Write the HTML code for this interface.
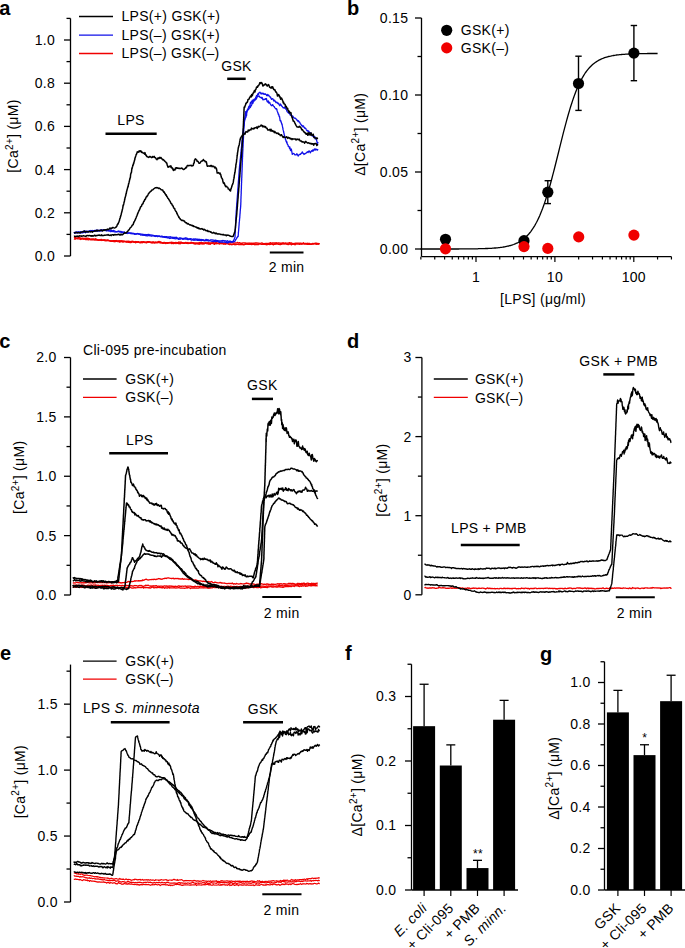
<!DOCTYPE html>
<html><head><meta charset="utf-8"><style>
html,body{margin:0;padding:0;background:#fff;}
body{width:685px;height:948px;overflow:hidden;}
svg{display:block;}
text{font-family:"Liberation Sans", sans-serif;fill:#000;letter-spacing:0.3px;}
</style></head><body>
<svg width="685" height="948" viewBox="0 0 685 948">
<text x="-0.80" y="15.00" font-size="20" text-anchor="start" font-weight="bold" font-style="normal" style="letter-spacing:0">a</text>
<line x1="70.50" y1="18.40" x2="70.50" y2="256.00" stroke="#000" stroke-width="1.3"/>
<line x1="64.00" y1="256.00" x2="70.50" y2="256.00" stroke="#000" stroke-width="1.3"/>
<line x1="64.00" y1="212.80" x2="70.50" y2="212.80" stroke="#000" stroke-width="1.3"/>
<line x1="64.00" y1="169.60" x2="70.50" y2="169.60" stroke="#000" stroke-width="1.3"/>
<line x1="64.00" y1="126.40" x2="70.50" y2="126.40" stroke="#000" stroke-width="1.3"/>
<line x1="64.00" y1="83.20" x2="70.50" y2="83.20" stroke="#000" stroke-width="1.3"/>
<line x1="64.00" y1="40.00" x2="70.50" y2="40.00" stroke="#000" stroke-width="1.3"/>
<line x1="66.50" y1="234.40" x2="70.50" y2="234.40" stroke="#000" stroke-width="1.3"/>
<line x1="66.50" y1="191.20" x2="70.50" y2="191.20" stroke="#000" stroke-width="1.3"/>
<line x1="66.50" y1="148.00" x2="70.50" y2="148.00" stroke="#000" stroke-width="1.3"/>
<line x1="66.50" y1="104.80" x2="70.50" y2="104.80" stroke="#000" stroke-width="1.3"/>
<line x1="66.50" y1="61.60" x2="70.50" y2="61.60" stroke="#000" stroke-width="1.3"/>
<line x1="66.50" y1="18.40" x2="70.50" y2="18.40" stroke="#000" stroke-width="1.3"/>
<text x="55.00" y="260.90" font-size="14" text-anchor="end" font-weight="normal" font-style="normal" >0.0</text>
<text x="55.00" y="217.70" font-size="14" text-anchor="end" font-weight="normal" font-style="normal" >0.2</text>
<text x="55.00" y="174.50" font-size="14" text-anchor="end" font-weight="normal" font-style="normal" >0.4</text>
<text x="55.00" y="131.30" font-size="14" text-anchor="end" font-weight="normal" font-style="normal" >0.6</text>
<text x="55.00" y="88.10" font-size="14" text-anchor="end" font-weight="normal" font-style="normal" >0.8</text>
<text x="55.00" y="44.90" font-size="14" text-anchor="end" font-weight="normal" font-style="normal" >1.0</text>
<text transform="translate(18.00,136.00) rotate(-90)" font-size="14" text-anchor="middle">[Ca<tspan font-size="10" dy="-5.5">2+</tspan><tspan dy="5.5">] (μM)</tspan></text>
<line x1="79.00" y1="16.50" x2="113.00" y2="16.50" stroke="#000" stroke-width="1.3"/>
<text x="121.50" y="21.20" font-size="14" text-anchor="start" font-weight="normal" font-style="normal" >LPS(+) GSK(+)</text>
<line x1="79.00" y1="35.20" x2="113.00" y2="35.20" stroke="#1010e8" stroke-width="1.3"/>
<text x="121.50" y="39.90" font-size="14" text-anchor="start" font-weight="normal" font-style="normal" >LPS(–) GSK(+)</text>
<line x1="79.00" y1="53.50" x2="113.00" y2="53.50" stroke="#f00000" stroke-width="1.3"/>
<text x="121.50" y="58.20" font-size="14" text-anchor="start" font-weight="normal" font-style="normal" >LPS(–) GSK(–)</text>
<line x1="105.50" y1="133.70" x2="156.70" y2="133.70" stroke="#000" stroke-width="2.5"/>
<text x="131.00" y="124.80" font-size="14" text-anchor="middle" font-weight="normal" font-style="normal" >LPS</text>
<line x1="227.20" y1="78.80" x2="245.70" y2="78.80" stroke="#000" stroke-width="2.5"/>
<text x="236.50" y="71.20" font-size="14" text-anchor="middle" font-weight="normal" font-style="normal" >GSK</text>
<line x1="269.80" y1="252.40" x2="303.50" y2="252.40" stroke="#000" stroke-width="2"/>
<text x="286.60" y="271.50" font-size="14" text-anchor="middle" font-weight="normal" font-style="normal" >2 min</text>
<path d="M73.9,237.7 74.5,237.6 75.1,237.5 75.7,238.0 76.3,238.2 76.9,238.2 77.5,238.0 78.1,238.1 78.7,237.4 79.3,237.7 79.9,238.0 80.5,238.1 81.1,238.4 81.7,238.5 82.3,238.7 82.9,238.2 83.5,238.4 84.1,238.6 84.7,238.4 85.3,238.7 85.9,238.5 86.5,238.4 87.1,239.0 87.7,238.4 88.3,238.5 88.9,238.9 89.5,238.8 90.1,239.1 90.7,239.4 91.3,239.1 91.9,239.3 92.5,239.1 93.1,239.0 93.7,239.1 94.3,239.2 94.9,239.7 95.5,238.8 96.1,239.3 96.7,239.5 97.3,239.7 97.9,239.8 98.5,240.2 99.1,240.2 99.7,239.9 100.3,240.1 100.9,239.5 101.5,239.6 102.1,240.1 102.7,240.1 103.3,240.0 103.9,240.3 104.5,240.5 105.1,240.1 105.7,240.5 106.3,240.4 106.9,240.6 107.5,240.3 108.1,240.4 108.7,240.6 109.3,240.8 109.9,240.8 110.5,241.1 111.1,241.0 111.7,241.1 112.3,241.0 112.9,241.1 113.5,241.3 114.1,241.6 114.7,241.2 115.3,241.4 115.9,241.2 116.5,241.1 117.1,241.3 117.7,241.4 118.3,241.4 118.9,241.3 119.5,242.0 120.1,241.7 120.7,241.6 121.3,241.0 121.9,241.3 122.5,241.8 123.1,242.1 123.7,241.4 124.3,241.6 124.9,241.4 125.5,241.8 126.1,241.8 126.7,242.2 127.3,241.9 127.9,242.1 128.5,242.2 129.1,242.1 129.7,242.4 130.3,242.4 130.9,242.4 131.5,242.3 132.1,241.5 132.7,241.8 133.3,241.5 133.9,242.2 134.5,242.2 135.1,242.0 135.7,242.6 136.3,242.3 136.9,242.2 137.5,242.0 138.1,241.8 138.7,242.1 139.3,242.2 139.9,242.8 140.5,242.6 141.1,242.5 141.7,242.3 142.3,242.5 142.9,241.9 143.5,241.8 144.1,241.9 144.7,242.2 145.3,242.4 145.9,242.4 146.5,242.8 147.1,242.4 147.7,241.7 148.3,241.9 148.9,241.7 149.5,241.9 150.1,242.0 150.7,242.5 151.3,242.7 151.9,242.2 152.5,242.5 153.1,241.9 153.7,242.5 154.3,242.6 154.9,242.3 155.5,242.1 156.1,242.4 156.7,242.2 157.3,242.1 157.9,242.1 158.5,241.8 159.1,241.6 159.7,242.3 160.3,241.9 160.9,242.2 161.6,242.7 162.2,242.8 162.8,243.1 163.4,242.6 164.0,243.2 164.6,242.7 165.2,242.9 165.8,243.5 166.4,242.9 167.0,243.1 167.6,243.3 168.2,242.8 168.8,243.0 169.4,242.8 170.0,242.6 170.6,242.9 171.2,242.6 171.8,243.5 172.4,242.8 173.0,243.3 173.6,243.5 174.2,243.3 174.8,242.9 175.4,242.8 176.0,243.5 176.6,242.7 177.2,243.0 177.8,242.7 178.4,243.5 179.0,242.8 179.6,243.5 180.2,243.7 180.8,243.3 181.4,242.6 182.0,243.0 182.6,242.8 183.2,243.1 183.8,243.2 184.4,243.3 185.0,243.0 185.6,243.0 186.2,243.1 186.8,243.2 187.4,242.9 188.0,243.5 188.6,243.3 189.2,243.2 189.8,243.0 190.4,243.1 191.0,242.4 191.6,243.1 192.2,242.7 192.8,243.1 193.4,243.3 194.0,243.7 194.6,243.6 195.2,244.0 195.8,243.7 196.4,243.8 197.0,243.7 197.6,243.8 198.2,244.0 198.8,243.7 199.4,244.1 200.0,243.7 200.6,243.7 201.2,243.5 201.8,243.7 202.4,243.7 203.0,243.9 203.6,243.8 204.2,243.8 204.8,243.3 205.4,243.2 206.0,243.1 206.6,243.5 207.2,243.6 207.8,243.3 208.4,244.0 209.0,243.9 209.6,243.5 210.2,244.1 210.8,243.5 211.4,243.4 212.0,243.1 212.7,243.1 213.3,243.6 213.9,243.9 214.5,244.2 215.1,243.6 215.7,243.3 216.3,243.6 216.9,243.5 217.5,243.5 218.1,243.5 218.7,243.5 219.3,243.9 219.9,243.7 220.5,243.3 221.1,243.6 221.7,243.5 222.3,243.4 222.9,243.6 223.5,244.0 224.1,243.7 224.7,243.8 225.3,244.1 225.9,243.6 226.5,243.7 227.1,243.6 227.7,243.7 228.3,243.8 228.9,244.3 229.5,244.5 230.1,244.1 230.7,244.2 231.3,244.6 231.9,244.4 232.5,244.4 233.1,244.3 233.7,244.1 234.3,244.3 234.9,244.7 235.5,244.2 236.1,244.4 236.7,244.2 237.3,244.3 238.0,244.3 238.6,244.4 239.2,244.3 239.8,244.4 240.4,244.4 241.0,244.4 241.6,244.5 242.2,244.4 242.8,244.3 243.4,244.7 244.0,244.7 244.6,244.4 245.2,244.1 245.8,244.1 246.4,244.1 247.0,243.7 247.6,244.2 248.2,244.2 248.8,244.1 249.4,244.0 250.0,244.3 250.6,244.3 251.2,244.2 251.8,244.4 252.4,244.3 253.0,244.1 253.6,244.0 254.2,244.3 254.8,244.7 255.4,244.2 256.0,244.4 256.6,244.5 257.2,244.5 257.8,244.3 258.4,244.4 259.0,243.7 259.6,243.8 260.2,244.0 260.8,244.0 261.4,244.2 262.0,244.3 262.6,244.0 263.2,244.1 263.8,244.3 264.4,244.1 265.0,244.3 265.6,244.3 266.2,244.6 266.8,244.5 267.4,244.4 268.0,244.2 268.6,243.9 269.2,244.3 269.8,244.4 270.4,243.9 271.0,244.2 271.6,243.8 272.2,243.9 272.8,244.4 273.4,244.7 274.0,244.0 274.6,244.3 275.2,243.8 275.8,244.1 276.4,243.8 277.0,243.9 277.6,243.9 278.2,244.1 278.8,244.2 279.4,244.2 280.0,244.4 280.6,244.4 281.2,244.3 281.8,243.9 282.4,243.9 283.0,243.4 283.6,243.9 284.2,244.0 284.8,243.8 285.4,243.7 286.0,243.9 286.6,244.1 287.2,244.0 287.8,244.4 288.4,244.4 289.0,243.9 289.6,244.1 290.2,243.4 290.8,244.1 291.4,244.6 292.0,244.1 292.6,244.3 293.2,244.2 293.8,243.6 294.4,244.2 295.0,244.7 295.6,244.1 296.2,243.8 296.8,244.0 297.4,243.9 298.0,244.0 298.6,244.0 299.2,244.1 299.8,244.1 300.4,243.8 301.0,244.2 301.6,244.0 302.2,244.0 302.8,243.9 303.4,243.8 304.0,243.7 304.6,243.9 305.2,244.0 305.8,243.6 306.4,244.0 307.0,244.1 307.6,244.3 308.2,244.0 308.8,244.2 309.4,244.2 310.0,244.2 310.6,244.3 311.2,244.3 311.8,244.2 312.4,243.9 313.0,243.9 313.6,243.7 314.2,243.8 314.8,243.7 315.4,243.9 316.0,243.7 316.6,244.2 317.2,243.9 317.8,244.1 318.4,244.2 319.0,243.8 319.6,243.8" fill="none" stroke="#f00000" stroke-width="1.6" stroke-linejoin="round"/>
<path d="M73.9,238.9 74.5,239.1 75.1,238.7 75.7,239.1 76.3,238.6 76.9,238.6 77.5,238.8 78.1,238.9 78.7,238.8 79.3,238.9 79.9,239.2 80.5,239.5 81.1,239.1 81.8,239.0 82.4,238.8 83.0,238.9 83.6,239.3 84.2,239.0 84.8,239.1 85.4,239.5 86.0,239.6 86.6,239.7 87.2,239.7 87.8,239.7 88.4,239.9 89.0,239.7 89.6,239.4 90.2,239.7 90.8,239.8 91.4,239.9 92.0,239.6 92.6,239.8 93.2,239.7 93.8,239.8 94.4,239.7 95.0,240.0 95.6,239.9 96.2,239.7 96.9,240.2 97.5,239.9 98.1,240.1 98.7,240.0 99.3,239.9 99.9,239.9 100.5,240.2 101.1,240.0 101.7,240.5 102.3,240.3 102.9,240.1 103.5,240.0 104.1,240.3 104.7,239.8 105.3,240.5 105.9,240.4 106.5,240.5 107.1,240.0 107.7,240.5 108.3,240.2 108.9,240.7 109.5,240.9 110.1,240.8 110.7,240.8 111.3,240.9 112.0,240.8 112.6,240.8 113.2,240.7 113.8,240.6 114.4,240.9 115.0,240.6 115.6,240.9 116.2,240.5 116.8,241.1 117.4,241.0 118.0,241.0 118.6,240.8 119.2,240.7 119.8,240.8 120.4,240.8 121.0,240.7 121.6,241.1 122.2,241.0 122.8,240.9 123.4,241.1 124.0,241.1 124.6,241.4 125.2,241.6 125.8,241.4 126.4,241.3 127.0,241.1 127.7,241.3 128.3,241.2 128.9,241.4 129.5,241.4 130.1,241.4 130.7,242.2 131.3,241.3 131.9,241.5 132.5,241.4 133.1,241.9 133.7,241.7 134.3,241.8 134.9,241.8 135.5,241.5 136.1,241.8 136.7,241.6 137.3,241.9 137.9,242.4 138.5,241.6 139.1,242.3 139.7,242.3 140.3,242.0 140.9,242.1 141.5,241.7 142.1,242.7 142.8,242.1 143.4,242.1 144.0,242.5 144.6,242.4 145.2,242.2 145.8,242.2 146.4,242.2 147.0,241.7 147.6,241.9 148.2,242.2 148.8,242.4 149.4,242.2 150.0,242.0 150.6,242.4 151.2,242.3 151.8,242.6 152.4,242.8 153.0,242.9 153.6,242.5 154.2,242.3 154.8,243.0 155.4,242.7 156.0,242.9 156.6,242.7 157.2,242.7 157.8,242.9 158.4,242.5 159.0,242.3 159.6,242.7 160.2,243.0 160.8,242.9 161.4,242.7 162.0,243.0 162.6,243.0 163.2,242.9 163.8,243.0 164.4,242.5 165.0,242.5 165.6,242.7 166.2,243.0 166.8,242.6 167.4,243.1 168.0,242.7 168.6,242.6 169.2,242.8 169.8,242.7 170.4,242.7 171.0,242.2 171.7,242.4 172.3,242.3 172.9,242.4 173.5,242.8 174.1,242.7 174.7,242.7 175.3,242.8 175.9,242.3 176.5,242.5 177.1,242.7 177.7,243.1 178.3,242.4 178.9,242.0 179.5,242.2 180.1,242.0 180.7,242.3 181.3,242.2 181.9,242.7 182.5,243.1 183.1,242.9 183.7,243.3 184.3,243.0 184.9,242.9 185.5,242.5 186.1,242.4 186.7,243.0 187.3,242.8 187.9,242.5 188.5,243.2 189.1,243.1 189.7,243.2 190.3,243.1 190.9,242.9 191.5,242.5 192.1,242.6 192.7,242.8 193.3,242.7 193.9,242.8 194.5,242.9 195.1,243.0 195.7,242.8 196.3,242.9 196.9,242.8 197.5,243.1 198.1,242.8 198.7,242.8 199.3,242.5 199.9,242.7 200.5,242.7 201.1,242.9 201.7,242.5 202.3,243.1 202.9,242.7 203.5,243.0 204.1,242.9 204.7,243.0 205.3,242.8 205.9,242.5 206.5,243.1 207.1,243.3 207.7,242.7 208.3,242.7 208.9,242.8 209.5,242.8 210.1,242.8 210.7,243.0 211.3,242.9 211.9,242.9 212.5,243.0 213.1,242.5 213.8,242.5 214.4,242.8 215.0,243.2 215.6,242.6 216.2,243.1 216.8,242.7 217.4,243.2 218.0,243.0 218.6,243.2 219.2,242.6 219.8,243.0 220.4,243.1 221.0,242.8 221.6,242.9 222.2,243.1 222.8,243.6 223.4,243.4 224.0,243.5 224.6,243.1 225.2,243.4 225.8,243.3 226.4,243.1 227.0,242.9 227.6,242.6 228.2,242.6 228.8,243.1 229.4,242.9 230.0,242.9 230.6,242.6 231.2,242.8 231.8,242.5 232.4,242.7 233.0,242.9 233.6,242.8 234.2,243.1 234.8,243.2 235.4,242.9 236.0,242.9 236.6,242.9 237.2,242.7 237.8,242.4 238.4,243.1 239.0,242.9 239.6,242.6 240.2,243.0 240.8,243.4 241.4,243.2 242.0,243.5 242.6,242.9 243.2,242.8 243.8,242.8 244.4,242.9 245.0,243.1 245.6,242.9 246.2,243.5 246.8,243.2 247.4,243.2 248.0,243.3 248.6,243.1 249.2,243.0 249.8,243.3 250.4,243.2 251.0,243.5 251.6,243.2 252.2,243.5 252.8,243.1 253.4,243.1 254.0,243.5 254.6,243.2 255.2,242.9 255.8,243.0 256.5,243.0 257.1,243.0 257.7,243.1 258.3,243.2 258.9,243.1 259.5,243.3 260.1,243.4 260.7,243.3 261.3,243.0 261.9,242.8 262.5,243.2 263.1,243.7 263.7,243.5 264.3,243.9 264.9,243.4 265.5,243.8 266.1,243.4 266.7,243.5 267.3,243.6 267.9,243.3 268.5,243.3 269.1,243.8 269.7,243.0 270.3,242.7 270.9,242.9 271.5,243.5 272.1,242.9 272.7,242.9 273.3,242.8 273.9,243.1 274.5,243.0 275.1,243.0 275.7,242.9 276.3,242.7 276.9,243.3 277.5,243.1 278.1,242.7 278.7,243.1 279.3,243.1 279.9,242.9 280.5,243.4 281.1,242.9 281.7,243.4 282.3,242.9 282.9,243.1 283.5,242.9 284.1,243.3 284.7,243.1 285.3,242.8 285.9,243.2 286.5,243.1 287.1,243.1 287.7,243.2 288.3,243.2 288.9,242.8 289.5,242.6 290.1,243.1 290.7,243.2 291.3,242.8 291.9,243.4 292.5,243.4 293.1,243.6 293.7,243.6 294.3,243.6 294.9,243.2 295.5,243.5 296.1,243.2 296.7,243.1 297.3,243.2 297.9,243.1 298.6,243.2 299.2,243.4 299.8,243.1 300.4,243.2 301.0,243.2 301.6,243.3 302.2,243.4 302.8,243.4 303.4,242.8 304.0,243.5 304.6,243.5 305.2,243.4 305.8,243.6 306.4,243.7 307.0,243.1 307.6,243.5 308.2,243.5 308.8,243.3 309.4,243.4 310.0,243.7 310.6,244.2 311.2,244.2 311.8,243.8 312.4,243.5 313.0,243.5 313.6,243.9 314.2,243.3 314.8,243.5 315.4,243.2 316.0,243.1 316.6,243.6 317.2,243.3 317.8,243.6 318.4,243.5 319.0,243.7 319.6,243.5" fill="none" stroke="#f00000" stroke-width="1.3" stroke-linejoin="round"/>
<path d="M73.9,233.0 74.5,232.5 75.1,232.4 75.7,232.1 76.3,232.5 76.9,232.2 77.5,231.8 78.1,231.9 78.7,232.0 79.4,231.9 80.0,232.6 80.6,231.7 81.2,232.0 81.8,232.1 82.4,231.7 83.0,231.5 83.6,231.4 84.2,230.8 84.8,231.1 85.4,231.5 86.0,231.3 86.6,231.1 87.2,231.8 87.8,231.3 88.4,231.2 89.1,231.2 89.7,230.7 90.3,231.0 90.9,230.5 91.5,231.1 92.1,230.9 92.7,230.5 93.3,230.6 93.9,230.9 94.5,230.4 95.1,231.1 95.7,230.6 96.3,230.1 96.9,230.3 97.5,230.2 98.1,230.3 98.7,230.6 99.4,230.3 100.0,230.0 100.6,230.0 101.2,230.2 101.8,230.5 102.4,230.1 103.0,229.8 103.6,229.8 104.2,230.5 104.8,230.2 105.4,230.0 106.0,230.0 106.6,230.4 107.2,230.2 107.8,230.6 108.4,230.6 109.0,230.6 109.6,230.1 110.2,230.0 110.8,230.3 111.4,230.2 112.0,231.2 112.6,231.1 113.2,230.3 113.8,230.6 114.4,230.8 115.0,231.4 115.7,231.5 116.3,231.6 116.9,231.6 117.5,231.7 118.1,231.5 118.7,231.0 119.3,231.6 119.9,231.3 120.5,231.6 121.1,231.4 121.7,232.0 122.3,232.0 122.9,231.9 123.5,232.2 124.1,232.1 124.7,232.1 125.3,232.8 125.9,233.2 126.5,232.7 127.1,233.1 127.7,233.5 128.3,233.0 128.9,232.9 129.5,232.8 130.1,232.9 130.7,233.0 131.3,232.8 131.9,233.6 132.5,233.4 133.1,233.5 133.7,233.3 134.3,233.7 134.9,233.7 135.5,234.2 136.1,234.3 136.7,233.8 137.3,233.7 137.9,233.8 138.5,233.8 139.1,234.1 139.7,234.3 140.3,234.1 140.9,234.0 141.5,234.2 142.1,234.1 142.7,234.3 143.3,234.3 143.9,234.7 144.5,234.6 145.1,234.5 145.7,235.0 146.3,234.6 146.9,234.8 147.5,234.5 148.1,234.8 148.7,234.4 149.3,234.7 149.9,235.0 150.5,234.9 151.1,235.0 151.7,235.1 152.3,235.2 152.9,235.4 153.5,235.5 154.1,235.6 154.7,236.1 155.3,235.8 155.9,235.7 156.5,235.9 157.1,235.7 157.7,236.2 158.3,235.8 158.9,236.2 159.5,236.0 160.1,236.5 160.7,236.5 161.3,236.2 161.9,236.2 162.5,236.4 163.1,236.6 163.7,236.9 164.3,236.7 164.9,236.5 165.5,237.0 166.1,236.6 166.7,236.7 167.3,236.8 167.9,237.2 168.5,236.9 169.1,237.1 169.7,237.0 170.3,236.6 170.9,237.3 171.5,237.2 172.1,237.2 172.7,237.5 173.3,237.4 173.9,237.5 174.5,237.3 175.1,237.8 175.7,237.4 176.3,237.2 176.9,237.6 177.5,238.2 178.1,238.4 178.7,238.5 179.3,238.0 179.9,238.0 180.5,238.0 181.1,238.1 181.7,238.4 182.3,238.6 182.9,238.3 183.5,238.6 184.2,238.3 184.8,238.3 185.4,237.9 186.0,238.0 186.6,238.1 187.2,238.4 187.8,238.7 188.4,238.9 189.0,238.9 189.6,239.1 190.2,238.7 190.8,239.0 191.4,239.0 192.0,239.0 192.6,239.3 193.2,239.1 193.8,238.8 194.4,239.4 195.0,239.0 195.6,238.8 196.2,239.1 196.8,239.4 197.4,239.2 198.0,239.4 198.6,239.4 199.2,239.2 199.8,239.8 200.4,239.6 201.0,239.5 201.7,239.6 202.3,240.0 202.9,239.7 203.5,239.8 204.1,240.0 204.7,240.3 205.3,240.1 205.9,239.4 206.5,239.7 207.1,239.7 207.7,239.8 208.3,239.9 208.9,240.2 209.5,240.3 210.1,240.1 210.7,239.8 211.3,239.8 211.9,239.8 212.5,240.0 213.1,240.1 213.7,240.1 214.3,240.3 214.9,240.4 215.5,240.2 216.1,240.4 216.7,240.7 217.3,241.0 217.9,240.7 218.5,240.9 219.2,240.9 219.8,241.2 220.4,240.9 221.0,241.0 221.6,240.7 222.2,241.1 222.8,240.4 223.4,240.6 224.0,240.6 224.6,241.0 225.2,241.1 225.8,240.7 226.4,241.4 227.0,241.3 227.6,240.8 228.2,241.4 228.8,241.3 229.4,241.5 230.0,241.0 230.7,241.4 231.3,241.7 231.9,241.5 232.5,241.5 233.1,241.3 233.4,241.2 233.6,240.8 233.9,239.7 234.2,239.4 234.5,238.3 234.7,238.1 235.0,237.2 235.0,236.7 235.1,236.2 235.1,235.7 235.1,235.1 235.1,234.5 235.2,233.7 235.2,233.5 235.2,231.9 235.3,231.5 235.3,231.3 235.3,230.7 235.3,230.4 235.4,229.4 235.4,228.5 235.4,228.3 235.5,227.7 235.5,227.1 235.5,226.9 235.5,226.7 235.6,225.5 235.6,224.8 235.6,224.8 235.7,223.3 235.7,222.8 235.7,222.3 235.7,222.0 235.8,221.6 235.8,220.6 235.8,219.5 235.9,218.8 235.9,218.7 235.9,217.9 235.9,217.7 236.0,216.6 236.0,216.3 236.0,215.7 236.1,215.3 236.1,214.6 236.1,213.8 236.1,213.3 236.2,213.3 236.2,212.4 236.2,211.9 236.3,211.2 236.3,210.3 236.4,210.3 236.4,209.6 236.5,208.8 236.5,208.0 236.5,207.3 236.6,206.9 236.6,206.1 236.7,206.0 236.7,204.9 236.8,204.3 236.8,203.6 236.8,203.3 236.9,202.8 236.9,201.9 237.0,201.5 237.0,200.7 237.1,200.4 237.1,199.6 237.2,198.7 237.2,198.3 237.2,198.2 237.3,197.4 237.3,197.0 237.4,196.2 237.4,195.5 237.5,195.0 237.5,194.7 237.5,194.0 237.6,193.3 237.6,192.8 237.7,192.4 237.7,191.9 237.8,190.8 237.8,190.2 237.8,189.3 237.9,188.9 237.9,188.2 238.0,188.3 238.0,187.0 238.1,186.7 238.1,186.2 238.1,185.6 238.2,185.0 238.2,184.1 238.3,183.5 238.3,182.9 238.4,182.2 238.4,181.6 238.4,181.0 238.5,180.7 238.5,180.0 238.6,179.7 238.6,179.4 238.7,178.9 238.7,177.7 238.8,176.9 238.8,176.1 238.8,175.9 238.9,175.3 238.9,174.9 239.0,173.9 239.0,173.2 239.1,173.2 239.1,172.2 239.1,171.6 239.2,171.0 239.2,170.0 239.3,170.0 239.3,169.4 239.4,168.6 239.4,168.2 239.5,167.5 239.5,166.8 239.6,165.8 239.6,165.7 239.7,164.7 239.8,164.3 239.8,164.0 239.9,163.4 239.9,162.7 240.0,161.5 240.1,161.5 240.1,160.4 240.2,159.7 240.2,159.7 240.3,159.0 240.4,158.5 240.4,158.2 240.5,157.2 240.5,156.6 240.6,155.9 240.7,155.3 240.7,155.0 240.8,154.7 240.8,154.0 240.9,153.6 240.9,152.6 241.0,151.8 241.1,151.3 241.1,150.1 241.2,149.6 241.2,149.3 241.3,149.0 241.4,148.2 241.4,148.0 241.5,147.0 241.5,147.0 241.6,145.9 241.7,145.4 241.7,144.6 241.8,144.0 241.8,143.3 241.9,142.6 242.0,141.6 242.0,141.2 242.1,141.0 242.1,140.3 242.2,139.9 242.3,139.0 242.3,138.3 242.4,137.5 242.5,137.0 242.5,136.4 242.6,135.9 242.6,135.3 242.7,134.8 242.8,134.5 242.8,133.4 242.9,133.0 243.0,131.8 243.0,131.7 243.1,131.3 243.1,130.3 243.2,130.0 243.3,129.4 243.4,129.0 243.5,128.4 243.6,128.1 243.6,127.3 243.7,126.3 243.8,126.0 243.9,125.3 244.0,124.4 244.1,124.0 244.2,123.3 244.3,122.4 244.4,122.4 244.4,121.6 244.5,120.8 244.6,119.9 244.7,119.6 244.8,119.1 244.9,119.1 245.0,118.2 245.1,117.0 245.2,116.0 245.3,116.2 245.3,116.0 245.4,114.7 245.5,114.1 245.6,113.0 245.7,111.6 246.0,111.5 246.2,112.1 246.5,112.6 246.8,111.2 247.0,110.8 247.3,109.9 247.6,109.2 247.8,109.1 248.1,108.7 248.4,108.2 248.7,106.6 248.9,106.5 249.2,106.1 249.5,106.0 249.7,106.2 250.0,104.8 250.4,102.7 250.8,103.5 251.2,101.7 251.6,102.0 251.9,101.4 252.3,100.2 252.7,101.6 253.1,100.1 253.5,100.5 253.9,99.4 254.3,99.3 254.7,99.8 255.1,99.2 255.4,98.4 255.8,97.3 256.2,96.7 256.6,95.5 257.0,95.8 257.4,95.4 257.8,93.9 258.2,93.7 258.5,94.6 258.9,92.9 259.3,92.7 259.7,92.3 260.1,92.2 260.6,93.2 261.2,94.0 261.7,93.1 262.3,93.8 262.8,93.2 263.3,93.4 263.9,94.3 264.4,94.4 265.0,93.6 265.5,94.3 266.0,94.3 266.6,95.4 267.1,95.8 267.7,94.4 268.2,95.5 268.7,95.1 269.2,96.2 269.7,96.3 270.1,97.3 270.6,97.1 271.1,98.7 271.6,99.4 272.1,98.6 272.6,98.9 273.0,99.0 273.5,100.3 274.0,101.0 274.5,100.1 275.0,101.1 275.5,101.4 276.0,102.7 276.4,102.4 276.9,102.2 277.4,103.0 277.9,103.5 278.4,103.1 278.9,104.3 279.4,105.0 279.8,105.7 280.3,103.9 280.8,105.2 281.3,105.0 281.8,106.2 282.3,106.6 282.7,107.2 283.2,107.9 283.7,107.6 284.2,108.1 284.6,107.3 285.1,108.2 285.5,107.9 285.9,109.3 286.4,109.6 286.8,110.8 287.2,111.8 287.6,111.8 288.1,112.5 288.5,113.1 288.9,112.3 289.4,112.7 289.8,114.1 290.2,115.1 290.6,115.2 291.1,114.7 291.5,115.3 291.9,116.1 292.4,116.7 292.8,116.0 293.2,117.0 293.7,117.7 294.1,117.8 294.5,118.2 295.0,118.3 295.4,118.2 295.8,118.6 296.2,119.3 296.7,119.4 297.1,120.4 297.6,120.3 298.0,121.6 298.5,120.8 298.9,121.9 299.4,122.0 299.8,122.5 300.3,123.8 300.8,124.0 301.2,124.9 301.7,125.8 302.1,125.5 302.6,126.2 303.0,126.9 303.5,125.9 304.0,127.3 304.4,127.3 304.9,128.4 305.3,128.1 305.8,128.5 306.2,129.5 306.7,130.3 307.2,130.9 307.6,130.5 308.1,131.3 308.5,131.0 309.0,131.5 309.4,132.4 309.9,132.8 310.3,133.1 310.7,132.8 311.1,134.6 311.5,134.6 311.9,135.8 312.3,135.4 312.7,135.2 313.1,136.6 313.5,135.8 313.9,137.4 314.4,136.8 314.8,136.5 315.2,138.9 315.6,138.8 316.0,139.0 316.4,139.8 316.8,141.0 317.2,142.8 317.6,143.2 318.0,141.9" fill="none" stroke="#1010e8" stroke-width="1.3" stroke-linejoin="round"/>
<path d="M73.9,233.4 74.5,233.2 75.1,232.9 75.7,233.0 76.3,232.3 76.9,232.7 77.5,233.0 78.1,232.6 78.7,232.4 79.4,232.4 80.0,233.1 80.6,232.9 81.2,232.8 81.8,232.8 82.4,232.8 83.0,232.9 83.6,232.3 84.2,232.3 84.8,232.1 85.4,232.7 86.0,232.2 86.6,232.2 87.2,232.1 87.8,232.2 88.4,231.9 89.1,231.7 89.7,231.3 90.3,231.3 90.9,230.7 91.5,231.3 92.1,231.4 92.7,231.1 93.3,231.0 93.9,231.0 94.5,231.1 95.1,230.5 95.7,231.1 96.3,231.0 96.9,231.0 97.5,230.9 98.1,231.1 98.7,230.8 99.4,230.6 100.0,231.0 100.6,230.9 101.2,230.8 101.8,230.0 102.4,230.7 103.0,230.3 103.6,230.3 104.2,230.1 104.8,230.1 105.4,230.1 106.0,230.8 106.6,231.0 107.2,230.5 107.8,230.4 108.4,230.8 109.0,231.0 109.6,230.9 110.2,231.0 110.8,231.7 111.4,231.2 112.0,231.1 112.6,231.5 113.2,231.5 113.8,231.4 114.4,231.8 115.0,232.0 115.7,231.8 116.3,231.9 116.9,231.8 117.5,231.4 118.1,231.5 118.7,231.7 119.3,231.8 119.9,231.9 120.5,232.1 121.1,232.2 121.7,232.6 122.3,232.7 122.9,232.5 123.5,232.7 124.1,232.7 124.7,232.3 125.3,233.0 125.9,232.7 126.5,233.0 127.1,232.9 127.7,232.8 128.3,233.0 128.9,233.0 129.5,233.2 130.1,233.3 130.7,233.7 131.3,233.7 131.9,233.6 132.5,233.5 133.1,233.5 133.7,233.8 134.3,234.3 134.9,234.0 135.5,234.0 136.1,233.8 136.7,233.8 137.3,233.6 137.9,233.5 138.5,234.0 139.1,233.9 139.7,234.0 140.3,234.7 140.9,235.1 141.5,235.0 142.1,234.7 142.7,235.3 143.3,234.9 143.9,235.4 144.5,235.2 145.1,235.5 145.7,235.4 146.3,235.5 146.9,235.9 147.5,235.9 148.1,235.7 148.7,235.6 149.3,235.5 149.9,235.8 150.5,235.8 151.1,236.0 151.7,236.1 152.3,235.8 152.9,235.8 153.5,235.7 154.1,235.9 154.7,236.2 155.3,236.5 155.9,236.2 156.5,236.1 157.1,236.6 157.7,236.6 158.3,236.4 158.9,236.3 159.5,236.2 160.1,236.7 160.7,236.7 161.3,236.8 161.9,236.8 162.5,237.1 163.1,237.1 163.7,236.9 164.3,237.3 164.9,237.3 165.5,237.5 166.1,237.7 166.7,237.3 167.3,237.6 167.9,238.0 168.5,237.6 169.1,238.1 169.7,238.5 170.3,238.3 170.9,238.0 171.5,238.0 172.1,238.2 172.7,238.3 173.3,238.1 173.9,238.5 174.5,238.5 175.1,238.7 175.7,238.8 176.3,238.5 176.9,238.6 177.5,238.6 178.1,239.1 178.7,239.3 179.3,239.3 179.9,238.8 180.5,239.1 181.1,238.7 181.7,238.5 182.3,239.0 182.9,239.3 183.5,239.0 184.1,239.2 184.8,238.5 185.4,239.1 186.0,238.9 186.6,239.2 187.2,239.5 187.8,239.7 188.4,239.5 189.0,239.4 189.6,239.1 190.2,239.1 190.8,239.7 191.4,240.1 192.0,240.2 192.6,240.0 193.2,239.7 193.8,240.4 194.4,240.1 195.0,239.9 195.6,240.2 196.2,240.1 196.8,239.9 197.4,240.3 198.0,240.5 198.6,240.1 199.2,240.4 199.8,240.4 200.4,240.7 201.0,240.0 201.6,240.7 202.2,240.3 202.9,240.0 203.5,240.7 204.1,240.7 204.7,240.9 205.3,240.6 205.9,240.7 206.5,240.6 207.1,240.3 207.7,240.6 208.3,241.0 208.9,240.9 209.5,240.6 210.1,240.8 210.7,241.0 211.3,241.2 211.9,241.3 212.5,241.3 213.1,241.6 213.7,241.2 214.3,241.4 214.9,241.5 215.5,241.6 216.1,241.7 216.7,241.4 217.3,241.2 217.9,241.4 218.5,242.0 219.1,241.7 219.7,242.3 220.3,242.1 221.0,242.2 221.6,242.0 222.2,241.9 222.8,242.3 223.4,242.2 224.0,242.1 224.6,242.0 225.2,242.3 225.8,242.5 226.4,242.5 227.0,242.7 227.6,243.0 228.2,242.7 228.8,242.4 229.4,242.0 230.0,241.9 230.6,242.1 231.2,241.8 231.8,242.3 232.5,242.2 233.1,241.5 233.7,241.9 234.3,241.6 234.6,241.6 235.0,241.1 235.3,240.4 235.7,239.6 236.0,239.3 236.4,238.8 236.7,237.9 237.1,237.8 237.4,237.0 237.8,236.3 238.1,236.6 238.2,236.2 238.2,235.5 238.3,234.8 238.3,234.5 238.4,232.9 238.4,232.5 238.5,232.1 238.5,231.6 238.6,230.9 238.6,230.3 238.7,230.3 238.7,228.9 238.8,228.5 238.8,228.1 238.9,227.3 238.9,226.7 239.0,226.0 239.0,225.8 239.1,224.7 239.1,224.0 239.2,223.1 239.2,222.4 239.3,222.1 239.3,221.7 239.4,221.4 239.5,220.3 239.5,219.7 239.6,219.2 239.6,218.7 239.7,218.2 239.7,217.8 239.8,217.5 239.8,216.5 239.9,215.7 239.9,214.8 240.0,214.2 240.0,213.6 240.1,213.4 240.1,212.6 240.2,212.1 240.2,211.0 240.3,210.8 240.3,209.7 240.4,209.3 240.4,209.2 240.5,208.5 240.5,207.8 240.6,207.3 240.6,206.7 240.7,206.4 240.7,205.9 240.7,205.1 240.8,204.5 240.8,203.9 240.8,203.0 240.8,202.5 240.9,202.3 240.9,201.0 240.9,200.0 240.9,199.8 240.9,199.0 241.0,198.3 241.0,197.8 241.0,197.4 241.0,196.5 241.1,195.9 241.1,195.5 241.1,194.9 241.1,194.6 241.2,193.9 241.2,193.5 241.2,192.5 241.2,192.0 241.2,191.6 241.3,190.2 241.3,189.7 241.3,189.3 241.3,189.2 241.4,188.6 241.4,187.8 241.4,187.8 241.4,186.5 241.4,185.5 241.5,185.6 241.5,185.1 241.5,184.0 241.5,183.2 241.6,182.8 241.6,182.5 241.6,181.4 241.6,181.6 241.6,180.5 241.7,180.2 241.7,179.3 241.7,178.4 241.7,178.6 241.8,177.4 241.8,177.1 241.8,175.9 241.8,175.7 241.9,175.2 241.9,173.9 241.9,173.7 241.9,173.2 241.9,172.7 242.0,172.5 242.0,172.0 242.0,171.4 242.0,170.2 242.1,170.2 242.1,169.5 242.1,168.5 242.1,168.1 242.1,167.7 242.2,167.2 242.2,166.1 242.2,166.0 242.2,165.5 242.3,164.6 242.3,163.5 242.3,162.8 242.3,162.1 242.4,162.1 242.4,161.6 242.4,161.0 242.4,160.4 242.4,159.6 242.5,158.7 242.5,157.9 242.5,157.6 242.5,156.9 242.6,156.7 242.6,155.7 242.6,155.5 242.6,154.9 242.7,153.7 242.7,153.6 242.7,153.3 242.7,152.3 242.8,152.0 242.8,151.7 242.8,150.5 242.9,150.2 242.9,149.7 242.9,149.0 242.9,148.4 243.0,147.7 243.0,146.7 243.0,146.4 243.1,146.2 243.1,144.7 243.1,144.3 243.1,143.6 243.2,143.2 243.2,142.3 243.2,142.0 243.3,141.8 243.3,140.5 243.3,140.5 243.3,139.6 243.4,138.9 243.4,138.6 243.4,138.2 243.5,137.3 243.5,136.6 243.5,136.1 243.5,135.5 243.6,135.2 243.6,133.8 243.6,133.3 243.7,133.0 243.7,132.4 243.7,132.2 243.7,131.5 243.8,130.6 243.8,129.5 243.8,129.2 243.9,128.5 243.9,127.9 244.0,126.9 244.0,127.0 244.1,125.9 244.1,126.1 244.2,125.0 244.2,125.0 244.2,124.0 244.3,122.9 244.3,122.1 244.4,121.9 244.4,121.6 244.5,120.9 244.5,120.6 244.7,119.9 244.9,119.1 245.1,118.6 245.2,118.1 245.4,117.2 245.6,117.3 245.8,117.5 246.0,116.6 246.2,116.4 246.4,115.1 246.6,115.4 246.7,113.1 246.9,112.1 247.1,110.6 247.3,111.0 247.7,110.2 248.0,110.0 248.4,109.6 248.7,109.0 249.1,108.9 249.4,107.9 249.8,107.6 250.1,107.7 250.5,107.1 250.8,105.5 251.2,105.8 251.5,105.4 251.8,104.5 252.2,102.6 252.6,103.2 252.9,103.3 253.2,102.0 253.6,101.6 254.0,101.2 254.3,99.5 254.7,99.3 255.0,100.2 255.3,99.9 255.7,98.3 256.1,98.2 256.4,99.0 256.8,97.3 257.1,97.2 257.4,96.6 257.8,96.6 258.1,96.4 258.5,96.1 259.0,96.0 259.5,96.5 260.0,97.3 260.5,97.4 261.0,97.6 261.4,98.3 261.9,97.3 262.4,98.0 262.9,99.8 263.4,99.6 263.9,99.3 264.4,99.6 264.9,99.2 265.4,98.6 265.9,99.4 266.4,98.5 266.9,100.8 267.3,101.9 267.8,102.0 268.3,100.9 268.8,103.1 269.3,102.2 269.8,102.6 270.3,104.0 270.8,104.9 271.3,105.3 271.8,105.7 272.3,104.9 272.8,104.7 273.2,105.7 273.7,106.2 274.2,106.6 274.7,107.6 275.2,108.2 275.7,108.9 276.2,108.7 276.4,109.2 276.6,108.8 276.9,109.6 277.1,110.7 277.3,111.3 277.5,111.7 277.7,112.4 277.9,112.8 278.2,113.9 278.4,114.4 278.6,114.1 278.8,114.8 279.0,115.9 279.3,116.8 279.5,116.4 279.7,117.6 279.9,119.0 280.1,120.7 280.3,120.1 280.6,121.1 280.8,121.2 281.0,121.0 281.1,122.3 281.3,122.5 281.4,122.5 281.6,123.7 281.7,123.9 281.9,123.7 282.0,124.8 282.2,124.5 282.3,126.0 282.5,126.5 282.6,126.7 282.7,127.8 282.9,128.1 283.0,129.4 283.2,129.9 283.3,130.4 283.5,131.1 283.6,132.1 283.8,131.9 283.9,132.9 284.1,133.8 284.2,134.6 284.3,135.3 284.5,135.4 284.6,136.4 284.8,136.8 284.9,137.1 285.1,137.4 285.2,138.7 285.4,138.6 285.5,139.6 285.7,140.1 285.8,139.8 286.1,141.4 286.4,141.1 286.6,142.6 286.9,141.8 287.2,143.9 287.5,144.3 287.8,144.7 288.1,145.3 288.3,146.3 288.6,146.2 288.9,146.8 289.2,147.0 289.5,148.4 289.8,146.8 290.0,148.0 290.3,149.8 290.6,150.6 290.9,149.4 291.2,149.0 291.5,149.9 291.7,151.1 292.0,152.6 292.3,154.3 292.9,153.6 293.6,153.5 294.2,153.8 294.9,154.9 295.5,154.8 296.1,155.0 296.8,153.7 297.4,154.6 298.1,156.1 298.7,155.5 299.3,154.3 299.9,154.3 300.5,154.5 301.0,153.4 301.6,153.3 302.2,151.9 302.8,153.1 303.4,153.4 304.0,154.5 304.5,153.8 305.1,153.5 305.7,153.6 306.3,152.9 306.9,152.3 307.5,151.8 308.1,152.5 308.6,151.2 309.2,151.0 309.8,151.8 310.4,152.8 311.0,151.4 311.6,150.8 312.2,151.3 312.7,149.9 313.3,151.0 313.9,149.8 314.5,149.0 315.1,150.2 315.7,149.0 316.2,149.1 316.8,149.9 317.4,150.1 318.0,149.1" fill="none" stroke="#1010e8" stroke-width="1.3" stroke-linejoin="round"/>
<path d="M73.9,233.1 74.5,232.8 75.1,232.7 75.7,232.5 76.3,232.2 76.9,232.8 77.5,232.8 78.1,232.8 78.7,232.5 79.3,232.8 79.9,232.8 80.5,232.7 81.1,232.2 81.7,232.1 82.3,231.9 82.9,232.0 83.5,231.4 84.1,231.4 84.7,231.0 85.3,232.2 85.9,231.9 86.5,231.6 87.1,231.7 87.7,231.6 88.3,232.0 88.9,231.5 89.5,231.6 90.1,232.0 90.6,231.7 91.2,231.8 91.8,231.4 92.4,232.1 93.0,231.6 93.6,231.4 94.2,231.2 94.8,230.8 95.4,230.9 96.0,231.0 96.6,230.3 97.2,230.9 97.8,230.3 98.4,230.4 99.0,230.6 99.6,230.8 100.2,230.3 100.8,230.2 101.4,230.1 102.0,230.8 102.6,230.9 103.2,230.1 103.8,230.4 104.4,229.8 105.0,230.2 105.6,229.8 106.2,229.6 106.8,229.9 107.4,229.1 108.0,229.6 108.6,229.6 109.3,228.7 109.9,228.1 110.5,228.7 111.1,228.2 111.7,228.5 112.3,227.9 112.9,227.4 113.5,227.7 114.2,227.9 114.8,227.9 115.4,227.6 116.0,227.2 116.3,226.9 116.6,226.3 116.9,226.1 117.2,225.0 117.5,224.2 117.8,223.9 118.1,223.9 118.4,223.0 118.7,222.3 119.0,222.0 119.2,220.8 119.3,220.7 119.5,220.3 119.6,219.6 119.8,218.8 120.0,218.3 120.1,218.2 120.3,217.8 120.4,216.6 120.6,216.6 120.8,215.5 120.9,215.3 121.1,215.3 121.2,214.3 121.4,213.3 121.5,212.8 121.7,212.4 121.9,211.4 122.0,211.3 122.2,210.1 122.3,209.7 122.5,209.0 122.6,208.7 122.8,207.8 122.9,206.8 123.1,206.0 123.2,205.3 123.3,204.8 123.5,205.2 123.6,204.7 123.8,203.7 123.9,203.2 124.0,202.5 124.2,201.8 124.3,201.8 124.5,200.7 124.6,199.8 124.7,199.1 124.9,199.2 125.0,197.7 125.2,197.6 125.3,197.0 125.4,196.8 125.6,195.9 125.7,195.1 125.9,195.1 126.0,193.9 126.2,193.3 126.3,193.4 126.5,191.9 126.6,191.4 126.8,191.0 126.9,190.2 127.1,189.8 127.2,189.0 127.4,188.5 127.5,188.0 127.7,187.7 127.8,187.3 128.0,186.2 128.2,186.4 128.3,185.1 128.5,184.7 128.6,183.5 128.8,183.6 128.9,182.9 129.1,182.2 129.2,181.5 129.4,181.1 129.5,180.3 129.7,179.6 129.8,178.7 130.0,178.9 130.1,178.0 130.2,177.7 130.4,177.4 130.5,176.0 130.6,174.7 130.7,174.2 130.9,173.6 131.0,172.8 131.1,172.7 131.2,172.5 131.3,172.9 131.5,172.1 131.6,170.8 131.7,170.0 131.8,168.7 132.0,168.2 132.1,168.6 132.2,167.4 132.4,167.2 132.6,166.7 132.8,165.0 133.0,165.4 133.2,164.8 133.4,164.3 133.6,162.9 133.7,163.6 133.9,162.7 134.1,161.8 134.3,161.3 134.5,160.1 134.7,160.0 134.9,159.0 135.1,157.7 135.3,157.6 135.5,156.6 135.8,156.0 136.0,154.9 136.2,154.7 136.4,154.5 136.6,153.7 136.9,153.0 137.1,152.9 137.3,151.7 138.0,152.3 138.6,151.8 139.3,150.8 139.9,151.8 140.6,150.8 141.2,151.1 141.7,152.4 142.3,152.3 142.9,152.8 143.5,153.2 144.0,153.0 144.6,154.1 145.0,152.6 145.3,154.2 145.7,154.7 146.1,155.6 146.4,155.4 146.8,156.5 147.4,156.8 148.1,157.1 148.7,157.5 149.3,156.9 149.9,156.4 150.6,156.9 151.2,157.3 151.8,157.6 152.4,156.5 153.0,157.2 153.6,156.9 154.2,156.4 154.8,157.6 155.2,157.5 155.7,158.0 156.1,158.8 156.6,159.2 157.0,159.6 157.6,158.6 158.2,157.8 158.7,158.7 159.3,158.1 159.9,157.3 160.4,158.1 161.0,157.6 161.6,158.5 162.1,159.0 162.6,159.8 163.2,159.5 163.6,160.0 164.0,160.2 164.4,160.9 164.8,161.2 165.3,161.6 165.7,161.8 166.1,162.6 166.5,163.0 166.8,163.0 167.0,164.1 167.2,165.1 167.5,165.6 167.8,166.8 168.0,167.2 168.7,167.1 169.4,166.2 170.2,166.7 170.9,165.8 171.2,167.6 171.5,167.5 171.8,167.3 172.2,168.4 172.5,168.9 172.8,168.4 173.1,169.8 173.4,170.5 173.9,169.6 174.4,169.9 174.9,170.0 175.4,168.1 175.9,168.6 176.4,167.7 176.9,167.7 177.4,168.2 178.1,168.0 178.7,168.4 179.3,168.3 180.0,168.6 180.6,168.5 181.2,168.3 181.8,168.0 182.4,168.6 183.0,169.2 183.6,169.6 184.1,169.4 184.5,169.2 185.0,168.3 185.4,168.3 185.9,167.4 186.4,167.8 186.8,166.8 187.3,165.5 187.9,165.4 188.6,165.8 189.2,165.4 189.9,165.5 190.5,165.5 191.2,165.2 191.8,165.9 192.5,165.8 193.1,165.5 193.3,165.3 193.5,163.8 193.8,163.2 194.0,162.9 194.2,163.0 194.4,160.7 194.6,160.0 194.9,159.8 195.1,159.2 195.3,158.9 195.7,159.2 196.2,159.6 196.6,159.8 197.1,161.2 197.5,161.1 197.9,161.4 198.4,162.0 198.8,163.0 199.3,163.3 199.7,163.3 200.2,162.7 200.6,162.1 201.1,161.4 201.6,161.1 202.0,160.8 202.5,161.0 202.9,160.3 203.4,159.5 204.0,160.6 204.7,160.8 205.3,161.8 205.9,161.5 206.1,161.7 206.3,161.7 206.5,163.0 206.7,163.5 206.8,164.0 207.0,165.3 207.2,165.6 207.4,166.3 208.1,166.0 208.7,166.1 209.4,166.1 210.1,166.4 210.7,165.4 211.4,165.4 212.0,166.8 212.5,166.1 213.1,166.3 213.6,166.2 214.2,167.0 214.7,167.9 215.2,167.1 215.8,167.7 216.0,167.9 216.2,168.8 216.4,168.5 216.6,169.3 216.8,170.4 217.0,171.9 217.2,173.0 217.8,172.9 218.4,172.6 218.9,173.2 219.5,173.7 220.1,173.1 220.3,174.3 220.5,174.8 220.7,174.4 220.9,175.4 221.1,176.3 221.3,177.1 221.5,177.9 221.7,177.9 221.9,178.2 222.2,178.7 222.4,179.3 222.6,179.3 222.8,181.1 223.0,181.5 223.2,182.5 223.4,183.0 223.6,183.3 223.8,183.5 224.2,182.9 224.7,184.3 225.1,185.6 225.6,186.5 226.0,186.8 226.5,186.2 226.9,186.9 227.4,187.2 227.8,187.4 228.3,189.1 228.7,189.1 229.2,189.2 229.6,190.1 230.5,191.0 230.7,189.9 230.9,188.9 231.2,188.6 231.4,187.8 231.6,187.3 231.8,186.1 232.0,186.2 232.2,185.0 232.4,184.6 232.7,184.2 232.9,183.6 233.1,182.9 233.2,182.4 233.3,182.4 233.4,181.5 233.5,180.6 233.6,179.6 233.7,179.2 233.8,178.9 233.9,178.5 234.0,178.1 234.1,177.7 234.2,176.7 234.3,175.3 234.4,175.1 234.5,174.6 234.6,174.1 234.7,173.5 234.8,173.0 234.9,172.3 235.0,172.3 235.1,171.6 235.2,170.8 235.3,169.6 235.4,169.1 235.5,168.2 235.6,167.8 235.7,167.3 235.8,167.0 235.8,166.3 235.9,164.6 236.0,164.8 236.1,163.9 236.2,163.4 236.2,162.7 236.3,162.6 236.4,162.4 236.5,162.0 236.6,160.8 236.6,159.8 236.7,159.3 236.8,159.1 236.9,158.4 237.0,157.5 237.1,156.5 237.1,155.3 237.2,155.8 237.3,155.0 237.4,154.6 237.5,153.4 237.5,153.1 237.6,152.4 237.7,152.2 237.8,151.2 237.9,151.2 237.9,150.3 238.0,150.5 238.1,149.2 238.2,148.5 238.4,147.8 238.5,147.3 238.6,146.6 238.8,146.2 238.9,145.6 239.1,145.4 239.2,144.8 239.3,144.4 239.5,143.1 239.6,142.4 239.7,141.5 239.9,141.3 240.0,140.2 240.2,139.6 240.3,139.0 240.4,138.3 240.6,137.9 240.7,138.1 241.2,136.9 241.6,136.7 242.1,135.5 242.6,135.2 243.1,135.2 243.6,134.6 244.0,134.1 244.5,133.4 245.0,134.1 245.6,132.2 246.1,131.6 246.6,132.1 247.2,131.8 247.7,132.0 248.2,130.1 248.8,130.7 249.3,130.7 249.9,129.8 250.4,129.7 250.9,129.9 251.5,128.1 252.0,128.6 252.6,128.7 253.2,129.0 253.7,128.3 254.3,128.7 254.9,127.7 255.5,127.7 256.0,127.8 256.6,127.1 257.2,128.5 257.8,127.1 258.3,126.3 258.9,126.9 259.5,126.5 260.1,126.2 260.6,125.8 261.2,125.0 261.8,125.9 262.3,125.5 262.9,127.0 263.4,126.6 263.9,126.1 264.5,126.8 265.0,127.3 265.5,126.6 266.1,127.8 266.6,128.2 267.1,128.3 267.7,130.0 268.2,130.1 268.8,130.0 269.3,129.7 269.9,129.4 270.4,130.9 271.0,129.3 271.5,130.5 272.1,131.4 272.6,130.6 273.2,131.0 273.7,131.5 274.3,132.6 274.8,131.4 275.4,132.5 275.9,132.7 276.5,133.3 277.0,133.5 277.6,133.2 278.1,133.1 278.7,134.3 279.2,134.0 279.8,134.5 280.3,135.6 280.9,135.3 281.4,134.7 282.0,135.7 282.5,136.3 283.1,137.5 283.6,136.7 284.2,137.3 284.8,137.1 285.4,137.4 286.0,137.5 286.6,136.7 287.2,137.3 287.8,138.4 288.4,137.3 289.0,137.6 289.6,138.1 290.2,138.9 290.8,138.3 291.4,138.6 292.0,139.7 292.5,138.8 293.1,139.0 293.7,139.0 294.3,139.0 294.9,139.1 295.5,139.0 296.1,140.0 296.7,139.3 297.3,139.1 297.9,139.6 298.5,139.7 299.1,139.1 299.7,140.1 300.3,141.1 300.9,141.0 301.5,141.1 302.1,142.0 302.7,141.8 303.4,141.9 304.0,141.9 304.6,143.2 305.2,142.2 305.8,141.4 306.4,142.1 307.0,142.5 307.6,143.1 308.2,143.1 308.8,142.7 309.5,143.3 310.1,143.7 310.7,143.3 311.3,144.0 311.9,143.5 312.5,144.1 313.1,143.8 313.7,145.3 314.3,143.6 314.9,143.8 315.6,143.4 316.2,143.6 316.8,145.5 317.4,145.0 318.0,144.3" fill="none" stroke="#000" stroke-width="1.5" stroke-linejoin="round"/>
<path d="M73.9,236.4 74.5,236.2 75.1,236.5 75.7,236.5 76.3,236.2 76.9,236.6 77.5,236.0 78.1,236.4 78.7,236.3 79.3,235.8 79.9,235.9 80.5,236.1 81.1,235.8 81.7,236.3 82.3,236.1 82.9,236.1 83.5,235.7 84.1,235.9 84.7,236.1 85.3,236.3 85.9,236.5 86.5,235.7 87.1,235.6 87.7,235.6 88.3,235.8 88.9,235.5 89.5,235.6 90.1,235.7 90.7,236.0 91.3,235.7 91.9,236.2 92.5,235.7 93.1,236.0 93.7,236.0 94.3,235.4 94.9,235.1 95.5,235.9 96.1,235.8 96.7,235.4 97.3,235.4 97.9,235.3 98.5,235.3 99.1,235.0 99.7,235.2 100.3,235.6 100.9,235.3 101.5,234.9 102.1,235.7 102.7,235.4 103.3,235.5 103.9,235.4 104.5,235.1 105.1,235.3 105.7,235.1 106.3,234.9 106.9,235.1 107.5,235.1 108.1,234.6 108.7,235.1 109.3,235.5 109.9,235.1 110.5,234.9 111.1,235.6 111.7,234.9 112.3,234.7 112.9,234.7 113.5,235.2 114.1,235.0 114.7,234.6 115.3,234.6 115.9,234.9 116.5,234.7 117.1,234.8 117.7,234.6 118.3,234.2 118.9,234.5 119.5,234.9 120.1,234.3 120.7,235.0 121.3,234.3 121.9,234.8 122.5,234.8 123.0,234.2 123.6,233.6 124.2,233.3 124.7,232.6 125.2,233.0 125.8,233.1 126.3,232.8 126.9,232.1 127.5,231.5 128.0,230.9 128.4,230.2 128.8,230.0 129.2,229.5 129.5,229.1 129.9,228.1 130.3,227.9 130.7,227.4 131.1,227.2 131.5,226.6 131.8,225.9 132.2,225.5 132.6,224.7 133.0,224.7 133.2,224.5 133.5,223.6 133.7,222.6 134.0,222.3 134.2,221.5 134.5,221.2 134.7,220.9 134.9,220.3 135.2,220.0 135.4,219.3 135.7,218.7 135.9,218.2 136.2,217.4 136.4,216.7 136.6,216.5 136.9,215.7 137.1,215.1 137.4,214.7 137.6,213.6 137.8,213.4 138.1,212.5 138.3,212.1 138.6,211.6 138.8,211.0 139.1,210.2 139.3,210.1 139.5,209.9 139.8,208.9 140.0,208.8 140.3,207.6 140.5,207.1 140.8,206.6 141.0,206.6 141.3,206.4 141.6,206.0 141.9,204.7 142.2,204.5 142.6,203.7 142.9,203.9 143.2,203.1 143.5,202.1 143.8,201.3 144.1,201.2 144.4,200.8 144.7,199.6 145.1,199.5 145.4,199.1 145.7,198.4 146.0,197.4 146.3,196.9 146.6,196.3 146.9,196.7 147.2,196.0 147.6,195.7 147.9,194.9 148.2,194.0 148.5,194.0 148.8,193.4 149.3,192.7 149.7,192.5 150.2,191.6 150.7,191.3 151.1,191.2 151.6,190.3 152.1,189.9 152.5,189.9 153.0,189.6 153.6,189.0 154.2,188.5 154.8,188.1 155.5,187.7 156.1,187.9 156.7,187.5 157.3,187.7 157.9,187.9 158.5,188.5 159.1,188.0 159.6,188.5 160.2,188.7 160.8,189.3 161.4,189.8 162.0,189.9 162.3,189.9 162.7,190.0 163.0,191.0 163.4,191.4 163.7,192.1 164.0,191.8 164.4,192.1 164.7,193.2 165.1,193.6 165.4,194.3 165.7,195.1 166.1,194.8 166.4,195.3 166.7,196.4 167.1,196.8 167.4,197.1 167.8,198.2 168.1,198.4 168.4,198.4 168.8,199.5 169.1,199.7 169.5,200.8 169.8,201.0 170.1,201.2 170.4,202.0 170.7,202.9 171.0,203.5 171.3,203.6 171.6,203.8 171.9,204.1 172.2,205.2 172.6,205.4 172.9,205.7 173.2,206.7 173.5,207.3 173.8,207.8 174.1,208.5 174.4,208.7 174.7,208.6 175.0,209.7 175.3,210.4 175.6,211.0 176.0,211.4 176.3,211.8 176.6,212.3 176.9,213.5 177.2,213.7 177.5,214.9 177.9,215.1 178.2,215.8 178.5,216.3 178.8,217.2 179.1,217.1 179.4,218.1 179.8,218.3 180.1,218.5 180.4,219.4 180.9,219.7 181.4,220.2 181.9,220.5 182.4,220.5 182.9,220.2 183.4,220.8 184.0,221.0 184.5,221.1 185.0,222.2 185.5,222.5 186.0,222.8 186.5,222.7 187.0,223.6 187.6,224.0 188.1,223.6 188.7,224.1 189.3,224.5 189.8,224.9 190.4,224.8 191.0,225.2 191.6,225.5 192.1,225.2 192.7,226.0 193.3,225.7 193.8,226.6 194.4,226.4 195.0,226.6 195.5,227.0 196.1,227.4 196.7,227.1 197.3,228.1 197.8,227.8 198.4,227.8 199.0,228.8 199.6,228.4 200.2,229.1 200.8,229.0 201.3,228.8 201.9,228.6 202.5,229.3 203.1,229.3 203.7,229.9 204.3,229.3 204.8,229.6 205.4,230.2 206.0,230.8 206.6,230.7 207.2,230.4 207.8,231.4 208.3,231.1 208.9,231.6 209.5,231.4 210.1,231.7 210.7,232.2 211.3,232.1 211.8,232.8 212.4,233.1 213.0,233.1 213.6,232.4 214.2,232.8 214.8,233.2 215.3,233.7 215.9,233.1 216.5,233.2 217.1,233.9 217.7,234.0 218.3,233.8 218.9,234.1 219.6,234.1 220.2,234.2 220.8,234.5 221.4,234.5 222.0,234.5 222.6,234.8 223.3,234.4 223.9,235.0 224.5,235.1 225.1,235.1 225.7,235.1 226.3,235.7 226.9,235.0 227.6,235.3 228.2,235.3 228.8,235.3 229.4,235.7 230.0,236.1 230.6,236.2 231.3,236.4 231.9,236.4 232.5,236.5 233.1,236.4 233.3,235.9 233.6,235.4 233.8,234.3 234.1,234.2 234.3,233.1 234.5,232.7 234.8,232.0 235.0,230.6 235.1,230.6 235.1,230.1 235.2,229.8 235.2,228.7 235.3,228.4 235.4,227.8 235.4,227.7 235.5,226.2 235.6,225.6 235.6,225.2 235.7,224.0 235.7,223.3 235.8,223.1 235.9,222.7 235.9,221.9 236.0,221.3 236.0,220.6 236.1,220.2 236.2,219.2 236.2,218.8 236.3,218.1 236.3,218.0 236.4,217.1 236.5,216.9 236.5,216.5 236.6,215.4 236.7,214.8 236.7,214.3 236.8,213.4 236.8,212.8 236.9,212.2 236.9,211.5 237.0,210.9 237.0,210.7 237.1,209.6 237.1,209.4 237.2,209.1 237.2,208.3 237.3,207.6 237.3,206.9 237.4,206.7 237.4,205.9 237.5,205.0 237.5,203.7 237.6,203.7 237.6,203.1 237.7,202.5 237.7,201.7 237.8,201.1 237.8,201.1 237.9,199.7 237.9,199.2 238.0,198.6 238.0,198.2 238.1,197.9 238.1,196.8 238.2,196.2 238.2,195.4 238.2,194.7 238.3,194.2 238.3,193.9 238.4,193.5 238.4,192.5 238.5,192.6 238.5,192.2 238.6,191.3 238.6,190.8 238.7,190.2 238.7,189.3 238.8,188.3 238.8,187.8 238.9,187.6 238.9,187.2 239.0,186.4 239.0,185.4 239.1,185.2 239.1,184.4 239.2,183.8 239.2,183.3 239.3,182.5 239.3,182.0 239.4,180.9 239.4,180.6 239.4,179.6 239.5,179.4 239.5,178.4 239.6,177.9 239.6,178.0 239.7,176.9 239.7,176.6 239.8,176.4 239.8,175.8 239.9,174.7 239.9,173.8 240.0,173.6 240.0,172.4 240.1,172.2 240.1,171.6 240.2,171.1 240.2,170.2 240.3,169.6 240.3,168.5 240.4,168.5 240.4,167.6 240.5,167.3 240.5,166.6 240.6,165.9 240.6,165.1 240.7,164.0 240.7,164.4 240.7,163.3 240.8,162.9 240.8,162.4 240.9,161.6 240.9,161.4 241.0,160.4 241.0,160.3 241.1,159.4 241.1,158.3 241.2,158.0 241.2,157.6 241.3,157.5 241.3,156.2 241.4,156.2 241.4,155.5 241.5,154.3 241.5,153.9 241.6,153.4 241.6,152.3 241.7,152.0 241.7,151.4 241.8,151.0 241.8,150.7 241.9,150.0 241.9,149.3 241.9,148.5 242.0,147.7 242.0,147.2 242.1,147.5 242.1,147.1 242.2,145.8 242.2,145.6 242.2,144.3 242.3,144.0 242.3,143.0 242.4,142.4 242.4,142.0 242.4,140.9 242.5,139.7 242.5,139.2 242.6,139.0 242.6,138.7 242.7,138.1 242.7,137.3 242.7,136.8 242.8,136.3 242.8,135.4 242.9,135.2 242.9,134.6 242.9,133.2 243.0,133.2 243.0,132.3 243.1,132.0 243.1,131.5 243.2,130.3 243.2,129.5 243.2,129.0 243.2,128.7 243.3,127.8 243.3,127.1 243.3,126.5 243.3,126.0 243.4,125.3 243.4,124.8 243.4,124.2 243.4,123.7 243.5,123.6 243.5,122.8 243.5,121.8 243.5,121.4 243.6,120.9 243.6,120.7 243.6,119.8 243.6,119.2 243.7,118.9 243.7,117.6 243.7,117.1 243.8,116.9 243.8,116.0 243.8,116.0 243.8,115.4 243.8,114.5 243.9,114.2 243.9,113.8 243.9,112.5 243.9,112.1 244.0,111.4 244.0,110.0 244.0,111.0 244.0,109.0 244.1,109.2 244.1,107.5 244.4,106.8 244.6,107.5 244.9,106.7 245.1,105.8 245.4,105.1 245.7,104.5 245.9,103.2 246.2,103.7 246.4,102.7 246.7,102.9 247.0,102.1 247.2,102.4 247.5,101.9 247.7,101.1 248.0,99.4 248.4,99.4 248.8,99.3 249.2,98.8 249.6,97.5 250.1,97.1 250.5,95.9 250.9,96.0 251.3,96.9 251.7,94.4 252.1,94.5 252.4,95.7 252.7,94.4 253.1,93.0 253.4,93.1 253.7,92.7 254.0,91.7 254.3,90.8 254.7,91.5 255.0,91.9 255.3,89.8 255.6,89.9 255.9,89.4 256.3,87.9 256.6,86.9 256.9,87.1 257.2,87.3 257.5,87.2 257.9,85.8 258.2,85.6 258.5,85.8 258.8,85.1 259.1,84.7 259.5,83.9 259.8,82.7 260.1,82.6 260.6,83.5 261.2,82.6 261.7,82.7 262.3,83.9 262.8,85.9 263.4,85.8 263.9,85.3 264.4,84.3 265.0,84.7 265.5,83.8 266.1,84.6 266.6,85.2 267.2,86.1 267.8,85.2 268.4,84.5 269.0,85.5 269.6,87.3 270.2,87.4 270.8,88.0 271.4,86.9 271.8,88.0 272.2,87.2 272.6,86.7 272.9,88.1 273.3,88.0 273.7,89.5 274.1,89.7 274.5,90.0 274.9,89.7 275.2,90.6 275.6,91.9 276.0,91.7 276.4,92.4 276.8,92.9 277.2,94.5 277.5,96.0 277.9,95.6 278.3,95.1 278.7,94.5 279.1,95.3 279.5,96.8 279.8,96.3 280.2,97.5 280.6,99.2 281.0,98.0 281.3,98.7 281.6,98.1 282.0,99.3 282.3,99.6 282.6,100.8 282.9,101.1 283.2,102.8 283.6,102.2 283.9,103.6 284.2,104.0 284.5,104.1 284.8,104.1 285.2,104.7 285.5,106.9 285.8,107.0 286.1,106.1 286.4,106.8 286.8,108.1 287.1,108.9 287.4,109.0 287.7,108.5 288.0,110.3 288.4,110.6 288.7,111.2 289.0,112.4 289.3,111.2 289.6,113.0 289.8,112.0 290.1,112.9 290.4,112.6 290.7,112.8 291.0,112.7 291.3,115.7 291.5,115.6 291.8,116.8 292.1,117.7 292.4,117.6 292.7,119.4 293.0,120.0 293.2,121.1 293.5,121.1 293.8,121.0 294.1,121.8 294.4,121.8 294.7,122.9 294.9,123.2 295.2,123.7 295.5,124.3 296.0,125.4 296.5,126.1 296.9,126.8 297.4,127.0 297.9,127.1 298.4,127.2 298.9,126.8 299.3,126.4 299.8,126.9 300.3,127.0 300.8,127.7 301.3,128.4 301.7,129.8 302.2,129.5 302.7,130.1 303.2,131.0 303.7,131.4 304.1,132.3 304.6,132.2 305.1,133.0 305.6,133.1 306.2,134.3 306.7,133.9 307.2,133.4 307.8,135.3 308.3,132.8 308.9,134.7 309.4,133.0 309.9,134.8 310.5,135.0 311.0,132.8 311.6,134.3 312.1,135.3 312.6,135.1 313.2,134.2 313.7,136.4 314.2,137.8 314.8,137.8 315.3,138.0 315.9,138.1 316.4,138.7 316.9,137.9 317.5,138.5 318.0,138.7" fill="none" stroke="#000" stroke-width="1.5" stroke-linejoin="round"/>
<text x="347.00" y="15.30" font-size="20" text-anchor="start" font-weight="bold" font-style="normal" style="letter-spacing:0">b</text>
<line x1="421.50" y1="18.00" x2="421.50" y2="256.70" stroke="#000" stroke-width="1.3"/>
<line x1="415.00" y1="249.00" x2="421.50" y2="249.00" stroke="#000" stroke-width="1.3"/>
<line x1="415.00" y1="172.00" x2="421.50" y2="172.00" stroke="#000" stroke-width="1.3"/>
<line x1="415.00" y1="95.00" x2="421.50" y2="95.00" stroke="#000" stroke-width="1.3"/>
<line x1="415.00" y1="18.00" x2="421.50" y2="18.00" stroke="#000" stroke-width="1.3"/>
<line x1="417.50" y1="210.50" x2="421.50" y2="210.50" stroke="#000" stroke-width="1.3"/>
<line x1="417.50" y1="133.50" x2="421.50" y2="133.50" stroke="#000" stroke-width="1.3"/>
<line x1="417.50" y1="56.50" x2="421.50" y2="56.50" stroke="#000" stroke-width="1.3"/>
<text x="408.30" y="253.90" font-size="14" text-anchor="end" font-weight="normal" font-style="normal" >0.00</text>
<text x="408.30" y="176.90" font-size="14" text-anchor="end" font-weight="normal" font-style="normal" >0.05</text>
<text x="408.30" y="99.90" font-size="14" text-anchor="end" font-weight="normal" font-style="normal" >0.10</text>
<text x="408.30" y="22.90" font-size="14" text-anchor="end" font-weight="normal" font-style="normal" >0.15</text>
<text transform="translate(364.50,134.30) rotate(-90)" font-size="14" text-anchor="middle">Δ[Ca<tspan font-size="10" dy="-5.5">2+</tspan><tspan dy="5.5">] (μM)</tspan></text>
<line x1="421.50" y1="256.70" x2="671.50" y2="256.70" stroke="#000" stroke-width="1.3"/>
<line x1="420.85" y1="256.70" x2="420.85" y2="259.50" stroke="#000" stroke-width="1.2"/>
<line x1="434.74" y1="256.70" x2="434.74" y2="259.50" stroke="#000" stroke-width="1.2"/>
<line x1="444.60" y1="256.70" x2="444.60" y2="259.50" stroke="#000" stroke-width="1.2"/>
<line x1="452.25" y1="256.70" x2="452.25" y2="259.50" stroke="#000" stroke-width="1.2"/>
<line x1="458.50" y1="256.70" x2="458.50" y2="259.50" stroke="#000" stroke-width="1.2"/>
<line x1="463.78" y1="256.70" x2="463.78" y2="259.50" stroke="#000" stroke-width="1.2"/>
<line x1="468.35" y1="256.70" x2="468.35" y2="259.50" stroke="#000" stroke-width="1.2"/>
<line x1="472.39" y1="256.70" x2="472.39" y2="259.50" stroke="#000" stroke-width="1.2"/>
<line x1="476.00" y1="256.70" x2="476.00" y2="262.00" stroke="#000" stroke-width="1.2"/>
<line x1="499.75" y1="256.70" x2="499.75" y2="259.50" stroke="#000" stroke-width="1.2"/>
<line x1="513.64" y1="256.70" x2="513.64" y2="259.50" stroke="#000" stroke-width="1.2"/>
<line x1="523.50" y1="256.70" x2="523.50" y2="259.50" stroke="#000" stroke-width="1.2"/>
<line x1="531.15" y1="256.70" x2="531.15" y2="259.50" stroke="#000" stroke-width="1.2"/>
<line x1="537.40" y1="256.70" x2="537.40" y2="259.50" stroke="#000" stroke-width="1.2"/>
<line x1="542.68" y1="256.70" x2="542.68" y2="259.50" stroke="#000" stroke-width="1.2"/>
<line x1="547.25" y1="256.70" x2="547.25" y2="259.50" stroke="#000" stroke-width="1.2"/>
<line x1="551.29" y1="256.70" x2="551.29" y2="259.50" stroke="#000" stroke-width="1.2"/>
<line x1="554.90" y1="256.70" x2="554.90" y2="262.00" stroke="#000" stroke-width="1.2"/>
<line x1="578.65" y1="256.70" x2="578.65" y2="259.50" stroke="#000" stroke-width="1.2"/>
<line x1="592.54" y1="256.70" x2="592.54" y2="259.50" stroke="#000" stroke-width="1.2"/>
<line x1="602.40" y1="256.70" x2="602.40" y2="259.50" stroke="#000" stroke-width="1.2"/>
<line x1="610.05" y1="256.70" x2="610.05" y2="259.50" stroke="#000" stroke-width="1.2"/>
<line x1="616.30" y1="256.70" x2="616.30" y2="259.50" stroke="#000" stroke-width="1.2"/>
<line x1="621.58" y1="256.70" x2="621.58" y2="259.50" stroke="#000" stroke-width="1.2"/>
<line x1="626.15" y1="256.70" x2="626.15" y2="259.50" stroke="#000" stroke-width="1.2"/>
<line x1="630.19" y1="256.70" x2="630.19" y2="259.50" stroke="#000" stroke-width="1.2"/>
<line x1="633.80" y1="256.70" x2="633.80" y2="262.00" stroke="#000" stroke-width="1.2"/>
<line x1="657.55" y1="256.70" x2="657.55" y2="259.50" stroke="#000" stroke-width="1.2"/>
<line x1="671.44" y1="256.70" x2="671.44" y2="259.50" stroke="#000" stroke-width="1.2"/>
<text x="476.00" y="281.60" font-size="14" text-anchor="middle" font-weight="normal" font-style="normal" >1</text>
<text x="554.90" y="281.60" font-size="14" text-anchor="middle" font-weight="normal" font-style="normal" >10</text>
<text x="633.80" y="281.60" font-size="14" text-anchor="middle" font-weight="normal" font-style="normal" >100</text>
<text x="543.00" y="304.00" font-size="14" text-anchor="middle" font-weight="normal" font-style="normal" >[LPS] (μg/ml)</text>
<path d="M420.6,249.0 421.6,249.0 422.6,249.0 423.6,249.0 424.6,249.0 425.6,249.0 426.6,249.0 427.6,249.0 428.6,249.0 429.6,249.0 430.6,249.0 431.6,249.0 432.6,249.0 433.6,249.0 434.6,249.0 435.6,249.0 436.6,249.0 437.6,249.0 438.6,249.0 439.6,249.0 440.6,249.0 441.6,249.0 442.6,249.0 443.6,249.0 444.6,249.0 445.6,249.0 446.6,249.0 447.6,249.0 448.6,249.0 449.6,249.0 450.6,249.0 451.6,249.0 452.6,249.0 453.6,249.0 454.6,249.0 455.6,249.0 456.6,249.0 457.6,249.0 458.6,249.0 459.6,248.9 460.6,248.9 461.6,248.9 462.6,248.9 463.6,248.9 464.6,248.9 465.6,248.9 466.6,248.9 467.6,248.9 468.6,248.9 469.6,248.9 470.6,248.9 471.6,248.9 472.6,248.8 473.6,248.8 474.6,248.8 475.6,248.8 476.6,248.8 477.6,248.8 478.6,248.7 479.6,248.7 480.6,248.7 481.6,248.7 482.6,248.6 483.6,248.6 484.6,248.6 485.6,248.5 486.6,248.5 487.6,248.5 488.6,248.4 489.6,248.4 490.6,248.3 491.6,248.3 492.6,248.2 493.6,248.1 494.6,248.0 495.6,248.0 496.6,247.9 497.6,247.8 498.6,247.7 499.6,247.6 500.6,247.4 501.6,247.3 502.6,247.2 503.6,247.0 504.6,246.8 505.6,246.6 506.6,246.4 507.6,246.2 508.6,246.0 509.6,245.7 510.6,245.5 511.6,245.2 512.6,244.8 513.6,244.5 514.6,244.1 515.6,243.7 516.6,243.2 517.6,242.8 518.6,242.2 519.6,241.7 520.6,241.1 521.6,240.4 522.6,239.7 523.6,239.0 524.6,238.1 525.6,237.3 526.6,236.3 527.6,235.3 528.6,234.2 529.6,233.0 530.6,231.8 531.6,230.4 532.6,229.0 533.6,227.4 534.6,225.8 535.6,224.0 536.6,222.2 537.6,220.2 538.6,218.1 539.6,215.9 540.6,213.5 541.6,211.1 542.6,208.5 543.6,205.7 544.6,202.9 545.6,199.9 546.6,196.8 547.6,193.5 548.6,190.2 549.6,186.7 550.6,183.2 551.6,179.5 552.6,175.7 553.6,171.9 554.6,168.0 555.6,164.0 556.6,160.0 557.6,156.0 558.6,152.0 559.6,147.9 560.6,143.9 561.6,139.8 562.6,135.9 563.6,131.9 564.6,128.1 565.6,124.3 566.6,120.6 567.6,117.0 568.6,113.5 569.6,110.1 570.6,106.8 571.6,103.7 572.6,100.6 573.6,97.7 574.6,94.9 575.6,92.3 576.6,89.8 577.6,87.4 578.6,85.1 579.6,83.0 580.6,81.0 581.6,79.1 582.6,77.3 583.6,75.6 584.6,74.0 585.6,72.5 586.6,71.2 587.6,69.9 588.6,68.7 589.6,67.5 590.6,66.5 591.6,65.5 592.6,64.6 593.6,63.8 594.6,63.0 595.6,62.3 596.6,61.6 597.6,61.0 598.6,60.4 599.6,59.8 600.6,59.3 601.6,58.9 602.6,58.5 603.6,58.1 604.6,57.7 605.6,57.4 606.6,57.1 607.6,56.8 608.6,56.5 609.6,56.3 610.6,56.1 611.6,55.8 612.6,55.7 613.6,55.5 614.6,55.3 615.6,55.2 616.6,55.0 617.6,54.9 618.6,54.8 619.6,54.7 620.6,54.6 621.6,54.5 622.6,54.4 623.6,54.3 624.6,54.3 625.6,54.2 626.6,54.1 627.6,54.1 628.6,54.0 629.6,54.0 630.6,53.9 631.6,53.9 632.6,53.8 633.6,53.8 634.6,53.8 635.6,53.8 636.6,53.7 637.6,53.7 638.6,53.7 639.6,53.7 640.6,53.6 641.6,53.6 642.6,53.6 643.6,53.6 644.6,53.6 645.6,53.6 646.6,53.6 647.6,53.5 648.6,53.5 649.6,53.5 650.6,53.5 651.6,53.5 652.6,53.5 653.6,53.5 654.6,53.5 655.6,53.5 656.6,53.5 657.6,53.5" fill="none" stroke="#000" stroke-width="1.3"/>
<line x1="633.90" y1="25.50" x2="633.90" y2="80.70" stroke="#000" stroke-width="1.4"/>
<line x1="630.70" y1="25.50" x2="637.10" y2="25.50" stroke="#000" stroke-width="1.4"/>
<line x1="630.70" y1="80.70" x2="637.10" y2="80.70" stroke="#000" stroke-width="1.4"/>
<line x1="578.50" y1="56.20" x2="578.50" y2="110.40" stroke="#000" stroke-width="1.4"/>
<line x1="575.30" y1="56.20" x2="581.70" y2="56.20" stroke="#000" stroke-width="1.4"/>
<line x1="575.30" y1="110.40" x2="581.70" y2="110.40" stroke="#000" stroke-width="1.4"/>
<line x1="547.80" y1="180.70" x2="547.80" y2="203.60" stroke="#000" stroke-width="1.4"/>
<line x1="544.60" y1="180.70" x2="551.00" y2="180.70" stroke="#000" stroke-width="1.4"/>
<line x1="544.60" y1="203.60" x2="551.00" y2="203.60" stroke="#000" stroke-width="1.4"/>
<circle cx="445.5" cy="239.3" r="5.6" fill="#000"/>
<circle cx="524" cy="240.7" r="5.6" fill="#000"/>
<circle cx="547.8" cy="192.2" r="5.6" fill="#000"/>
<circle cx="578.5" cy="83.5" r="5.6" fill="#000"/>
<circle cx="633.9" cy="53.1" r="5.6" fill="#000"/>
<circle cx="445.5" cy="248.8" r="5.6" fill="#f00000"/>
<circle cx="524" cy="246.6" r="5.6" fill="#f00000"/>
<circle cx="547.8" cy="248.4" r="5.6" fill="#f00000"/>
<circle cx="578.7" cy="236.9" r="5.6" fill="#f00000"/>
<circle cx="633.9" cy="235.1" r="5.6" fill="#f00000"/>
<circle cx="446.7" cy="30.3" r="5.6" fill="#000"/>
<circle cx="446.7" cy="47.9" r="5.6" fill="#f00000"/>
<text x="460.80" y="34.90" font-size="14" text-anchor="start" font-weight="normal" font-style="normal" >GSK(+)</text>
<text x="460.80" y="52.50" font-size="14" text-anchor="start" font-weight="normal" font-style="normal" >GSK(–)</text>
<text x="-0.70" y="348.30" font-size="20" text-anchor="start" font-weight="bold" font-style="normal" style="letter-spacing:0">c</text>
<line x1="70.50" y1="357.50" x2="70.50" y2="595.00" stroke="#000" stroke-width="1.3"/>
<line x1="64.00" y1="595.00" x2="70.50" y2="595.00" stroke="#000" stroke-width="1.3"/>
<line x1="64.00" y1="535.62" x2="70.50" y2="535.62" stroke="#000" stroke-width="1.3"/>
<line x1="64.00" y1="476.25" x2="70.50" y2="476.25" stroke="#000" stroke-width="1.3"/>
<line x1="64.00" y1="416.88" x2="70.50" y2="416.88" stroke="#000" stroke-width="1.3"/>
<line x1="64.00" y1="357.50" x2="70.50" y2="357.50" stroke="#000" stroke-width="1.3"/>
<line x1="66.50" y1="565.31" x2="70.50" y2="565.31" stroke="#000" stroke-width="1.3"/>
<line x1="66.50" y1="505.94" x2="70.50" y2="505.94" stroke="#000" stroke-width="1.3"/>
<line x1="66.50" y1="446.56" x2="70.50" y2="446.56" stroke="#000" stroke-width="1.3"/>
<line x1="66.50" y1="387.19" x2="70.50" y2="387.19" stroke="#000" stroke-width="1.3"/>
<text x="56.60" y="599.90" font-size="14" text-anchor="end" font-weight="normal" font-style="normal" >0.0</text>
<text x="56.60" y="540.52" font-size="14" text-anchor="end" font-weight="normal" font-style="normal" >0.5</text>
<text x="56.60" y="481.15" font-size="14" text-anchor="end" font-weight="normal" font-style="normal" >1.0</text>
<text x="56.60" y="421.77" font-size="14" text-anchor="end" font-weight="normal" font-style="normal" >1.5</text>
<text x="56.60" y="362.40" font-size="14" text-anchor="end" font-weight="normal" font-style="normal" >2.0</text>
<text transform="translate(24.00,477.30) rotate(-90)" font-size="14" text-anchor="middle">[Ca<tspan font-size="10" dy="-5.5">2+</tspan><tspan dy="5.5">] (μM)</tspan></text>
<text x="83.00" y="354.70" font-size="14" text-anchor="start" font-weight="normal" font-style="normal" >Cli-095 pre-incubation</text>
<line x1="83.00" y1="379.00" x2="116.60" y2="379.00" stroke="#000" stroke-width="1.3"/>
<text x="125.30" y="383.70" font-size="14" text-anchor="start" font-weight="normal" font-style="normal" >GSK(+)</text>
<line x1="83.00" y1="397.40" x2="116.60" y2="397.40" stroke="#f00000" stroke-width="1.3"/>
<text x="125.30" y="402.10" font-size="14" text-anchor="start" font-weight="normal" font-style="normal" >GSK(–)</text>
<line x1="109.20" y1="453.20" x2="168.00" y2="453.20" stroke="#000" stroke-width="2.5"/>
<text x="139.80" y="444.70" font-size="14" text-anchor="middle" font-weight="normal" font-style="normal" >LPS</text>
<line x1="251.90" y1="398.90" x2="273.00" y2="398.90" stroke="#000" stroke-width="2.5"/>
<text x="262.30" y="390.00" font-size="14" text-anchor="middle" font-weight="normal" font-style="normal" >GSK</text>
<line x1="262.30" y1="597.00" x2="301.50" y2="597.00" stroke="#000" stroke-width="2"/>
<text x="281.70" y="617.60" font-size="14" text-anchor="middle" font-weight="normal" font-style="normal" >2 min</text>
<path d="M72.8,582.6 73.4,582.9 74.0,583.1 74.6,582.8 75.2,583.0 75.8,582.8 76.4,582.3 77.0,582.3 77.6,582.6 78.2,582.3 78.8,582.9 79.4,582.9 80.0,582.7 80.6,582.8 81.2,583.0 81.8,582.6 82.4,582.8 83.0,582.6 83.6,583.0 84.2,582.7 84.8,582.9 85.4,582.6 86.0,582.8 86.6,582.6 87.2,582.0 87.8,582.5 88.4,582.4 89.0,582.8 89.6,582.8 90.2,582.8 90.8,582.9 91.4,582.5 92.0,582.6 92.6,583.0 93.2,582.5 93.8,582.9 94.4,582.5 95.0,582.9 95.6,582.6 96.2,582.5 96.8,582.3 97.4,582.7 98.0,582.1 98.6,582.6 99.2,582.6 99.8,582.2 100.4,582.7 101.0,582.7 101.6,582.7 102.2,582.3 102.8,582.7 103.4,582.6 104.0,582.7 104.6,582.3 105.2,582.7 105.8,582.7 106.4,582.9 107.0,582.9 107.6,582.6 108.2,582.6 108.8,582.8 109.4,582.4 110.0,582.8 110.6,582.6 111.2,582.7 111.8,582.4 112.4,582.6 113.0,582.4 113.6,582.3 114.2,582.3 114.8,582.1 115.4,582.3 116.0,582.2 116.6,582.5 117.2,582.4 117.8,582.3 118.4,582.7 119.0,582.4 119.6,582.4 120.2,583.0 120.8,582.7 121.4,582.9 122.0,583.1 122.6,582.6 123.2,582.6 123.8,582.6 124.4,582.5 125.0,582.5 125.6,582.4 126.2,582.3 126.8,582.4 127.4,582.0 128.0,581.5 128.6,581.5 129.2,581.9 129.8,581.7 130.5,581.8 131.1,581.7 131.7,581.6 132.3,581.7 132.9,581.3 133.5,581.3 134.1,581.2 134.7,580.7 135.3,581.2 135.9,580.7 136.5,580.8 137.1,580.9 137.7,580.8 138.3,581.1 138.9,580.6 139.5,581.0 140.2,580.6 140.8,580.8 141.4,580.5 142.0,580.8 142.6,579.9 143.2,580.3 143.8,580.1 144.4,580.1 145.0,579.6 145.6,579.4 146.2,579.2 146.8,579.5 147.4,579.9 148.0,579.9 148.6,580.0 149.2,579.8 149.8,579.7 150.4,579.7 151.0,579.5 151.6,579.6 152.2,579.5 152.8,579.3 153.4,579.6 154.0,579.2 154.6,579.4 155.2,579.4 155.8,579.7 156.4,579.3 157.0,579.0 157.6,579.2 158.2,578.7 158.8,578.5 159.4,578.7 160.0,579.0 160.6,578.9 161.2,579.3 161.8,579.2 162.4,579.2 163.0,578.6 163.6,578.7 164.2,578.6 164.8,578.2 165.4,578.3 166.0,578.2 166.6,578.5 167.2,578.0 167.8,577.8 168.4,577.9 169.0,578.0 169.6,578.2 170.3,578.4 170.9,578.4 171.5,578.7 172.1,578.3 172.7,578.5 173.3,578.2 173.9,578.8 174.6,578.8 175.2,578.4 175.8,578.6 176.4,578.6 177.0,578.4 177.6,578.6 178.2,578.5 178.9,579.1 179.5,578.9 180.1,578.7 180.7,579.1 181.3,579.1 181.9,578.7 182.5,578.5 183.2,579.4 183.8,579.2 184.4,578.9 185.0,579.2 185.6,579.2 186.2,579.1 186.8,579.2 187.4,579.2 188.0,579.5 188.6,579.5 189.2,579.3 189.8,579.5 190.4,579.0 191.0,579.6 191.6,579.7 192.2,579.4 192.8,579.8 193.4,580.1 194.0,580.0 194.6,580.2 195.2,579.8 195.8,579.8 196.4,580.2 197.0,580.9 197.6,580.5 198.2,581.0 198.8,580.9 199.4,581.0 200.0,580.8 200.6,580.9 201.2,581.2 201.8,581.2 202.4,581.5 203.0,581.5 203.6,581.2 204.2,581.4 204.9,581.5 205.5,581.5 206.1,581.7 206.7,581.8 207.3,581.7 207.9,582.1 208.5,581.4 209.1,581.9 209.7,581.8 210.3,582.2 211.0,581.7 211.6,581.5 212.2,582.1 212.8,582.6 213.4,582.6 214.0,582.7 214.6,582.2 215.2,582.3 215.8,582.2 216.5,582.6 217.1,582.7 217.7,582.8 218.3,582.8 218.9,582.9 219.5,582.8 220.1,582.4 220.7,582.7 221.3,583.1 221.9,582.7 222.6,583.1 223.2,583.1 223.8,583.1 224.4,583.0 225.0,583.3 225.6,583.4 226.2,583.5 226.8,583.7 227.4,583.6 228.0,583.5 228.6,583.3 229.2,583.7 229.8,583.4 230.4,583.3 231.0,583.6 231.6,583.7 232.2,583.0 232.8,583.7 233.4,584.1 234.1,583.6 234.7,583.9 235.3,584.0 235.9,584.1 236.5,583.4 237.1,583.7 237.7,583.8 238.3,584.0 238.9,584.1 239.5,583.9 240.1,583.9 240.7,583.5 241.3,583.6 241.9,583.9 242.5,583.8 243.1,584.0 243.7,583.8 244.3,584.0 244.9,583.6 245.5,583.3 246.1,583.6 246.7,583.0 247.3,583.4 247.9,583.5 248.5,583.5 249.1,583.9 249.7,584.0 250.3,583.9 250.9,583.8 251.6,584.2 252.2,583.9 252.8,583.8 253.4,584.1 254.0,584.0 254.6,584.3 255.2,584.6 255.8,584.7 256.4,584.3 257.0,584.2 257.6,584.4 258.2,584.1 258.8,584.2 259.4,584.4 260.0,584.6 260.6,583.9 261.2,583.7 261.8,583.8 262.4,584.1 263.0,584.2 263.6,584.4 264.2,584.6 264.8,584.1 265.4,584.3 266.0,584.4 266.6,584.0 267.2,583.9 267.8,584.3 268.4,584.2 269.0,584.4 269.6,584.3 270.2,584.6 270.8,584.5 271.4,584.0 272.0,584.4 272.6,584.1 273.2,584.6 273.8,584.2 274.4,584.4 275.0,584.4 275.6,584.3 276.2,584.1 276.8,584.1 277.4,584.0 278.0,583.6 278.6,584.0 279.2,584.5 279.8,583.7 280.4,583.8 281.0,583.7 281.6,584.0 282.2,584.1 282.8,584.1 283.4,583.7 284.0,584.0 284.6,583.7 285.2,584.1 285.8,583.8 286.4,584.2 287.0,584.0 287.6,583.8 288.2,583.5 288.8,583.5 289.4,583.4 290.0,583.4 290.6,583.4 291.2,583.5 291.8,583.8 292.4,583.3 293.0,583.3 293.6,583.5 294.2,583.7 294.8,584.3 295.4,584.1 296.0,584.4 296.6,584.2 297.2,583.5 297.8,583.5 298.4,583.6 299.0,583.4 299.6,583.8 300.2,583.6 300.8,583.6 301.4,583.5 302.0,583.5 302.6,583.6 303.2,583.2 303.8,583.5 304.4,583.2 305.0,583.6 305.6,583.8 306.2,583.6 306.8,583.5 307.4,583.1 308.0,583.1 308.6,583.6 309.2,583.7 309.8,583.5 310.4,583.7 311.0,583.6 311.6,583.2 312.2,583.3 312.8,583.5 313.4,583.3 314.0,583.3 314.6,583.8 315.2,583.5 315.8,583.5 316.4,583.3 317.0,583.0 317.6,583.3" fill="none" stroke="#f00000" stroke-width="1.3" stroke-linejoin="round"/>
<path d="M72.8,585.6 73.4,585.6 74.0,585.2 74.6,585.2 75.2,585.2 75.8,585.0 76.4,585.4 77.0,585.4 77.6,585.1 78.2,585.3 78.8,585.4 79.4,585.9 80.0,585.5 80.6,585.3 81.2,585.2 81.8,585.0 82.4,585.2 83.0,585.0 83.6,585.4 84.2,585.2 84.8,585.8 85.4,586.0 86.0,585.9 86.6,585.8 87.3,585.4 87.9,585.2 88.5,585.1 89.1,585.4 89.7,585.3 90.3,585.1 90.9,585.1 91.5,585.0 92.1,585.3 92.7,585.3 93.3,585.1 93.9,585.0 94.5,585.1 95.1,585.1 95.7,584.9 96.3,585.2 96.9,585.4 97.5,585.5 98.1,585.2 98.7,585.4 99.3,585.5 99.9,585.7 100.5,585.3 101.1,585.3 101.7,585.3 102.3,585.1 102.9,585.5 103.5,585.5 104.1,585.4 104.7,585.2 105.3,585.5 105.9,585.3 106.5,585.4 107.1,585.2 107.7,585.7 108.3,585.7 108.9,585.7 109.5,586.3 110.1,585.8 110.7,585.5 111.3,585.5 111.9,585.3 112.5,585.9 113.1,585.1 113.7,585.5 114.3,585.6 114.9,585.7 115.5,585.3 116.2,585.7 116.8,585.2 117.4,585.5 118.0,585.6 118.6,585.7 119.2,585.6 119.8,585.3 120.4,585.8 121.0,585.7 121.6,585.5 122.2,585.5 122.8,585.5 123.4,585.7 124.0,586.0 124.6,585.6 125.2,585.4 125.8,585.6 126.4,585.5 127.0,585.5 127.6,585.7 128.2,585.3 128.8,585.8 129.4,585.7 130.0,585.8 130.6,585.7 131.2,585.7 131.8,585.9 132.4,586.0 133.0,586.1 133.6,586.1 134.2,585.5 134.8,585.7 135.4,585.5 136.0,585.7 136.6,585.6 137.2,586.1 137.8,586.1 138.4,586.0 139.1,585.4 139.7,585.6 140.3,585.7 140.9,585.3 141.5,585.6 142.1,585.9 142.7,586.3 143.3,586.4 143.9,586.2 144.5,585.8 145.1,585.8 145.7,585.2 146.3,585.3 146.9,585.4 147.5,585.5 148.1,585.2 148.7,585.5 149.3,585.8 149.9,586.0 150.5,586.0 151.1,586.4 151.7,586.0 152.3,586.0 152.9,586.1 153.5,585.7 154.1,586.1 154.7,585.8 155.3,586.0 155.9,585.7 156.6,585.6 157.2,586.3 157.8,586.3 158.4,586.1 159.0,586.2 159.6,586.5 160.2,586.1 160.8,586.2 161.4,586.2 162.0,586.1 162.6,586.4 163.2,586.4 163.8,586.1 164.4,585.9 165.0,585.8 165.6,586.1 166.2,586.3 166.8,585.8 167.4,586.3 168.0,586.3 168.6,586.1 169.2,585.9 169.8,586.3 170.4,586.1 171.0,585.8 171.6,586.4 172.2,586.3 172.8,586.1 173.4,586.3 174.1,586.6 174.7,586.4 175.3,586.2 175.9,586.3 176.5,586.5 177.1,586.6 177.7,586.4 178.3,585.8 178.9,585.9 179.5,586.3 180.1,586.1 180.7,586.4 181.3,586.4 181.9,586.1 182.5,586.1 183.1,586.2 183.7,586.3 184.3,586.2 184.9,586.1 185.5,586.0 186.1,586.5 186.7,586.3 187.3,586.1 187.9,586.1 188.5,586.1 189.1,586.1 189.7,586.1 190.3,586.1 190.9,586.4 191.6,586.4 192.2,586.5 192.8,586.7 193.4,586.9 194.0,586.6 194.6,586.3 195.2,586.2 195.8,586.5 196.4,586.9 197.0,586.7 197.6,586.3 198.2,586.6 198.8,586.5 199.4,586.4 200.0,586.3 200.6,586.1 201.2,586.7 201.8,586.4 202.4,586.5 203.0,586.3 203.6,586.7 204.2,586.4 204.8,586.3 205.4,586.1 206.0,586.5 206.6,586.6 207.2,586.5 207.8,586.8 208.4,586.8 209.0,586.5 209.6,587.0 210.2,586.5 210.8,586.6 211.4,586.5 212.0,586.6 212.6,587.0 213.2,587.0 213.8,586.4 214.4,586.3 215.0,586.4 215.6,586.3 216.2,586.2 216.8,586.4 217.4,586.5 218.0,586.2 218.6,586.5 219.2,586.4 219.8,586.4 220.4,586.4 221.0,586.2 221.6,586.5 222.2,586.6 222.8,586.5 223.4,586.6 224.0,586.4 224.6,586.4 225.2,586.3 225.8,587.1 226.4,586.4 227.0,586.5 227.6,586.1 228.2,586.1 228.8,586.6 229.4,586.7 230.0,586.4 230.6,586.1 231.2,586.3 231.8,586.4 232.4,586.8 233.0,586.6 233.6,586.5 234.2,586.3 234.8,586.7 235.4,586.7 236.0,586.5 236.6,586.6 237.2,586.3 237.8,586.6 238.4,586.6 239.0,586.9 239.6,586.6 240.2,586.3 240.8,586.3 241.4,586.4 242.0,586.9 242.6,587.0 243.2,586.5 243.8,586.8 244.4,586.9 245.0,586.4 245.6,586.3 246.2,586.3 246.8,586.2 247.4,586.8 248.0,586.4 248.6,586.2 249.2,586.1 249.8,586.5 250.4,586.3 251.0,585.9 251.6,586.0 252.2,586.0 252.8,585.9 253.4,585.8 254.0,586.1 254.6,586.1 255.2,586.5 255.8,586.4 256.4,586.2 257.0,586.5 257.6,586.4 258.2,586.3 258.8,585.8 259.4,586.1 260.0,586.0 260.6,586.6 261.2,586.2 261.8,586.0 262.4,586.1 263.0,586.2 263.6,586.2 264.2,586.3 264.8,586.4 265.4,586.5 266.0,586.2 266.6,585.9 267.2,586.4 267.8,585.9 268.4,586.2 269.0,585.9 269.6,586.2 270.2,586.0 270.8,586.1 271.4,586.0 272.0,585.9 272.6,586.1 273.2,585.9 273.8,586.1 274.4,586.2 275.0,586.1 275.6,586.4 276.2,585.9 276.8,585.9 277.4,586.1 278.0,585.8 278.6,585.6 279.2,585.6 279.8,585.8 280.4,585.5 281.0,585.5 281.6,585.7 282.2,585.5 282.8,586.0 283.4,585.9 284.0,585.9 284.6,585.3 285.2,585.5 285.8,585.1 286.4,585.6 287.0,585.5 287.6,585.2 288.2,585.4 288.8,585.1 289.4,585.1 290.0,585.0 290.6,585.1 291.2,585.2 291.8,584.8 292.4,584.9 293.0,585.2 293.6,584.8 294.2,585.1 294.8,585.2 295.4,585.0 296.0,585.3 296.6,585.0 297.2,584.5 297.8,584.5 298.4,585.5 299.0,584.7 299.6,584.9 300.2,584.6 300.8,584.7 301.4,584.5 302.0,584.1 302.6,584.9 303.2,585.0 303.8,584.8 304.4,584.7 305.0,584.6 305.6,584.4 306.2,585.0 306.8,584.8 307.4,584.9 308.0,584.9 308.6,584.2 309.2,584.0 309.8,584.2 310.4,584.4 311.0,584.6 311.6,584.5 312.2,584.6 312.8,584.4 313.4,584.7 314.0,584.5 314.6,584.3 315.2,584.4 315.8,584.4 316.4,583.8 317.0,584.0 317.6,584.3" fill="none" stroke="#f00000" stroke-width="1.3" stroke-linejoin="round"/>
<path d="M72.8,586.9 73.4,587.2 74.0,587.0 74.6,587.0 75.2,587.0 75.8,587.2 76.4,587.3 77.0,586.9 77.6,586.9 78.2,587.1 78.9,587.3 79.5,587.2 80.1,587.4 80.7,587.2 81.3,587.2 81.9,587.5 82.5,587.0 83.1,587.3 83.7,587.3 84.3,587.1 84.9,587.2 85.5,587.5 86.1,587.0 86.7,587.5 87.3,587.4 87.9,587.2 88.5,587.2 89.1,587.2 89.7,587.3 90.3,587.3 91.0,587.3 91.6,587.3 92.2,587.5 92.8,587.3 93.4,587.6 94.0,587.5 94.6,587.5 95.2,587.5 95.8,586.7 96.4,587.2 97.0,587.5 97.6,587.3 98.2,587.7 98.8,587.1 99.4,587.3 100.0,587.1 100.6,587.6 101.2,587.5 101.8,587.6 102.5,587.7 103.1,587.8 103.7,587.7 104.3,587.0 104.9,587.6 105.5,587.2 106.1,587.3 106.7,587.4 107.3,587.4 107.9,587.2 108.5,587.0 109.1,587.1 109.7,587.2 110.3,587.4 110.9,587.2 111.5,587.6 112.1,587.5 112.7,587.8 113.3,587.5 113.9,587.5 114.6,587.7 115.2,587.6 115.8,587.8 116.4,587.6 117.0,587.5 117.6,587.6 118.2,587.8 118.8,587.7 119.4,587.7 120.0,587.6 120.6,587.7 121.2,587.4 121.8,587.7 122.4,588.1 123.0,587.6 123.6,588.0 124.2,588.0 124.8,588.1 125.4,587.5 126.0,587.4 126.6,587.7 127.2,587.5 127.8,587.5 128.4,587.3 129.0,587.5 129.6,587.8 130.2,587.1 130.8,587.4 131.4,588.0 132.0,588.2 132.6,588.0 133.2,588.1 133.8,587.7 134.4,587.9 135.0,587.5 135.6,588.0 136.2,587.8 136.8,587.7 137.4,587.5 138.0,587.6 138.6,587.5 139.2,587.3 139.8,587.7 140.5,587.6 141.1,587.2 141.7,587.7 142.3,587.3 142.9,587.2 143.5,588.1 144.1,587.7 144.7,587.6 145.3,587.4 145.9,587.8 146.5,587.4 147.1,587.6 147.7,587.6 148.3,587.9 148.9,587.6 149.5,587.7 150.1,588.2 150.7,587.9 151.3,587.6 151.9,587.4 152.5,587.0 153.1,587.0 153.7,587.9 154.3,587.9 154.9,587.4 155.5,587.6 156.1,587.4 156.7,587.8 157.3,587.4 157.9,587.6 158.5,587.4 159.1,587.2 159.7,587.6 160.3,587.3 160.9,587.6 161.5,587.5 162.1,588.1 162.7,587.5 163.3,587.6 163.9,587.6 164.5,588.2 165.1,587.7 165.7,587.9 166.3,587.9 166.9,588.0 167.5,588.0 168.1,587.6 168.7,587.6 169.3,588.1 169.9,587.7 170.5,587.8 171.1,587.8 171.7,587.9 172.3,587.8 172.9,587.8 173.5,587.8 174.1,587.5 174.7,587.9 175.3,587.9 175.9,588.1 176.5,587.8 177.1,587.8 177.7,587.9 178.3,587.8 178.9,587.3 179.5,587.8 180.2,588.0 180.8,588.1 181.4,588.0 182.0,588.2 182.6,588.0 183.2,588.2 183.8,588.1 184.4,588.3 185.0,588.2 185.6,588.1 186.2,588.0 186.8,587.7 187.4,588.0 188.0,587.3 188.6,587.7 189.2,587.9 189.8,587.9 190.4,588.5 191.0,587.9 191.6,588.0 192.2,588.0 192.8,588.0 193.4,587.9 194.0,588.1 194.6,587.7 195.2,588.2 195.8,588.0 196.4,588.2 197.0,588.1 197.6,588.2 198.2,588.1 198.8,588.1 199.4,587.6 200.0,587.8 200.6,587.8 201.2,587.8 201.8,587.8 202.4,587.8 203.0,587.6 203.6,588.0 204.2,587.8 204.8,587.7 205.4,587.9 206.0,587.9 206.6,587.7 207.2,588.0 207.8,588.0 208.4,588.0 209.0,588.3 209.6,587.9 210.2,588.0 210.8,587.9 211.4,587.9 212.0,587.8 212.6,587.8 213.2,587.4 213.8,586.9 214.4,587.5 215.0,587.6 215.6,587.5 216.2,587.6 216.8,587.6 217.4,587.6 218.0,587.1 218.6,587.6 219.2,587.7 219.8,587.4 220.4,587.8 221.0,588.0 221.6,587.6 222.2,587.9 222.8,587.8 223.4,587.6 224.0,588.2 224.6,587.8 225.2,587.7 225.8,587.5 226.4,587.8 227.0,587.8 227.6,587.7 228.2,587.7 228.8,587.7 229.4,587.7 230.0,587.9 230.6,587.8 231.2,587.5 231.8,587.4 232.4,587.7 233.0,587.6 233.6,587.4 234.2,587.2 234.8,587.9 235.4,587.6 236.0,587.8 236.6,587.8 237.2,587.5 237.8,587.3 238.4,587.9 239.0,587.8 239.6,587.7 240.2,587.9 240.8,587.7 241.4,587.8 242.0,587.5 242.6,587.5 243.2,587.8 243.8,587.6 244.4,588.0 245.0,588.3 245.6,587.8 246.2,587.8 246.8,587.9 247.4,587.8 248.0,587.6 248.6,587.5 249.2,587.3 249.8,587.4 250.4,587.5 251.0,586.9 251.6,587.4 252.2,587.3 252.8,587.4 253.4,587.6 254.0,587.6 254.6,587.4 255.2,587.4 255.8,587.1 256.4,587.5 257.0,587.5 257.6,587.5 258.2,587.5 258.8,587.5 259.4,587.2 260.0,587.5 260.6,587.8 261.2,587.6 261.8,587.7 262.4,587.2 263.0,587.0 263.6,587.4 264.2,587.2 264.8,587.4 265.4,587.3 266.0,587.5 266.6,587.3 267.2,587.7 267.8,587.2 268.4,587.0 269.0,586.9 269.6,586.8 270.2,586.7 270.8,586.5 271.4,587.0 272.0,586.7 272.6,587.2 273.2,587.0 273.8,587.0 274.4,586.8 275.0,586.5 275.6,587.0 276.2,587.2 276.8,587.0 277.4,587.1 278.0,586.7 278.6,586.8 279.2,586.6 279.8,586.8 280.4,587.0 281.0,587.0 281.6,587.2 282.2,586.9 282.8,587.4 283.4,587.3 284.0,586.8 284.6,586.9 285.2,586.4 285.8,586.7 286.4,586.7 287.0,586.5 287.6,586.6 288.2,586.7 288.8,586.6 289.4,586.6 290.0,586.1 290.6,586.6 291.2,586.7 291.8,586.1 292.4,586.1 293.0,586.2 293.6,586.1 294.2,586.5 294.8,586.0 295.4,585.5 296.0,585.9 296.6,585.8 297.2,586.0 297.8,585.7 298.4,586.1 299.0,586.4 299.6,586.6 300.2,586.1 300.8,585.7 301.4,586.2 302.0,585.6 302.6,585.9 303.2,586.2 303.8,585.8 304.4,585.8 305.0,585.6 305.6,586.4 306.2,585.9 306.8,586.2 307.4,586.1 308.0,585.9 308.6,585.4 309.2,585.7 309.8,585.3 310.4,585.8 311.0,585.6 311.6,585.9 312.2,585.7 312.8,585.5 313.4,585.6 314.0,585.4 314.6,585.5 315.2,585.8 315.8,585.6 316.4,585.6 317.0,585.9 317.6,585.5" fill="none" stroke="#f00000" stroke-width="1.3" stroke-linejoin="round"/>
<path d="M72.8,578.4 73.4,577.9 74.0,578.4 74.6,577.6 75.2,578.1 75.8,578.2 76.4,578.5 77.1,578.6 77.7,578.5 78.3,578.4 78.9,578.5 79.5,578.5 80.1,578.9 80.7,578.5 81.3,579.4 81.9,578.7 82.5,579.5 83.1,579.2 83.7,579.8 84.3,579.6 84.9,579.4 85.6,579.6 86.2,580.4 86.8,579.9 87.4,579.9 88.0,580.7 88.6,580.3 89.2,580.5 89.8,580.6 90.4,580.1 91.0,580.4 91.6,580.8 92.2,581.4 92.8,581.9 93.4,581.4 94.1,581.5 94.7,580.9 95.3,581.5 95.9,581.3 96.5,580.9 97.1,581.8 97.7,581.6 98.3,581.7 98.9,581.5 99.5,581.2 100.1,580.9 100.7,581.7 101.4,581.8 102.0,581.2 102.6,582.1 103.2,581.3 103.8,581.0 104.4,582.1 105.0,581.6 105.6,581.8 106.2,582.1 106.8,582.5 107.5,582.1 108.1,581.8 108.7,581.6 109.3,581.9 109.9,581.8 110.5,582.1 111.1,582.3 111.7,581.7 112.3,581.7 112.9,581.8 113.5,581.9 114.2,582.6 114.8,582.6 115.4,582.2 116.0,582.0 116.6,582.8 117.2,582.3 117.3,581.2 117.4,580.9 117.5,580.1 117.6,579.7 117.7,578.8 117.8,578.4 117.9,577.4 118.0,576.5 118.1,576.6 118.2,576.1 118.3,575.4 118.4,575.0 118.5,574.2 118.6,573.6 118.7,573.4 118.8,572.2 118.9,571.8 119.0,570.9 119.1,570.6 119.2,570.2 119.2,569.1 119.3,569.2 119.4,568.2 119.5,567.7 119.6,567.0 119.7,566.4 119.8,566.0 119.9,565.0 120.0,564.5 120.1,563.9 120.2,563.8 120.3,563.1 120.4,562.4 120.5,562.1 120.6,560.4 120.7,560.6 120.8,559.2 120.9,558.9 121.0,559.0 121.1,558.4 121.2,557.6 121.3,557.3 121.3,555.7 121.4,555.7 121.4,555.1 121.4,554.3 121.5,554.0 121.5,553.9 121.5,552.5 121.6,551.8 121.6,551.6 121.6,550.9 121.6,551.0 121.7,550.6 121.7,549.7 121.7,548.6 121.8,548.6 121.8,547.4 121.8,547.0 121.9,546.6 121.9,545.8 121.9,545.0 122.0,544.0 122.0,543.9 122.0,542.8 122.1,542.0 122.1,542.2 122.1,541.4 122.1,540.9 122.2,540.6 122.2,539.7 122.2,538.9 122.3,538.5 122.3,537.8 122.3,537.0 122.4,536.6 122.4,536.4 122.4,535.5 122.5,534.8 122.5,534.1 122.5,533.4 122.6,533.1 122.6,532.8 122.6,532.2 122.6,531.5 122.7,530.8 122.7,530.1 122.7,529.4 122.8,528.7 122.8,528.0 122.8,528.0 122.9,526.5 122.9,526.3 122.9,525.8 123.0,525.1 123.0,524.5 123.0,524.6 123.1,523.6 123.1,522.7 123.1,522.4 123.1,522.1 123.2,521.1 123.2,520.4 123.2,520.0 123.3,519.2 123.3,518.7 123.3,518.1 123.4,517.5 123.4,517.0 123.4,515.9 123.5,515.0 123.5,514.9 123.5,514.5 123.6,513.9 123.6,513.8 123.6,513.2 123.7,511.9 123.7,512.0 123.7,511.1 123.7,510.2 123.8,509.6 123.8,509.2 123.8,508.3 123.9,507.0 123.9,507.0 123.9,506.3 124.0,506.2 124.0,505.0 124.0,504.7 124.1,504.0 124.1,503.1 124.1,502.7 124.2,502.7 124.2,502.0 124.2,501.1 124.2,500.2 124.3,499.8 124.3,498.9 124.3,498.3 124.4,498.0 124.4,497.6 124.4,497.6 124.5,496.9 124.5,496.5 124.5,495.0 124.6,494.8 124.6,493.9 124.6,493.0 124.7,493.0 124.7,491.8 124.7,491.4 124.7,491.4 124.8,490.1 124.8,489.5 124.8,489.1 124.9,489.5 124.9,487.8 124.9,487.9 125.0,487.5 125.0,486.2 125.0,485.5 125.1,485.2 125.1,484.9 125.1,484.3 125.2,483.5 125.2,482.4 125.2,481.6 125.2,481.6 125.3,481.3 125.3,480.1 125.3,480.4 125.4,479.3 125.4,478.7 125.4,477.8 125.5,477.1 125.5,475.8 125.6,475.4 125.8,475.0 125.9,474.4 126.1,473.8 126.2,473.4 126.4,473.0 126.5,472.0 126.7,471.7 126.8,470.8 127.0,469.7 127.1,469.1 127.3,469.0 127.4,468.6 127.6,468.5 127.7,467.5 127.9,466.9 128.0,467.1 128.1,468.0 128.2,467.4 128.3,468.2 128.4,469.0 128.6,469.3 128.7,469.2 128.8,470.4 128.9,471.0 129.0,471.6 129.1,472.9 129.2,473.1 129.3,474.3 129.4,474.7 129.6,475.1 129.7,475.5 129.8,475.6 129.9,477.2 130.0,477.2 130.1,478.2 130.2,478.1 130.3,479.5 130.5,479.2 130.6,479.6 130.7,481.0 130.8,482.2 130.9,481.8 131.3,482.2 131.7,483.5 132.1,484.2 132.5,485.5 132.9,484.3 133.3,484.0 133.7,484.9 134.1,486.6 134.5,486.3 134.9,487.0 135.3,487.8 135.6,487.7 135.9,489.1 136.2,489.7 136.5,489.6 136.8,490.4 137.1,490.6 137.4,491.1 137.7,492.5 138.0,492.1 138.3,493.1 138.6,493.4 138.9,493.8 139.2,495.1 139.5,496.3 139.8,495.4 140.4,495.1 141.0,494.8 141.7,496.4 142.3,496.8 142.9,495.4 143.5,495.5 143.9,496.9 144.3,496.6 144.7,496.7 145.2,498.2 145.6,497.8 146.0,498.2 146.4,499.1 146.8,498.1 147.2,500.5 147.6,499.4 148.0,500.3 148.4,501.3 148.9,501.5 149.3,502.4 149.7,503.1 150.1,502.9 150.7,502.9 151.3,503.6 151.9,503.1 152.5,503.9 153.1,504.6 153.6,503.9 154.2,505.1 154.8,504.6 155.4,503.7 156.0,504.6 156.5,503.4 157.1,504.9 157.6,505.5 158.1,504.9 158.6,504.7 159.2,506.0 159.7,506.2 160.2,505.8 160.8,505.2 161.3,505.5 161.8,508.3 162.3,508.4 162.9,508.5 163.4,508.9 164.0,508.4 164.5,508.4 165.1,508.4 165.6,509.4 166.2,509.8 166.7,510.0 167.2,511.9 167.8,513.1 168.1,512.3 168.3,511.9 168.6,514.2 168.9,514.0 169.2,513.4 169.4,513.1 169.7,514.9 170.0,515.0 170.3,515.9 170.5,516.6 170.8,516.7 171.1,518.6 171.5,518.7 171.8,519.8 172.2,519.1 172.5,520.9 172.9,521.0 173.2,521.0 173.6,522.6 173.9,522.6 174.3,523.5 174.6,523.2 175.0,524.0 175.3,524.4 175.7,523.0 176.0,523.3 176.3,525.3 176.6,525.5 176.9,525.5 177.2,527.6 177.5,527.2 177.8,528.4 178.1,528.8 178.4,530.0 178.7,530.5 179.0,529.8 179.3,530.8 179.6,532.6 179.9,533.2 180.2,533.8 180.5,533.2 180.8,533.7 181.1,534.0 181.3,534.8 181.6,535.3 181.8,535.3 182.1,536.7 182.3,536.7 182.6,537.6 182.8,538.4 183.1,539.0 183.3,538.8 183.6,540.1 183.8,540.5 184.1,541.3 184.3,541.7 184.5,541.6 184.8,542.3 185.0,542.5 185.3,543.3 185.5,544.1 185.8,544.5 186.0,544.6 186.3,545.3 186.5,545.1 186.8,546.5 187.0,547.2 187.2,547.1 187.4,547.8 187.6,548.4 187.8,549.4 188.0,549.7 188.2,550.6 188.4,551.0 188.6,551.8 188.8,552.0 189.0,552.1 189.2,552.7 189.3,553.6 189.5,554.4 189.7,555.1 189.9,555.5 190.1,556.7 190.3,556.7 190.5,557.1 190.7,557.5 190.9,558.1 191.1,558.7 191.3,559.7 191.5,560.4 191.8,561.5 192.1,561.8 192.4,561.9 192.7,561.9 193.0,563.1 193.3,563.6 193.6,564.4 193.9,564.7 194.2,565.7 194.5,565.3 194.8,566.2 195.1,567.2 195.3,567.8 195.6,568.0 195.9,568.7 196.2,568.3 196.5,568.9 196.8,569.9 197.1,569.8 197.4,570.1 197.7,570.6 198.0,571.3 198.3,570.8 198.6,572.5 198.9,573.6 199.3,573.8 199.8,574.8 200.2,574.9 200.7,575.6 201.1,575.6 201.5,575.7 202.0,576.8 202.4,577.5 202.9,577.5 203.3,577.6 203.7,578.5 204.2,578.3 204.6,578.7 205.1,579.8 205.5,579.6 205.9,580.5 206.4,581.4 206.8,581.3 207.3,582.1 207.7,582.9 208.3,583.0 208.9,583.6 209.5,583.3 210.1,584.0 210.7,583.6 211.3,584.2 211.8,584.4 212.4,584.4 213.0,584.5 213.6,584.8 214.2,584.5 214.8,585.4 215.4,584.9 216.0,584.7 216.6,585.5 217.2,586.0 217.8,585.3 218.4,585.9 218.9,586.0 219.5,586.5 220.1,587.2 220.7,586.7 221.3,586.9 221.9,587.3 222.5,587.6 223.1,587.0 223.7,587.3 224.3,587.9 224.9,587.9 225.5,587.2 226.1,586.8 226.7,587.0 227.3,587.3 227.9,587.2 228.5,587.3 229.1,587.2 229.8,587.7 230.4,588.1 231.0,587.5 231.6,588.0 232.2,587.6 232.8,588.0 233.4,587.2 234.0,587.0 234.6,587.3 235.2,586.9 235.8,587.2 236.4,587.1 237.0,587.1 237.6,588.4 238.2,587.5 238.8,587.2 239.4,587.1 240.0,586.9 240.6,587.1 241.2,586.8 241.8,587.3 242.4,587.5 243.0,586.4 243.7,585.6 244.3,586.0 244.9,585.9 245.5,586.5 246.1,586.1 246.7,586.8 247.3,586.4 247.9,585.9 248.5,586.6 249.1,586.5 249.7,586.9 250.3,586.4 250.6,586.1 250.9,585.4 251.2,584.4 251.5,583.7 251.9,583.8 252.2,582.0 252.5,581.8 252.8,581.6 253.1,581.4 253.4,580.9 253.7,580.3 254.0,579.8 254.3,579.1 254.7,578.4 255.0,578.1 255.3,577.7 255.6,576.7 255.9,576.8 256.0,575.4 256.1,574.8 256.2,574.7 256.3,573.9 256.4,573.5 256.5,572.5 256.6,572.5 256.6,572.2 256.7,571.3 256.8,570.2 256.9,569.9 257.0,569.7 257.1,568.7 257.2,568.7 257.3,567.9 257.4,566.7 257.5,566.3 257.6,565.3 257.7,564.7 257.8,564.1 257.9,564.1 258.0,562.9 258.0,562.2 258.1,561.5 258.2,561.0 258.3,560.0 258.4,559.9 258.5,559.4 258.6,558.5 258.7,558.7 258.8,557.7 258.9,556.9 259.0,557.2 259.1,556.5 259.2,556.5 259.3,555.9 259.4,555.4 259.5,554.3 259.5,553.5 259.6,552.4 259.7,551.6 259.8,550.9 259.9,550.5 260.0,550.2 260.1,549.6 260.2,548.9 260.3,547.8 260.4,547.3 260.5,547.4 260.6,546.8 260.7,546.1 260.8,546.0 260.9,544.7 260.9,544.6 261.0,543.7 261.1,543.6 261.2,543.0 261.3,542.6 261.4,541.5 261.5,540.1 261.6,540.1 261.6,539.1 261.7,539.1 261.7,538.5 261.7,538.0 261.8,537.1 261.8,536.6 261.8,535.9 261.9,535.2 261.9,534.5 261.9,533.9 262.0,533.5 262.0,533.1 262.1,531.8 262.1,531.6 262.1,530.9 262.2,530.7 262.2,530.4 262.2,529.9 262.3,529.2 262.3,528.5 262.3,527.1 262.4,527.1 262.4,526.0 262.4,525.7 262.5,524.9 262.5,524.1 262.5,523.4 262.6,522.6 262.6,522.5 262.6,521.9 262.7,521.3 262.7,520.6 262.7,520.7 262.8,520.5 262.8,518.9 262.9,518.0 262.9,517.1 262.9,516.4 263.0,516.1 263.0,515.6 263.0,515.6 263.1,515.2 263.1,514.4 263.1,513.8 263.2,512.7 263.2,511.6 263.2,511.7 263.3,511.4 263.3,510.3 263.3,509.7 263.4,509.2 263.4,508.6 263.4,507.8 263.5,507.1 263.5,506.7 263.5,506.4 263.6,506.0 263.6,505.4 263.7,505.1 263.7,503.6 263.7,502.8 263.8,503.2 263.8,501.9 263.8,501.2 263.9,500.5 263.9,499.1 263.9,499.3 264.0,498.0 264.0,497.7 264.0,497.1 264.1,497.0 264.1,495.5 264.1,495.5 264.2,495.2 264.2,495.5 264.2,495.0 264.3,494.4 264.3,492.8 264.3,492.7 264.4,491.4 264.4,491.4 264.5,490.7 264.5,489.7 264.5,489.4 264.6,488.4 264.6,488.1 264.6,487.2 264.7,486.8 264.7,486.0 264.7,485.9 264.8,485.7 264.8,484.2 264.8,483.9 264.8,482.9 264.9,482.4 264.9,482.1 264.9,481.7 264.9,481.5 264.9,480.4 264.9,480.1 265.0,479.2 265.0,478.7 265.0,477.8 265.0,476.6 265.0,476.1 265.1,475.5 265.1,475.2 265.1,474.5 265.1,474.1 265.1,473.5 265.1,472.3 265.2,472.0 265.2,471.6 265.2,470.7 265.2,470.1 265.2,469.6 265.2,468.8 265.3,468.1 265.3,468.3 265.3,467.7 265.3,466.5 265.3,465.3 265.4,465.7 265.4,465.1 265.4,464.9 265.4,463.2 265.4,462.9 265.4,463.1 265.5,462.6 265.5,461.9 265.5,460.5 265.5,460.1 265.5,459.7 265.6,459.4 265.6,458.0 265.6,457.5 265.6,457.3 265.6,456.1 265.6,456.0 265.7,455.0 265.7,454.4 265.7,454.3 265.7,453.4 265.7,453.1 265.7,452.9 265.8,452.8 265.8,451.9 265.8,451.0 265.8,451.1 265.8,449.6 265.9,449.1 265.9,448.6 265.9,447.6 265.9,446.7 265.9,446.6 265.9,446.1 266.0,445.2 266.0,444.7 266.0,443.0 266.0,445.4 266.0,438.7 266.1,442.2 266.1,441.1 266.1,438.7 266.1,438.1 266.1,441.0 266.1,441.9 266.2,441.9 266.2,442.3 266.2,441.4 266.2,439.5 266.2,437.8 266.2,435.2 266.3,434.6 266.3,433.2 266.3,434.4 266.4,433.3 266.6,434.0 266.7,434.1 266.8,436.0 266.9,433.0 267.1,431.6 267.2,431.2 267.3,429.1 267.5,429.0 267.6,430.7 267.7,430.9 267.8,428.4 268.0,423.9 268.1,424.2 268.2,423.3 268.4,423.7 268.5,424.7 268.6,424.3 268.7,424.4 268.9,424.9 269.0,421.9 269.4,425.0 269.8,421.4 270.2,425.3 270.6,420.3 271.0,421.4 271.4,423.4 271.9,416.9 272.3,418.4 272.7,417.2 273.1,417.3 273.5,415.2 273.9,414.1 274.3,412.9 274.8,415.5 275.3,414.8 275.7,414.0 276.2,412.5 276.7,413.4 277.2,412.5 277.7,408.7 278.2,412.1 278.6,413.7 279.1,408.5 279.6,409.6 279.7,410.9 279.8,411.8 280.0,413.5 280.1,413.9 280.2,412.2 280.3,412.0 280.5,414.8 280.6,412.0 280.7,411.7 280.8,412.2 281.0,415.2 281.1,416.4 281.2,418.1 281.3,420.2 281.5,420.8 281.6,419.6 281.7,421.5 281.8,424.7 282.0,423.5 282.1,424.1 282.2,423.8 282.3,422.8 282.5,425.0 282.6,428.4 282.7,427.2 283.0,424.6 283.4,426.7 283.7,429.5 284.1,428.3 284.4,430.3 284.7,430.2 285.1,428.0 285.4,430.8 285.8,429.9 286.1,427.8 286.4,428.1 286.8,431.2 287.1,433.4 287.5,432.0 287.8,432.2 288.1,431.9 288.5,433.5 288.8,435.7 289.2,436.0 289.5,437.2 289.8,436.3 290.2,436.4 290.5,437.3 290.9,437.4 291.2,437.4 291.6,438.7 292.1,438.5 292.5,441.5 293.0,440.8 293.4,439.4 293.9,439.3 294.3,443.8 294.7,440.8 295.2,441.6 295.6,439.9 296.1,440.2 296.5,441.5 296.9,446.2 297.4,446.3 297.8,445.3 298.3,441.6 298.7,445.4 299.2,446.7 299.6,446.7 300.0,448.0 300.5,447.8 300.9,448.4 301.3,448.1 301.7,449.6 302.2,447.9 302.6,446.1 303.0,449.1 303.4,447.9 303.9,448.5 304.3,450.4 304.7,448.8 305.1,449.0 305.6,450.6 306.0,452.4 306.4,452.7 306.8,452.8 307.2,451.3 307.7,454.6 308.1,455.0 308.6,455.5 309.2,453.2 309.7,455.1 310.2,456.0 310.7,456.3 311.3,459.9 311.8,454.7 312.3,454.6 312.9,458.0 313.4,459.7 313.9,461.2 314.4,458.4 315.0,459.5 315.5,460.2 316.0,461.6 316.5,461.7 317.1,460.6 317.6,461.2" fill="none" stroke="#000" stroke-width="1.5" stroke-linejoin="round"/>
<path d="M72.8,581.0 73.4,580.8 74.0,580.2 74.6,579.5 75.2,580.3 75.8,580.8 76.4,580.1 77.0,580.6 77.6,580.3 78.2,580.6 78.8,580.3 79.4,579.9 80.0,581.3 80.6,581.1 81.2,581.0 81.8,580.7 82.4,580.7 83.0,580.9 83.6,580.9 84.2,581.0 84.8,581.1 85.4,581.5 86.0,581.7 86.6,581.5 87.2,582.0 87.8,581.1 88.4,581.8 89.0,581.5 89.6,581.7 90.2,581.7 90.8,580.7 91.4,581.5 92.0,581.6 92.6,581.7 93.2,581.8 93.8,581.6 94.4,581.3 95.0,581.4 95.7,581.8 96.3,582.0 96.9,581.8 97.5,581.9 98.1,581.5 98.7,581.6 99.3,581.8 99.9,581.6 100.5,581.3 101.1,581.0 101.7,580.8 102.3,580.9 102.9,581.4 103.5,581.1 104.1,581.5 104.7,582.2 105.3,581.3 105.9,581.3 106.5,582.2 107.1,582.0 107.7,581.9 108.3,581.6 108.9,581.4 109.5,581.6 110.1,581.9 110.7,582.0 111.3,582.1 111.9,583.0 112.5,582.3 113.1,582.7 113.7,582.0 114.3,581.6 114.9,581.4 115.5,581.9 116.1,581.1 116.7,580.7 117.3,581.8 117.9,581.9 118.5,581.7 118.6,581.2 118.6,580.3 118.7,579.5 118.8,579.3 118.8,579.1 118.9,577.6 119.0,577.7 119.0,577.4 119.1,576.5 119.1,576.2 119.2,574.8 119.3,574.6 119.3,573.6 119.4,573.2 119.5,572.8 119.5,572.1 119.6,571.4 119.7,571.4 119.7,569.9 119.8,569.9 119.9,569.5 119.9,569.2 120.0,567.7 120.1,567.4 120.1,567.0 120.2,566.6 120.2,565.6 120.3,565.5 120.4,564.0 120.4,563.9 120.5,563.2 120.6,561.9 120.6,561.9 120.7,562.1 120.8,561.6 120.8,560.1 120.9,560.1 121.0,559.4 121.0,558.7 121.1,558.0 121.1,557.9 121.2,557.4 121.3,556.4 121.3,556.2 121.4,555.5 121.5,555.1 121.5,554.4 121.6,553.7 121.7,552.8 121.7,552.5 121.8,552.2 121.9,550.7 121.9,549.9 122.0,549.5 122.1,548.5 122.1,548.6 122.2,548.4 122.2,547.5 122.3,547.2 122.4,547.0 122.4,545.0 122.5,545.6 122.6,544.6 122.6,545.0 122.7,543.7 122.8,543.4 122.8,542.7 122.9,541.8 122.9,540.7 123.0,540.1 123.0,539.5 123.1,538.7 123.2,538.5 123.2,536.9 123.3,536.6 123.3,535.4 123.4,536.3 123.4,535.5 123.5,534.0 123.6,534.2 123.6,533.3 123.7,531.9 123.7,532.1 123.8,531.8 123.8,530.2 123.9,529.9 123.9,528.8 124.0,529.2 124.1,529.4 124.1,527.5 124.2,528.0 124.2,527.2 124.3,526.8 124.3,525.7 124.4,525.2 124.5,524.2 124.5,523.8 124.6,523.4 124.6,522.2 124.7,521.7 124.7,521.3 124.8,521.7 124.9,519.9 124.9,519.1 125.0,519.0 125.0,517.9 125.1,517.5 125.1,517.0 125.2,516.6 125.3,516.0 125.3,515.2 125.4,514.8 125.4,513.9 125.5,513.5 125.5,513.0 125.6,512.8 125.6,512.3 125.7,511.3 125.8,510.3 125.8,509.9 125.9,509.4 125.9,509.5 126.0,508.1 126.0,507.8 126.1,507.2 126.2,506.0 126.2,506.1 126.3,505.3 126.3,504.8 126.4,504.1 126.4,503.6 126.5,503.0 126.8,503.4 127.2,503.3 127.5,503.7 127.9,504.9 128.2,505.2 128.6,504.9 128.9,506.1 129.3,507.1 129.6,507.1 130.0,507.1 130.3,508.3 130.7,509.1 131.0,509.5 131.4,509.7 131.7,511.2 132.1,511.3 132.4,512.4 132.9,512.1 133.4,512.4 133.9,513.0 134.4,512.6 134.9,514.9 135.4,513.6 135.9,514.5 136.3,514.8 136.8,515.8 137.3,515.5 137.8,516.1 138.3,515.6 138.8,516.5 139.3,517.4 139.8,517.5 140.4,517.9 140.9,517.6 141.5,519.6 142.1,519.4 142.7,519.7 143.2,520.2 143.8,519.7 144.4,519.8 144.9,519.8 145.5,519.8 146.1,521.0 146.7,520.7 147.2,520.8 147.8,520.7 148.4,520.5 149.0,520.5 149.5,521.8 150.1,520.7 150.7,522.2 151.3,521.9 151.8,522.9 152.4,522.5 153.0,523.2 153.6,523.5 154.1,523.9 154.7,523.6 155.3,524.7 155.9,524.0 156.5,524.0 157.0,525.1 157.6,524.6 158.2,524.7 158.8,525.5 159.3,525.4 159.9,526.3 160.5,526.2 161.0,525.9 161.5,528.0 162.1,527.4 162.6,528.6 163.1,528.0 163.6,529.1 164.2,528.0 164.7,529.4 165.2,529.1 165.7,529.8 166.2,529.9 166.8,529.4 167.3,530.4 167.8,529.2 168.3,530.1 168.8,530.2 169.3,530.4 169.8,531.8 170.3,531.9 170.8,533.0 171.3,533.6 171.7,534.9 172.2,535.2 172.7,534.3 173.2,535.1 173.7,534.9 174.2,535.8 174.7,535.4 175.2,535.6 175.6,536.7 176.1,537.5 176.5,538.4 177.0,538.5 177.4,540.9 177.9,541.1 178.3,540.6 178.8,541.1 179.2,541.2 179.6,541.7 180.1,541.2 180.5,542.6 181.0,543.1 181.4,542.9 181.9,543.3 182.3,543.8 182.8,545.0 183.2,545.7 183.7,545.6 184.1,546.6 184.6,547.0 185.1,547.5 185.6,547.8 186.1,548.3 186.6,548.5 187.1,548.5 187.6,548.9 188.0,549.9 188.5,549.6 189.0,549.1 189.5,548.8 190.0,549.5 190.5,550.5 191.0,551.3 191.5,552.5 192.0,553.1 192.5,552.9 193.0,553.2 193.5,553.6 194.0,554.3 194.5,554.5 195.0,553.7 195.4,555.3 195.9,555.6 196.4,554.8 196.9,555.9 197.4,556.8 197.9,557.0 198.4,557.5 198.9,558.0 199.5,558.5 200.1,558.4 200.7,559.6 201.3,558.9 201.8,559.2 202.4,558.6 203.0,559.6 203.6,559.1 204.2,558.1 204.8,559.2 205.4,559.0 206.0,559.2 206.6,559.6 207.2,559.3 207.8,559.8 208.3,560.6 208.9,560.4 209.5,560.8 210.1,559.9 210.7,562.0 211.3,561.2 211.8,561.3 212.4,562.7 212.9,562.3 213.5,563.2 214.1,563.2 214.6,563.7 215.2,564.2 215.8,564.2 216.3,562.7 216.9,564.2 217.4,564.3 218.0,566.7 218.6,565.3 219.1,565.8 219.7,566.3 220.3,567.1 220.8,567.3 221.4,568.1 221.9,569.3 222.5,567.0 223.1,567.3 223.8,568.2 224.4,569.0 225.0,569.2 225.6,568.6 226.2,567.0 226.9,567.6 227.5,568.4 228.1,568.8 228.8,569.0 229.4,569.1 230.0,568.7 230.6,568.7 231.1,569.0 231.7,569.5 232.3,570.3 232.8,570.5 233.4,571.0 233.9,570.3 234.5,570.3 235.1,572.0 235.6,571.7 236.2,572.6 236.8,572.4 237.3,571.9 237.9,572.9 238.4,572.8 239.0,572.6 239.6,572.9 240.1,574.3 240.7,573.1 241.3,574.1 241.8,573.8 242.4,575.6 243.0,575.4 243.5,574.9 244.1,575.0 244.6,575.8 245.2,574.9 245.8,576.2 246.3,576.8 246.9,576.8 247.5,576.1 248.2,576.7 248.8,576.4 249.4,576.3 250.1,576.2 250.7,576.2 251.3,576.3 251.9,576.3 252.6,577.3 253.2,577.8 253.4,576.1 253.6,576.4 253.7,576.0 253.9,574.8 254.1,574.3 254.3,573.2 254.5,572.4 254.7,571.7 254.8,571.0 255.0,571.4 255.2,570.4 255.4,570.4 255.6,568.5 255.7,569.9 255.9,568.8 256.1,567.5 256.3,567.3 256.5,567.5 256.7,565.9 256.8,565.5 257.0,565.6 257.2,562.9 257.2,564.2 257.3,564.8 257.3,564.3 257.4,562.3 257.4,561.4 257.5,561.4 257.5,561.3 257.6,560.6 257.6,559.6 257.6,559.6 257.7,558.0 257.7,557.5 257.8,556.7 257.8,556.1 257.9,555.5 257.9,554.3 258.0,554.5 258.0,555.0 258.1,553.4 258.1,551.8 258.1,552.1 258.2,550.3 258.2,550.0 258.3,549.6 258.3,548.9 258.4,549.0 258.4,548.3 258.5,547.9 258.5,547.4 258.5,546.0 258.6,544.5 258.6,546.2 258.7,543.5 258.7,544.9 258.8,542.6 258.8,543.6 258.9,540.5 258.9,541.0 259.0,540.7 259.0,540.2 259.0,540.2 259.1,539.9 259.1,538.3 259.2,537.8 259.2,537.6 259.3,537.5 259.3,537.0 259.4,535.5 259.4,535.5 259.4,534.7 259.5,533.4 259.5,532.9 259.6,532.6 259.6,532.9 259.7,531.2 259.7,531.3 259.8,531.1 259.8,530.1 259.8,528.8 259.9,527.9 259.9,528.4 260.0,527.5 260.0,527.0 260.1,526.5 260.1,525.6 260.2,524.7 260.2,523.7 260.3,523.9 260.3,523.2 260.3,521.9 260.4,522.1 260.4,521.3 260.5,520.7 260.5,520.9 260.6,519.7 260.6,518.8 260.7,518.7 260.7,517.9 260.7,516.8 260.8,516.0 260.8,515.7 260.9,515.0 260.9,513.9 261.0,513.2 261.0,513.9 261.1,512.8 261.1,512.8 261.2,511.8 261.2,511.0 261.2,510.8 261.3,509.5 261.3,508.7 261.4,508.7 261.4,507.4 261.5,506.5 261.5,506.4 261.6,505.5 261.6,505.7 261.8,504.8 261.9,504.3 262.1,503.7 262.2,503.4 262.4,502.6 262.5,501.7 262.7,501.4 262.9,500.4 263.0,500.4 263.2,499.7 263.3,498.8 263.5,498.4 263.6,498.5 263.8,497.3 264.4,497.3 265.0,496.5 265.6,495.4 266.2,497.7 266.8,496.6 267.4,496.1 268.0,495.7 268.6,495.3 269.2,497.0 269.8,495.2 270.4,495.0 271.0,496.9 271.6,496.8 272.2,494.1 272.7,496.8 273.2,496.0 273.7,495.4 274.2,493.4 274.7,494.7 275.2,495.0 275.7,494.3 276.2,493.3 276.7,492.5 277.2,492.0 277.7,494.4 278.2,492.7 278.7,488.3 279.2,489.9 279.7,488.8 280.2,488.8 280.7,489.2 281.2,488.2 281.7,489.1 282.2,489.8 282.7,487.9 283.3,491.2 283.9,489.7 284.5,489.7 285.1,489.7 285.6,487.8 286.2,488.3 286.8,490.2 287.4,489.5 288.0,490.8 288.6,488.5 289.2,489.2 289.8,489.7 290.4,490.6 290.9,489.7 291.5,490.0 292.1,491.1 292.7,490.3 293.3,489.7 293.9,489.6 294.5,491.3 295.2,491.8 295.8,492.3 296.4,493.7 297.0,492.3 297.6,492.4 298.2,491.2 298.9,491.8 299.5,490.9 300.1,491.0 300.7,492.0 301.3,491.2 301.9,492.3 302.6,490.3 303.2,489.9 303.8,490.2 304.4,489.8 305.0,488.8 305.6,487.3 306.2,488.8 306.8,489.0 307.4,491.3 308.0,490.9 308.6,490.2 309.2,491.0 309.8,491.1 310.4,491.0 311.0,490.7 311.6,490.6 312.2,491.2 312.8,491.2 313.4,491.4 314.0,490.2 314.6,490.2 315.2,492.2 315.8,491.3 316.4,490.9 317.0,491.1 317.6,490.7" fill="none" stroke="#000" stroke-width="1.5" stroke-linejoin="round"/>
<path d="M72.8,584.9 73.4,586.1 74.0,585.8 74.6,586.1 75.2,585.8 75.8,585.9 76.4,585.2 77.0,585.8 77.6,585.6 78.2,585.4 78.8,585.7 79.4,585.2 80.0,585.4 80.6,585.9 81.2,585.5 81.9,585.8 82.5,585.5 83.1,586.1 83.7,586.2 84.3,585.9 84.9,586.0 85.5,586.3 86.1,586.3 86.7,586.2 87.3,586.2 87.9,586.5 88.5,586.3 89.1,586.6 89.7,586.3 90.3,586.3 90.9,586.2 91.5,586.2 92.1,585.9 92.7,586.3 93.3,586.9 93.9,586.5 94.5,586.6 95.1,586.3 95.7,586.3 96.3,586.6 96.9,586.9 97.5,586.9 98.1,586.6 98.8,586.8 99.4,586.7 100.0,586.6 100.6,586.8 101.2,587.1 101.8,586.5 102.4,586.4 103.0,586.3 103.6,586.7 104.2,586.9 104.8,586.3 105.4,586.3 106.0,586.5 106.6,587.0 107.2,586.6 107.8,586.7 108.4,587.0 109.0,586.8 109.6,587.5 110.2,587.5 110.8,587.4 111.4,587.1 112.0,586.8 112.6,586.9 113.2,587.0 113.8,586.8 114.4,587.4 115.0,587.1 115.7,587.5 116.3,587.6 116.9,587.4 117.5,587.0 118.1,587.7 118.7,587.8 119.3,587.8 119.9,587.8 120.5,587.7 121.1,587.7 121.7,587.3 122.3,588.0 122.9,587.5 123.5,588.1 124.1,588.1 124.4,587.3 124.7,586.6 125.0,585.9 125.1,585.3 125.2,584.7 125.2,584.0 125.3,583.3 125.4,582.8 125.5,582.1 125.5,581.3 125.6,580.4 125.7,580.6 125.8,579.7 125.8,579.2 125.9,578.3 126.0,578.1 126.1,577.1 126.1,576.9 126.2,576.1 126.3,575.3 126.4,575.2 126.4,573.9 126.5,573.6 126.6,572.8 126.7,572.3 126.7,571.4 126.8,571.2 126.9,570.5 127.0,569.7 127.0,569.2 127.1,568.1 127.2,568.2 127.5,567.3 127.9,566.7 128.2,565.9 128.5,565.5 128.9,564.8 129.2,564.3 129.6,564.1 129.9,563.4 130.2,562.5 130.6,562.3 130.9,562.2 131.1,561.3 131.3,561.0 131.5,559.9 131.8,559.3 132.0,558.7 132.2,557.9 132.4,557.8 132.7,557.7 132.9,558.6 133.2,559.0 133.5,559.8 133.8,560.2 134.1,561.0 134.3,561.4 134.6,562.2 135.0,561.1 135.4,561.0 135.8,560.9 136.2,560.3 136.6,560.0 137.0,559.5 137.4,559.0 137.8,558.2 138.2,558.4 138.6,557.8 139.0,557.2 139.4,556.7 139.8,555.8 139.9,555.3 140.1,554.3 140.2,554.4 140.4,553.6 140.5,553.1 140.7,552.5 140.8,552.1 141.0,551.8 141.1,550.9 141.2,550.2 141.4,549.5 141.5,549.0 141.7,547.9 141.8,547.3 142.0,546.6 142.1,546.1 142.3,546.0 142.4,545.6 142.6,545.1 142.7,544.0 143.0,545.2 143.2,546.1 143.5,546.5 143.8,546.9 144.1,546.8 144.3,547.3 144.6,548.0 144.9,548.4 145.2,549.3 145.4,549.2 145.7,549.7 146.3,550.4 146.9,550.5 147.5,550.9 148.0,551.0 148.6,551.2 149.2,550.5 149.8,551.2 150.4,551.2 151.0,551.7 151.6,552.1 152.2,552.2 152.7,552.3 153.3,552.1 153.9,552.8 154.5,552.6 155.1,552.7 155.7,552.8 156.3,552.6 156.9,552.8 157.5,553.5 158.1,553.5 158.7,553.1 159.2,553.3 159.8,553.3 160.4,553.9 161.0,553.4 161.6,553.5 162.2,553.8 162.8,554.3 163.4,553.7 164.0,554.3 164.5,555.1 165.1,555.6 165.6,556.1 166.2,556.6 166.7,556.0 167.3,556.3 167.9,557.1 168.4,557.5 169.0,557.5 169.5,557.6 170.1,558.0 170.6,558.0 171.2,558.6 171.7,559.0 172.3,559.7 172.7,559.8 173.1,560.4 173.5,561.2 173.9,561.5 174.3,561.8 174.7,562.5 175.1,562.8 175.4,562.3 175.8,563.2 176.2,563.7 176.6,564.1 177.0,564.8 177.4,565.3 177.8,565.3 178.2,566.4 178.6,566.7 179.0,567.4 179.4,567.8 179.8,568.2 180.2,568.7 180.6,569.2 181.0,570.0 181.3,570.1 181.7,570.8 182.1,571.5 182.5,571.9 182.9,572.0 183.3,573.3 183.7,573.5 184.1,573.6 184.6,574.4 185.1,574.7 185.6,575.3 186.1,575.7 186.6,576.1 187.1,576.7 187.6,577.1 188.0,577.2 188.5,577.7 189.0,578.0 189.5,578.2 190.0,578.6 190.5,578.9 191.0,579.1 191.5,579.3 192.1,580.0 192.6,580.6 193.2,580.6 193.8,580.7 194.4,581.0 194.9,581.1 195.5,581.1 196.1,581.1 196.7,582.0 197.2,581.7 197.8,581.4 198.4,582.0 198.9,582.4 199.5,583.4 200.1,583.0 200.7,583.5 201.2,583.9 201.8,584.4 202.4,584.5 203.0,584.9 203.6,584.3 204.2,585.2 204.8,585.5 205.3,585.5 205.9,584.9 206.5,585.1 207.1,584.9 207.7,584.9 208.3,585.6 208.9,585.9 209.5,585.5 210.1,585.0 210.7,585.6 211.2,585.9 211.8,585.7 212.4,586.2 213.0,586.0 213.6,586.2 214.2,586.3 214.8,586.0 215.4,586.9 216.1,587.1 216.7,587.3 217.3,587.0 217.9,586.9 218.5,587.9 219.1,587.5 219.8,587.4 220.4,587.5 221.0,588.2 221.6,588.1 222.2,588.5 222.8,588.1 223.5,587.9 224.1,588.6 224.7,588.9 225.3,588.4 225.9,588.1 226.5,588.0 227.1,588.1 227.7,588.0 228.3,588.3 228.9,588.5 229.6,588.4 230.2,588.8 230.8,588.7 231.4,588.2 232.0,588.2 232.6,587.8 233.2,588.8 233.8,588.3 234.4,588.4 235.0,588.3 235.6,588.0 236.2,588.2 236.9,588.6 237.5,588.3 238.1,588.1 238.7,587.9 239.3,588.1 239.9,587.9 240.5,588.0 241.1,588.0 241.7,587.6 242.3,587.7 242.9,588.0 243.5,587.8 244.1,587.3 244.7,587.4 245.2,586.9 245.8,586.7 246.4,586.8 247.0,587.3 247.6,586.8 248.2,586.9 248.8,586.8 249.4,586.6 250.0,586.7 250.6,586.2 251.2,586.3 251.8,585.4 252.4,586.3 253.0,586.5 253.6,586.6 254.2,586.0 254.8,586.2 255.3,585.5 255.9,585.3 256.5,584.9 257.1,585.1 257.7,585.1 258.3,585.3 258.9,584.7 259.5,585.2 259.6,584.0 259.6,584.1 259.7,583.4 259.7,583.2 259.8,581.6 259.8,581.2 259.9,580.6 259.9,580.6 260.0,579.9 260.0,579.6 260.1,578.7 260.1,577.9 260.2,577.2 260.2,576.9 260.3,576.1 260.3,575.1 260.4,574.9 260.4,573.5 260.5,573.2 260.5,572.6 260.6,572.5 260.6,571.8 260.7,571.3 260.7,571.1 260.8,570.0 260.8,569.5 260.9,569.0 260.9,568.0 261.0,567.5 261.0,567.0 261.1,566.4 261.1,565.0 261.2,564.8 261.2,564.5 261.3,563.9 261.3,562.8 261.4,562.3 261.4,561.5 261.5,561.4 261.5,560.9 261.6,560.2 261.6,559.1 261.6,558.9 261.7,557.8 261.7,557.8 261.7,557.2 261.7,556.2 261.8,555.1 261.8,554.5 261.8,554.0 261.8,553.7 261.8,553.5 261.9,553.1 261.9,551.9 261.9,551.3 261.9,550.8 262.0,550.3 262.0,549.9 262.0,549.3 262.0,548.0 262.1,547.7 262.1,547.5 262.1,547.0 262.1,546.6 262.1,545.4 262.2,545.4 262.2,544.8 262.2,543.8 262.2,543.1 262.3,542.6 262.3,541.8 262.3,541.5 262.3,540.4 262.3,539.5 262.4,539.4 262.4,538.6 262.4,538.6 262.4,537.5 262.5,536.8 262.5,535.9 262.5,535.7 262.5,535.2 262.6,534.7 262.6,533.9 262.6,533.4 262.6,532.8 262.6,532.2 262.7,531.8 262.7,531.6 262.7,530.3 262.7,530.0 262.8,529.5 262.8,528.6 262.8,528.2 262.8,527.6 262.8,526.4 262.9,526.1 262.9,525.6 262.9,525.0 262.9,524.4 263.0,523.5 263.0,523.1 263.0,522.7 263.0,521.3 263.1,521.1 263.1,520.7 263.1,519.9 263.1,519.4 263.1,518.8 263.2,518.7 263.2,517.7 263.2,517.2 263.2,516.6 263.3,515.6 263.3,514.8 263.3,514.7 263.3,514.0 263.3,513.8 263.4,513.7 263.4,512.3 263.4,512.1 263.4,511.5 263.5,510.8 263.5,510.2 263.5,509.1 263.5,508.1 263.6,507.9 263.6,506.6 263.6,506.5 263.6,506.2 263.6,505.8 263.7,504.6 263.7,504.7 263.7,503.6 263.7,503.1 263.8,502.9 263.8,502.0 263.8,501.3 264.0,500.5 264.2,500.5 264.3,499.4 264.5,498.4 264.7,498.2 264.9,497.6 265.0,496.9 265.2,496.4 265.4,496.0 265.6,495.5 265.7,494.9 265.9,494.6 266.1,493.9 266.2,492.8 266.4,492.0 266.6,491.9 266.8,491.4 267.0,490.4 267.1,490.4 267.3,490.0 267.5,488.7 267.7,488.1 267.8,487.5 268.0,486.8 268.2,486.6 268.4,486.3 268.5,485.8 268.7,485.3 268.9,485.1 269.1,484.5 269.2,483.9 269.4,482.7 269.6,481.8 269.8,481.2 269.9,481.1 270.1,480.4 270.5,480.0 271.0,479.5 271.4,478.8 271.9,478.0 272.3,477.4 272.8,477.0 273.2,476.9 273.6,477.0 274.1,476.4 274.5,475.9 275.0,475.8 275.4,475.3 275.8,474.3 276.3,473.6 276.7,473.5 277.2,473.1 277.6,472.4 278.1,472.5 278.5,471.8 279.1,471.9 279.7,471.6 280.3,471.0 280.9,471.3 281.5,470.9 282.1,470.9 282.7,470.7 283.3,470.4 283.9,470.5 284.5,470.4 285.2,469.7 285.8,469.5 286.4,469.5 287.0,469.6 287.6,469.5 288.2,469.3 288.8,469.3 289.4,469.6 290.0,469.3 290.6,468.7 291.2,468.2 291.8,468.2 292.4,468.6 292.9,468.8 293.5,469.0 294.1,468.9 294.7,469.0 295.3,469.4 295.9,469.7 296.4,470.0 297.0,470.9 297.6,469.9 298.2,470.2 298.8,471.3 299.4,471.2 299.9,470.8 300.5,471.1 301.1,471.2 301.7,471.8 302.1,471.6 302.5,472.6 302.9,472.8 303.2,473.2 303.6,474.5 304.0,475.0 304.4,475.4 304.8,475.9 305.2,476.5 305.6,476.7 305.9,477.0 306.3,478.1 306.7,477.9 307.1,478.4 307.5,478.5 307.9,479.4 308.3,479.7 308.7,480.5 309.0,480.7 309.4,480.8 309.8,481.4 310.2,481.9 310.4,482.6 310.7,483.2 310.9,483.9 311.2,484.0 311.4,485.2 311.7,484.5 311.9,486.1 312.2,486.5 312.4,486.9 312.7,488.3 312.9,488.7 313.2,489.1 313.4,489.2 313.7,489.5 313.9,491.1 314.1,490.9 314.4,491.7 314.6,492.1 314.9,493.0 315.1,493.3 315.4,493.5 315.6,494.8 315.9,495.3 316.1,495.7 316.4,496.2 316.6,496.7 316.9,497.5 317.1,497.9 317.4,498.3 317.6,499.2" fill="none" stroke="#000" stroke-width="1.5" stroke-linejoin="round"/>
<path d="M72.8,586.8 73.4,587.2 74.0,586.7 74.6,586.7 75.2,586.7 75.8,587.0 76.4,586.9 77.0,586.8 77.6,586.7 78.2,587.2 78.8,587.2 79.4,587.4 80.0,586.7 80.6,586.6 81.2,586.6 81.8,586.8 82.5,587.0 83.1,587.0 83.7,586.9 84.3,587.7 84.9,587.8 85.5,587.3 86.1,587.0 86.7,587.1 87.3,587.3 87.9,587.4 88.5,587.6 89.1,587.5 89.7,587.7 90.3,588.2 90.9,587.5 91.5,587.9 92.1,587.8 92.7,588.0 93.3,587.3 93.9,587.6 94.5,587.9 95.1,587.9 95.7,588.3 96.3,588.2 96.9,588.0 97.5,587.9 98.1,587.8 98.7,587.2 99.3,587.5 99.9,587.4 100.6,587.9 101.2,587.9 101.8,587.9 102.4,587.5 103.0,587.7 103.6,588.8 104.2,588.8 104.8,588.0 105.4,588.2 106.0,588.6 106.6,588.6 107.2,588.6 107.8,588.6 108.4,588.6 109.0,588.2 109.6,587.7 110.2,587.5 110.8,588.0 111.4,589.0 112.0,588.4 112.6,588.5 113.2,588.9 113.8,589.0 114.4,589.0 115.0,588.9 115.6,588.2 116.2,588.4 116.8,587.9 117.4,588.2 118.0,588.2 118.6,588.7 119.3,588.1 119.9,588.5 120.5,588.8 121.1,589.1 121.7,589.4 122.3,589.3 122.9,589.9 123.5,588.7 124.1,588.7 124.7,588.9 125.3,589.1 125.9,588.9 126.5,589.4 127.1,588.8 127.7,589.0 128.3,588.4 128.5,588.4 128.7,588.2 129.0,586.7 129.2,586.3 129.4,585.3 129.5,585.0 129.7,584.0 129.8,583.9 129.9,583.2 130.1,582.4 130.2,582.1 130.4,581.7 130.5,581.4 130.6,580.5 130.8,579.6 130.9,578.5 131.0,577.8 131.2,577.7 131.3,577.2 131.4,576.3 131.6,576.0 131.7,575.7 131.9,574.8 132.0,574.3 132.1,573.7 132.3,573.3 132.4,572.0 132.6,571.3 132.9,570.8 133.1,570.6 133.4,569.8 133.6,569.4 133.9,568.7 134.1,568.1 134.4,568.2 134.6,567.4 134.8,566.2 135.1,565.6 135.3,565.1 135.6,564.5 135.8,564.2 136.1,563.2 136.3,563.0 136.6,562.7 136.8,561.9 137.2,561.0 137.6,560.5 138.0,560.3 138.4,560.1 138.9,559.2 139.3,559.1 139.7,558.5 140.1,558.7 140.5,557.6 140.9,557.7 141.3,556.9 141.7,556.8 142.1,556.2 142.6,555.4 143.0,555.1 143.4,554.6 143.8,554.2 144.2,553.7 144.8,553.6 145.4,554.2 146.0,554.2 146.6,553.9 147.2,554.1 147.8,554.0 148.4,554.2 149.0,554.1 149.7,554.7 150.3,555.1 150.9,555.1 151.5,555.3 152.1,555.2 152.7,555.4 153.3,555.7 153.9,555.6 154.5,556.2 155.1,556.0 155.8,556.4 156.4,556.5 157.0,556.4 157.6,555.9 158.3,556.1 158.9,555.9 159.5,555.9 160.1,556.3 160.8,555.9 161.4,557.2 162.0,556.5 162.6,555.7 163.3,555.8 163.9,555.4 164.5,555.7 165.1,556.2 165.8,556.1 166.4,556.1 166.9,556.4 167.4,556.8 167.9,556.8 168.3,557.6 168.8,558.1 169.3,558.4 169.8,559.2 170.3,559.3 170.8,559.5 171.3,559.8 171.8,560.0 172.2,560.3 172.7,560.8 173.2,561.7 173.7,561.7 174.1,562.4 174.6,562.5 175.0,563.2 175.4,563.6 175.9,563.9 176.3,564.8 176.7,565.2 177.2,565.7 177.6,566.0 178.1,565.9 178.5,566.2 178.9,567.2 179.4,567.1 179.8,568.0 180.2,568.2 180.7,568.5 181.1,568.8 181.6,569.0 182.0,569.7 182.5,570.7 182.9,571.5 183.4,571.5 183.8,571.4 184.3,572.2 184.7,572.9 185.2,573.0 185.6,573.4 186.1,574.3 186.5,574.9 187.0,575.6 187.5,575.6 187.9,576.1 188.4,576.7 188.9,576.8 189.3,577.2 189.8,578.1 190.3,577.9 190.7,577.8 191.2,578.6 191.7,578.7 192.2,579.4 192.6,579.9 193.1,580.4 193.6,580.5 194.0,581.5 194.5,581.2 195.0,581.9 195.4,582.1 195.9,582.5 196.5,583.0 197.1,582.9 197.7,583.8 198.3,583.7 198.8,583.5 199.4,583.7 200.0,584.4 200.6,584.5 201.2,584.3 201.8,584.3 202.4,584.5 203.0,585.2 203.6,585.5 204.2,585.5 204.8,585.5 205.3,585.9 205.9,586.1 206.5,586.2 207.1,586.3 207.7,586.9 208.3,586.8 208.9,586.3 209.5,586.0 210.1,586.7 210.7,586.5 211.3,586.5 212.0,586.3 212.6,586.6 213.2,586.1 213.8,586.8 214.4,586.2 215.0,585.9 215.6,586.4 216.2,586.7 216.8,586.8 217.4,586.4 218.0,586.4 218.6,587.1 219.2,586.8 219.8,586.9 220.5,587.1 221.1,586.8 221.7,586.6 222.3,587.2 222.9,587.5 223.5,587.1 224.1,587.2 224.7,587.9 225.3,587.9 225.9,587.5 226.5,587.8 227.1,587.6 227.7,587.3 228.4,587.1 229.0,587.5 229.6,587.6 230.2,587.5 230.8,587.5 231.4,587.9 232.0,588.0 232.6,587.4 233.2,588.1 233.8,588.5 234.4,588.4 235.0,588.5 235.6,588.6 236.2,588.4 236.9,588.1 237.5,588.0 238.1,588.5 238.7,588.4 239.3,587.9 239.9,588.5 240.5,588.8 241.1,588.6 241.7,588.7 242.3,588.9 243.0,588.2 243.6,587.9 244.2,588.0 244.8,588.0 245.4,588.0 246.0,587.9 246.6,587.5 247.2,587.4 247.9,587.6 248.5,587.8 249.1,587.7 249.7,587.3 250.3,587.1 250.9,587.2 251.5,586.5 252.1,586.9 252.8,586.6 253.4,586.7 254.0,586.7 254.6,586.3 255.2,586.1 255.8,586.5 256.4,586.5 257.0,585.9 257.7,586.3 258.3,586.2 258.9,585.6 259.5,586.6 259.6,585.6 259.7,585.1 259.8,583.9 259.9,583.5 260.0,583.0 260.1,582.3 260.2,581.7 260.3,580.9 260.4,581.1 260.5,579.8 260.6,579.4 260.7,578.7 260.8,578.3 260.9,577.3 261.0,577.5 261.1,576.1 261.2,575.9 261.3,575.2 261.4,574.1 261.5,573.5 261.6,573.4 261.7,572.9 261.8,572.8 261.9,571.9 262.0,571.1 262.1,569.9 262.2,569.5 262.3,569.5 262.4,568.7 262.5,567.6 262.6,567.5 262.7,566.9 262.8,565.7 262.9,565.5 263.0,564.9 263.1,564.0 263.2,563.5 263.3,563.3 263.4,562.3 263.5,561.7 263.6,561.0 263.7,560.1 263.8,559.8 263.8,559.1 263.8,559.1 263.9,558.8 263.9,557.8 263.9,557.5 263.9,556.7 263.9,556.1 263.9,555.0 264.0,554.3 264.0,553.8 264.0,552.8 264.0,552.8 264.0,552.1 264.1,550.9 264.1,551.1 264.1,550.9 264.1,549.2 264.1,548.7 264.1,548.1 264.2,547.4 264.2,546.9 264.2,546.3 264.2,545.8 264.2,545.2 264.3,544.2 264.3,543.9 264.3,543.0 264.3,543.1 264.3,542.2 264.3,542.2 264.4,541.7 264.4,540.1 264.4,540.2 264.4,539.5 264.4,539.1 264.5,537.9 264.5,537.7 264.5,536.8 264.5,536.3 264.5,535.5 264.5,535.2 264.6,534.6 264.6,533.5 264.6,533.2 264.6,532.3 264.6,532.4 264.7,531.0 264.7,530.4 264.7,529.8 264.7,529.5 264.7,529.1 264.7,528.9 264.8,528.0 264.8,527.4 264.8,527.1 265.0,525.9 265.2,525.6 265.4,524.5 265.6,524.1 265.8,524.0 266.0,523.6 266.2,522.9 266.4,522.1 266.6,522.0 266.8,520.9 267.0,520.7 267.2,520.0 267.4,519.3 267.6,518.8 267.8,518.5 268.0,517.3 268.2,517.0 268.4,516.5 268.6,515.7 268.8,515.6 269.0,514.4 269.2,513.8 269.4,513.0 269.6,512.7 269.8,511.6 270.0,511.8 270.2,511.0 270.4,510.6 270.6,509.9 270.8,509.6 271.0,509.2 271.2,508.2 271.4,507.3 271.6,507.2 271.8,506.5 272.0,506.0 272.2,505.6 272.6,505.1 273.0,504.6 273.4,504.0 273.8,503.3 274.2,503.2 274.6,503.0 275.0,502.0 275.4,501.5 275.7,500.9 276.1,500.9 276.5,500.2 276.9,499.9 277.3,499.7 277.7,499.2 278.1,498.5 278.5,498.2 279.0,498.1 279.6,498.7 280.1,499.1 280.7,499.0 281.2,499.9 281.8,500.0 282.3,500.0 282.9,500.2 283.4,500.5 284.0,500.7 284.5,501.5 285.1,501.6 285.6,501.3 286.2,501.7 286.7,502.5 287.3,503.7 287.8,503.5 288.4,503.5 288.9,503.6 289.5,503.2 290.0,503.3 290.6,504.0 291.1,504.1 291.7,504.2 292.2,504.6 292.8,504.8 293.3,504.8 293.8,505.4 294.4,505.8 294.9,506.6 295.4,507.3 295.9,507.4 296.4,507.8 297.0,507.7 297.5,509.1 298.0,508.2 298.6,509.2 299.1,509.6 299.6,510.1 300.1,509.6 300.7,510.2 301.2,509.9 301.7,510.2 302.2,510.6 302.8,511.5 303.3,511.0 303.8,511.7 304.2,512.2 304.6,512.7 305.1,513.0 305.5,513.2 305.9,513.8 306.3,514.6 306.7,515.3 307.1,515.1 307.6,515.8 308.0,516.5 308.4,516.6 308.8,517.5 309.2,517.5 309.7,518.4 310.1,518.9 310.5,519.4 310.9,519.7 311.3,519.9 311.7,520.7 312.2,520.6 312.6,520.8 313.0,521.9 313.4,522.1 313.8,522.5 314.3,523.5 314.7,524.3 315.1,523.9 315.5,523.9 315.9,524.3 316.3,524.9 316.8,525.4 317.2,526.0 317.6,526.6" fill="none" stroke="#000" stroke-width="1.5" stroke-linejoin="round"/>
<text x="347.00" y="348.00" font-size="20" text-anchor="start" font-weight="bold" font-style="normal" style="letter-spacing:0">d</text>
<line x1="421.90" y1="357.50" x2="421.90" y2="594.80" stroke="#000" stroke-width="1.3"/>
<line x1="415.40" y1="594.80" x2="421.90" y2="594.80" stroke="#000" stroke-width="1.3"/>
<line x1="415.40" y1="515.70" x2="421.90" y2="515.70" stroke="#000" stroke-width="1.3"/>
<line x1="415.40" y1="436.60" x2="421.90" y2="436.60" stroke="#000" stroke-width="1.3"/>
<line x1="415.40" y1="357.50" x2="421.90" y2="357.50" stroke="#000" stroke-width="1.3"/>
<line x1="417.90" y1="555.25" x2="421.90" y2="555.25" stroke="#000" stroke-width="1.3"/>
<line x1="417.90" y1="476.15" x2="421.90" y2="476.15" stroke="#000" stroke-width="1.3"/>
<line x1="417.90" y1="397.05" x2="421.90" y2="397.05" stroke="#000" stroke-width="1.3"/>
<text x="411.60" y="599.70" font-size="14" text-anchor="end" font-weight="normal" font-style="normal" >0</text>
<text x="411.60" y="520.60" font-size="14" text-anchor="end" font-weight="normal" font-style="normal" >1</text>
<text x="411.60" y="441.50" font-size="14" text-anchor="end" font-weight="normal" font-style="normal" >2</text>
<text x="411.60" y="362.40" font-size="14" text-anchor="end" font-weight="normal" font-style="normal" >3</text>
<text transform="translate(387.00,480.20) rotate(-90)" font-size="14" text-anchor="middle">[Ca<tspan font-size="10" dy="-5.5">2+</tspan><tspan dy="5.5">] (μM)</tspan></text>
<line x1="433.80" y1="379.00" x2="467.80" y2="379.00" stroke="#000" stroke-width="1.3"/>
<text x="474.90" y="384.20" font-size="14" text-anchor="start" font-weight="normal" font-style="normal" >GSK(+)</text>
<line x1="433.80" y1="397.40" x2="467.80" y2="397.40" stroke="#f00000" stroke-width="1.3"/>
<text x="474.90" y="402.60" font-size="14" text-anchor="start" font-weight="normal" font-style="normal" >GSK(–)</text>
<line x1="460.80" y1="545.00" x2="519.70" y2="545.00" stroke="#000" stroke-width="2.5"/>
<text x="488.80" y="532.50" font-size="14" text-anchor="middle" font-weight="normal" font-style="normal" >LPS + PMB</text>
<line x1="603.30" y1="374.40" x2="634.40" y2="374.40" stroke="#000" stroke-width="2.5"/>
<text x="618.60" y="366.00" font-size="14" text-anchor="middle" font-weight="normal" font-style="normal" >GSK + PMB</text>
<line x1="615.80" y1="597.20" x2="654.80" y2="597.20" stroke="#000" stroke-width="2"/>
<text x="634.60" y="617.70" font-size="14" text-anchor="middle" font-weight="normal" font-style="normal" >2 min</text>
<path d="M424.4,587.7 425.0,587.5 425.6,587.5 426.2,587.9 426.8,588.1 427.4,588.0 428.0,588.3 428.6,588.1 429.2,587.9 429.8,588.0 430.4,588.0 431.0,587.9 431.6,588.0 432.2,587.9 432.8,587.7 433.4,588.0 434.0,587.8 434.6,587.9 435.2,588.4 435.8,588.4 436.4,588.4 437.0,588.2 437.6,588.1 438.2,588.1 438.8,587.1 439.4,587.6 440.0,587.5 440.6,587.8 441.2,588.0 441.8,587.8 442.4,587.7 443.0,587.8 443.6,587.7 444.2,587.8 444.8,587.8 445.4,588.2 446.0,588.4 446.6,588.4 447.2,588.1 447.8,588.3 448.4,588.2 449.0,588.3 449.6,588.1 450.2,587.8 450.8,588.0 451.4,588.0 452.0,588.4 452.6,588.0 453.2,587.9 453.8,588.1 454.4,588.2 455.0,588.3 455.6,588.1 456.2,588.2 456.8,588.3 457.4,588.2 458.0,588.2 458.6,588.1 459.2,588.0 459.8,587.6 460.4,588.1 461.0,588.2 461.6,588.4 462.2,588.0 462.8,588.0 463.4,588.4 464.0,588.8 464.6,588.6 465.2,588.1 465.8,588.9 466.4,588.3 467.0,588.2 467.6,587.9 468.2,588.0 468.8,588.3 469.4,588.0 470.0,588.3 470.6,588.6 471.2,588.7 471.8,588.2 472.4,588.2 473.0,588.4 473.6,587.9 474.2,588.1 474.8,588.4 475.4,588.2 476.0,588.2 476.6,588.5 477.2,588.6 477.8,588.3 478.4,588.1 479.0,588.4 479.6,588.2 480.2,588.3 480.8,588.4 481.4,588.3 482.0,588.0 482.6,588.2 483.2,588.2 483.8,588.4 484.4,588.4 485.0,588.6 485.6,589.0 486.2,588.4 486.8,588.5 487.4,588.0 488.0,588.0 488.6,588.6 489.2,588.6 489.8,588.1 490.4,588.5 491.0,588.6 491.6,588.5 492.2,588.6 492.8,588.5 493.4,588.7 494.0,588.7 494.6,588.4 495.2,588.9 495.8,588.6 496.4,588.7 497.0,588.6 497.6,588.5 498.2,588.7 498.8,588.8 499.4,588.8 500.0,588.4 500.6,588.3 501.2,588.4 501.8,588.7 502.4,588.7 503.0,588.5 503.6,588.6 504.2,588.1 504.8,588.6 505.4,588.5 506.0,588.5 506.6,588.3 507.2,588.6 507.8,588.2 508.4,588.4 509.0,588.6 509.6,588.5 510.2,588.5 510.8,588.7 511.4,588.4 512.0,588.9 512.7,588.4 513.3,588.3 513.9,588.3 514.5,588.3 515.1,588.2 515.7,588.5 516.3,588.8 516.9,588.6 517.5,588.7 518.1,588.9 518.7,588.5 519.3,588.6 519.9,588.6 520.5,588.8 521.1,588.4 521.7,588.0 522.3,588.3 522.9,588.4 523.5,588.5 524.1,588.5 524.7,588.5 525.3,588.1 525.9,588.2 526.5,588.3 527.1,588.5 527.7,588.5 528.3,588.5 528.9,588.4 529.5,589.1 530.1,588.7 530.7,588.3 531.3,588.5 531.9,588.5 532.5,588.6 533.1,588.4 533.7,588.5 534.3,588.5 534.9,588.2 535.5,588.1 536.1,588.1 536.7,588.7 537.3,588.7 538.0,588.5 538.6,588.4 539.2,588.4 539.8,588.5 540.4,588.5 541.0,588.3 541.6,588.4 542.2,588.4 542.8,588.4 543.4,588.6 544.0,588.3 544.6,588.4 545.2,588.1 545.8,588.3 546.4,588.1 547.0,588.1 547.6,588.2 548.2,588.4 548.8,588.6 549.4,588.2 550.0,588.3 550.6,588.5 551.2,588.4 551.8,588.4 552.4,588.5 553.0,588.4 553.6,588.6 554.2,588.4 554.8,588.3 555.4,588.6 556.0,588.9 556.6,588.6 557.2,589.0 557.8,588.6 558.4,588.5 559.0,588.7 559.6,588.4 560.2,588.5 560.8,588.4 561.4,588.3 562.0,588.5 562.7,588.3 563.3,588.6 563.9,588.9 564.5,588.4 565.1,588.2 565.7,588.5 566.3,588.6 566.9,588.6 567.5,588.4 568.1,588.0 568.7,588.4 569.3,588.2 569.9,587.9 570.5,588.1 571.1,588.1 571.7,588.6 572.3,588.5 572.9,588.8 573.5,588.3 574.1,588.3 574.7,588.3 575.3,588.6 575.9,588.4 576.5,588.0 577.1,587.8 577.7,587.8 578.3,588.1 578.9,587.9 579.5,588.0 580.1,587.9 580.7,588.3 581.3,588.3 581.9,588.1 582.5,588.5 583.1,588.4 583.7,588.4 584.3,588.1 584.9,587.9 585.5,588.3 586.1,588.1 586.7,588.7 587.3,588.1 588.0,588.0 588.6,588.7 589.2,588.2 589.8,588.5 590.4,588.4 591.0,588.2 591.6,588.5 592.2,588.5 592.8,588.4 593.4,588.6 594.0,588.5 594.6,588.9 595.2,588.8 595.8,588.8 596.4,588.7 597.0,588.3 597.6,588.7 598.2,588.4 598.8,588.6 599.4,588.3 600.0,588.3 600.6,588.3 601.2,588.4 601.8,588.5 602.4,588.1 603.0,587.9 603.6,588.2 604.2,588.7 604.8,588.7 605.4,588.5 606.0,588.4 606.6,588.1 607.2,588.4 607.8,588.5 608.4,588.7 609.0,588.5 609.6,587.8 610.2,588.2 610.8,588.8 611.4,588.2 612.0,588.3 612.6,588.0 613.2,588.4 613.8,588.3 614.4,587.9 615.0,588.2 615.6,588.3 616.2,587.9 616.8,588.2 617.4,588.2 618.0,587.7 618.6,588.1 619.2,588.1 619.8,587.9 620.4,588.4 621.0,588.0 621.6,588.3 622.2,588.5 622.8,588.2 623.4,587.9 624.0,588.1 624.6,588.2 625.2,588.0 625.8,588.2 626.4,588.3 627.0,588.3 627.6,588.4 628.2,588.5 628.8,588.6 629.4,588.0 630.0,588.1 630.6,588.5 631.2,588.6 631.8,588.6 632.4,587.5 633.0,587.8 633.6,588.1 634.2,588.2 634.8,588.2 635.4,588.6 636.1,588.1 636.7,588.1 637.3,588.1 637.9,587.8 638.5,588.4 639.1,588.3 639.7,588.7 640.3,588.6 640.9,588.3 641.5,588.2 642.1,588.2 642.7,588.1 643.3,588.5 643.9,588.1 644.5,588.4 645.1,587.8 645.7,587.8 646.3,587.8 646.9,588.0 647.5,588.0 648.1,588.1 648.7,588.1 649.3,588.2 649.9,588.1 650.5,588.0 651.1,588.1 651.7,587.7 652.3,588.1 652.9,587.5 653.5,587.7 654.1,588.0 654.7,587.8 655.3,587.9 655.9,587.8 656.5,587.9 657.1,588.0 657.7,587.9 658.3,587.9 658.9,588.1 659.5,588.0 660.1,587.8 660.7,588.6 661.3,588.1 661.9,588.5 662.5,588.2 663.1,588.2 663.7,588.0 664.3,588.0 664.9,588.1 665.5,588.1 666.1,587.8 666.7,588.1 667.3,587.9 667.9,588.2 668.5,588.0 669.1,587.7 669.7,587.7 670.3,587.7 670.9,588.3 671.5,588.0" fill="none" stroke="#f00000" stroke-width="1.3" stroke-linejoin="round"/>
<path d="M424.4,564.3 425.0,564.1 425.6,564.6 426.2,565.0 426.8,565.1 427.4,564.8 428.0,565.2 428.6,564.9 429.2,564.9 429.8,565.6 430.4,565.4 431.0,565.9 431.6,565.2 432.2,565.7 432.8,565.6 433.4,566.0 434.0,565.9 434.6,566.1 435.2,566.0 435.8,566.4 436.4,566.6 437.0,567.1 437.6,566.5 438.2,566.9 438.8,566.8 439.4,566.7 440.0,566.8 440.6,567.0 441.2,567.3 441.8,567.4 442.4,567.2 443.0,567.1 443.6,567.0 444.2,566.9 444.9,566.9 445.5,567.5 446.1,567.5 446.7,567.4 447.3,567.3 447.9,567.5 448.5,567.5 449.1,567.7 449.7,567.5 450.3,567.6 450.9,567.8 451.5,568.4 452.1,567.6 452.7,567.7 453.4,567.7 454.0,567.9 454.6,568.2 455.2,568.0 455.8,568.5 456.4,568.4 457.0,568.6 457.6,568.5 458.2,568.6 458.8,568.4 459.4,568.6 460.0,568.7 460.6,568.6 461.2,568.5 461.8,568.4 462.5,569.1 463.1,568.7 463.7,568.5 464.3,568.9 464.9,568.6 465.5,568.9 466.1,569.2 466.7,568.9 467.3,569.2 467.9,569.2 468.5,569.1 469.1,568.8 469.7,568.9 470.3,569.2 470.9,569.1 471.5,569.4 472.1,568.9 472.7,568.8 473.3,569.3 473.9,569.4 474.5,569.5 475.1,568.7 475.7,569.3 476.3,569.2 476.9,569.1 477.5,569.0 478.1,569.5 478.7,568.8 479.3,569.3 479.9,568.9 480.5,568.5 481.1,568.8 481.7,568.9 482.3,569.0 482.9,569.0 483.5,569.0 484.1,568.6 484.7,568.9 485.3,569.0 485.9,568.4 486.5,568.0 487.1,568.4 487.8,568.3 488.4,568.4 489.0,568.2 489.6,568.4 490.2,568.8 490.8,569.0 491.4,568.7 492.0,568.1 492.6,568.4 493.2,568.5 493.8,568.4 494.4,568.6 495.0,568.0 495.6,568.9 496.2,568.6 496.8,568.3 497.4,568.1 498.0,568.0 498.6,568.0 499.2,568.0 499.8,568.2 500.4,568.3 501.0,568.5 501.6,568.2 502.2,568.3 502.8,568.2 503.4,568.2 504.0,567.9 504.6,568.7 505.2,567.9 505.8,568.0 506.4,568.2 507.0,568.3 507.6,568.0 508.2,567.4 508.8,567.3 509.4,567.5 510.0,567.1 510.6,567.5 511.2,567.7 511.8,567.7 512.4,568.1 513.0,567.6 513.6,567.4 514.2,567.6 514.8,567.8 515.4,567.9 516.0,568.3 516.6,568.1 517.2,567.7 517.8,567.3 518.4,567.0 519.0,567.0 519.6,567.0 520.2,567.2 520.8,567.2 521.4,567.2 522.0,567.0 522.6,567.2 523.2,567.2 523.8,567.1 524.4,567.0 525.0,567.0 525.6,567.1 526.2,567.4 526.8,567.2 527.4,567.3 528.0,566.9 528.6,567.1 529.2,567.1 529.8,567.1 530.4,566.8 531.0,566.8 531.6,566.6 532.2,566.4 532.8,566.4 533.4,566.7 534.0,566.8 534.6,566.5 535.2,566.4 535.8,566.5 536.4,566.6 537.0,566.2 537.6,566.5 538.2,566.3 538.8,566.5 539.4,566.9 540.0,566.6 540.6,566.2 541.2,566.2 541.8,566.1 542.4,566.0 543.0,565.9 543.6,566.3 544.2,565.9 544.8,566.0 545.4,566.1 546.0,565.6 546.6,565.7 547.2,565.5 547.8,565.5 548.4,565.9 549.0,565.5 549.6,565.6 550.2,565.7 550.8,565.4 551.4,565.4 552.0,565.0 552.6,565.7 553.2,565.1 553.8,565.5 554.4,565.3 555.0,565.5 555.6,565.2 556.2,565.2 556.8,565.0 557.4,564.8 558.0,564.9 558.6,564.5 559.2,564.4 559.8,565.4 560.4,564.9 561.0,564.4 561.6,564.4 562.2,564.2 562.8,564.3 563.4,564.6 564.0,564.7 564.6,564.5 565.2,564.4 565.8,564.3 566.4,564.3 567.0,563.4 567.2,563.5 567.3,562.8 567.5,562.4 567.7,563.0 567.8,563.3 568.0,563.9 568.6,563.9 569.2,563.6 569.8,564.0 570.4,563.4 571.0,563.3 571.6,563.8 572.2,563.4 572.8,563.3 573.4,563.0 574.0,563.5 574.6,563.2 575.2,562.5 575.8,562.8 576.4,562.6 577.0,562.7 577.6,562.8 578.2,562.1 578.8,562.5 579.4,562.3 580.0,561.9 580.6,561.5 581.2,561.5 581.8,561.6 582.4,561.5 583.0,561.8 583.6,561.7 584.2,561.8 584.8,561.3 585.4,561.4 586.0,561.5 586.6,560.9 587.2,561.1 587.8,561.7 588.4,561.8 589.0,561.3 589.6,561.0 590.2,561.3 590.8,561.3 591.4,561.2 592.0,561.2 592.6,560.9 593.2,561.2 593.8,561.0 594.4,561.1 595.0,561.1 595.6,561.1 596.2,560.8 596.8,561.0 597.4,561.2 598.0,560.7 598.6,561.0 599.2,560.8 599.8,560.7 600.4,560.6 601.0,560.2 601.6,559.9 602.2,560.4 602.8,560.2 603.4,560.2 604.0,560.7 604.6,560.5 605.2,560.6 605.8,560.3 606.4,559.8 607.0,559.5 607.2,558.5 607.4,558.1 607.6,557.9 607.8,556.7 608.1,556.6 608.3,555.8 608.5,555.0 608.7,554.9 608.9,554.1 609.1,553.7 609.3,553.1 609.5,552.6 609.8,552.2 610.0,550.9 610.2,550.9 610.4,550.0 610.6,549.6 610.6,548.9 610.7,548.6 610.7,548.2 610.7,547.0 610.7,546.3 610.8,546.0 610.8,545.1 610.8,545.0 610.8,543.8 610.9,543.5 610.9,542.5 610.9,542.5 611.0,541.8 611.0,541.0 611.0,540.2 611.0,539.5 611.1,539.1 611.1,538.5 611.1,537.9 611.1,537.0 611.2,536.5 611.2,536.2 611.2,535.5 611.2,535.2 611.3,534.4 611.3,534.0 611.3,533.2 611.4,532.7 611.4,532.3 611.4,532.0 611.4,531.2 611.5,530.7 611.5,529.4 611.5,528.7 611.5,528.2 611.6,527.8 611.6,526.8 611.6,526.1 611.7,525.2 611.7,525.2 611.7,525.1 611.7,524.3 611.8,523.8 611.8,522.6 611.8,522.6 611.8,521.6 611.9,521.0 611.9,520.5 611.9,520.0 612.0,519.5 612.0,518.7 612.0,518.1 612.0,517.4 612.1,517.1 612.1,516.2 612.1,515.4 612.1,514.7 612.2,514.5 612.2,513.7 612.2,513.5 612.2,512.5 612.3,512.3 612.3,511.6 612.3,511.3 612.4,510.1 612.4,509.5 612.4,509.2 612.4,508.5 612.5,508.2 612.5,507.1 612.5,506.7 612.5,506.0 612.6,505.3 612.6,504.9 612.6,504.3 612.7,504.0 612.7,503.1 612.7,502.5 612.7,501.7 612.8,500.8 612.8,501.3 612.8,500.4 612.8,499.2 612.9,499.0 612.9,498.0 612.9,497.5 612.9,497.4 613.0,496.7 613.0,495.7 613.0,495.5 613.1,494.8 613.1,493.9 613.1,493.8 613.1,492.5 613.2,492.2 613.2,491.9 613.2,490.5 613.2,490.2 613.3,489.3 613.3,489.1 613.3,489.0 613.4,487.9 613.4,487.4 613.4,487.2 613.4,486.3 613.5,485.9 613.5,485.2 613.5,484.5 613.5,483.8 613.6,483.4 613.6,483.1 613.6,482.2 613.7,481.5 613.7,481.2 613.7,480.5 613.7,480.0 613.8,479.0 613.8,478.2 613.8,478.1 613.8,477.4 613.9,476.8 613.9,476.1 613.9,475.9 613.9,475.1 614.0,474.5 614.0,474.1 614.0,473.5 614.1,472.7 614.1,472.0 614.1,471.4 614.1,471.0 614.2,469.9 614.2,469.5 614.2,468.8 614.2,468.3 614.3,467.7 614.3,467.0 614.3,466.7 614.3,465.7 614.4,465.1 614.4,464.5 614.4,463.9 614.4,463.3 614.5,462.6 614.5,462.4 614.5,461.6 614.5,461.2 614.6,460.3 614.6,459.6 614.6,459.3 614.6,458.6 614.6,458.3 614.7,457.9 614.7,456.8 614.7,456.3 614.7,455.1 614.8,454.6 614.8,454.0 614.8,453.9 614.8,453.4 614.8,452.7 614.9,452.1 614.9,451.6 614.9,450.7 614.9,450.1 615.0,449.5 615.0,448.9 615.0,448.6 615.0,448.0 615.1,446.9 615.1,446.1 615.1,445.2 615.1,445.1 615.1,444.4 615.2,444.3 615.2,443.4 615.2,443.4 615.2,442.6 615.3,441.7 615.3,441.7 615.3,441.1 615.3,439.8 615.4,439.7 615.4,438.6 615.4,437.8 615.4,437.5 615.4,436.9 615.5,436.3 615.5,436.2 615.5,435.4 615.5,435.1 615.6,434.5 615.6,433.2 615.6,433.3 615.6,431.4 615.6,431.7 615.7,430.7 615.7,430.7 615.7,430.0 615.7,429.8 615.8,429.0 615.8,428.5 615.8,427.6 615.8,427.2 615.9,426.6 615.9,426.4 615.9,425.2 615.9,424.9 615.9,423.9 616.0,423.2 616.0,422.8 616.0,421.6 616.0,421.8 616.1,421.2 616.1,420.4 616.1,419.5 616.1,418.8 616.2,418.4 616.2,418.2 616.2,417.3 616.2,416.7 616.2,416.3 616.3,415.2 616.3,414.7 616.3,414.7 616.3,414.2 616.4,413.2 616.4,412.0 616.4,411.5 616.4,410.8 616.4,410.9 616.5,410.6 616.5,409.5 616.5,409.2 616.5,408.1 616.6,407.7 616.6,406.6 616.6,406.2 616.6,405.8 616.7,404.5 616.7,404.4 616.7,404.1 617.2,402.9 617.6,400.0 618.0,403.3 618.5,401.0 619.0,401.0 619.4,400.8 619.8,400.9 620.3,398.8 620.5,398.5 620.8,401.7 621.0,399.3 621.3,401.1 621.5,401.3 621.8,401.5 622.0,401.9 622.3,406.0 622.5,405.9 622.8,409.2 623.0,407.5 623.3,409.4 623.5,408.6 623.8,407.2 624.0,407.7 624.3,410.3 624.5,411.7 624.8,411.1 625.1,410.0 625.3,413.6 625.6,413.9 625.9,413.1 626.1,413.0 626.4,413.1 626.5,412.4 626.7,412.8 626.9,411.3 627.0,409.9 627.1,411.4 627.3,411.8 627.4,409.5 627.6,409.9 627.8,406.2 627.9,408.2 628.0,406.8 628.2,406.1 628.3,404.7 628.5,408.8 628.6,404.2 628.8,404.3 629.0,403.0 629.2,401.6 629.4,403.3 629.6,403.0 629.8,400.0 630.0,400.3 630.2,398.0 630.4,397.7 630.6,396.6 630.8,397.0 631.0,394.3 631.2,395.7 631.3,393.3 631.5,396.3 631.7,392.0 631.9,394.0 632.1,395.9 632.3,395.3 632.5,394.3 632.7,391.9 632.9,388.7 633.1,389.5 633.3,387.5 633.5,387.8 633.7,388.4 634.1,388.5 634.5,389.2 635.0,390.9 635.4,389.3 635.8,393.2 636.2,392.6 636.7,394.5 637.1,392.1 637.5,394.5 637.9,391.1 638.4,393.0 638.8,394.1 639.2,393.6 639.6,394.8 640.1,398.4 640.5,396.8 640.9,398.0 641.2,397.9 641.4,400.7 641.7,397.7 642.0,398.0 642.3,397.1 642.5,401.2 642.8,399.8 643.1,401.1 643.3,401.4 643.6,403.2 643.9,404.8 644.1,403.5 644.4,405.2 644.7,405.5 645.0,404.0 645.2,406.5 645.5,405.3 645.8,407.8 646.0,408.7 646.3,409.4 646.6,408.1 646.8,409.5 647.1,408.5 647.4,410.3 647.7,407.8 647.9,410.5 648.2,410.7 648.6,412.1 648.9,412.5 649.3,413.3 649.7,413.6 650.0,415.5 650.4,414.3 650.8,414.7 651.1,415.7 651.5,418.2 651.9,414.8 652.2,417.6 652.6,419.0 652.9,419.3 653.3,418.3 653.7,417.3 654.0,418.3 654.4,420.0 654.8,418.8 655.1,419.7 655.5,418.7 655.8,420.6 656.1,418.5 656.5,420.4 656.8,422.1 657.1,419.8 657.4,421.6 657.7,422.8 658.0,423.0 658.4,424.8 658.7,427.4 659.0,428.5 659.3,430.2 659.6,430.7 659.9,430.2 660.3,427.6 660.6,429.9 660.9,429.8 661.2,430.0 661.5,430.3 661.8,432.0 662.2,434.1 662.5,433.4 662.8,434.4 663.2,433.3 663.6,431.9 664.0,434.5 664.4,435.7 664.8,437.2 665.2,436.0 665.6,435.5 666.0,433.4 666.4,435.0 666.8,437.6 667.3,436.7 667.7,438.6 668.1,439.9 668.5,438.1 668.9,439.5 669.3,439.3 669.7,438.8 670.1,440.3 670.5,440.5 670.9,442.4 671.3,442.8" fill="none" stroke="#000" stroke-width="1.4" stroke-linejoin="round"/>
<path d="M424.4,576.2 425.0,576.1 425.6,577.0 426.2,576.8 426.8,577.2 427.4,577.2 428.1,577.2 428.7,577.1 429.3,577.1 429.9,576.7 430.5,577.6 431.1,577.3 431.7,577.3 432.3,577.1 432.9,577.0 433.5,577.4 434.2,577.6 434.8,577.9 435.4,577.2 436.0,577.1 436.6,577.5 437.2,577.5 437.8,577.2 438.4,577.5 439.0,577.4 439.6,577.5 440.2,577.4 440.9,577.7 441.5,577.7 442.1,577.2 442.7,577.5 443.3,577.6 443.9,577.6 444.5,577.7 445.1,577.9 445.7,577.9 446.3,578.0 447.0,577.9 447.6,577.5 448.2,577.7 448.8,578.4 449.4,578.4 450.0,578.0 450.6,578.2 451.2,578.1 451.8,578.5 452.4,578.1 453.0,577.9 453.6,578.4 454.2,578.2 454.8,578.3 455.4,578.2 456.0,578.0 456.6,578.0 457.3,578.2 457.9,578.4 458.5,578.2 459.1,578.0 459.7,577.8 460.3,578.5 460.9,578.0 461.5,578.1 462.1,578.2 462.7,578.5 463.3,578.9 463.9,578.5 464.5,578.9 465.1,578.9 465.7,578.7 466.3,578.6 466.9,578.5 467.5,578.2 468.1,578.3 468.7,578.4 469.3,578.5 469.9,578.3 470.5,578.1 471.1,578.2 471.8,578.1 472.4,577.8 473.0,578.2 473.6,578.1 474.2,578.1 474.8,578.2 475.4,578.4 476.0,577.9 476.6,577.5 477.2,578.1 477.8,578.1 478.4,578.3 479.0,578.2 479.6,578.0 480.2,578.3 480.8,578.1 481.4,578.3 482.0,578.3 482.6,578.2 483.2,578.5 483.8,578.2 484.4,578.2 485.0,578.1 485.6,577.9 486.2,578.0 486.8,577.9 487.4,577.8 488.1,577.4 488.7,577.9 489.3,578.0 489.9,578.4 490.5,578.3 491.1,578.4 491.7,578.2 492.3,578.3 492.9,578.1 493.5,578.2 494.1,577.7 494.7,577.9 495.3,578.2 495.9,577.8 496.5,577.8 497.1,578.1 497.7,578.1 498.3,578.3 498.9,577.6 499.5,578.0 500.1,578.2 500.7,578.0 501.3,578.1 501.9,577.8 502.5,577.5 503.1,578.0 503.7,578.0 504.3,577.8 504.9,577.9 505.5,578.0 506.2,577.8 506.8,578.1 507.4,577.8 508.0,577.8 508.6,578.0 509.2,577.9 509.8,578.1 510.4,578.1 511.0,578.2 511.6,578.0 512.2,578.0 512.8,578.1 513.4,577.8 514.0,578.0 514.6,578.3 515.2,578.1 515.8,578.0 516.4,578.0 517.0,577.9 517.6,578.0 518.2,578.0 518.8,577.9 519.4,578.1 520.0,578.1 520.6,578.2 521.2,577.7 521.8,578.1 522.4,578.1 523.0,578.4 523.6,577.9 524.3,577.9 524.9,578.0 525.5,578.1 526.1,577.8 526.7,577.8 527.3,577.8 527.9,578.0 528.5,578.1 529.1,578.4 529.7,577.9 530.3,578.1 530.9,578.4 531.5,578.1 532.1,578.0 532.7,578.0 533.3,577.7 533.9,578.3 534.5,577.9 535.1,577.8 535.7,578.5 536.3,578.1 536.9,577.8 537.5,577.9 538.1,578.0 538.7,577.8 539.3,578.1 539.9,578.3 540.5,578.1 541.1,578.4 541.7,578.5 542.4,578.6 543.0,578.1 543.6,578.1 544.2,578.3 544.8,577.7 545.4,577.9 546.0,578.1 546.6,577.7 547.2,578.3 547.8,578.1 548.4,578.1 549.0,578.1 549.6,577.8 550.2,578.0 550.8,578.0 551.4,577.4 552.0,577.8 552.6,577.8 553.2,577.9 553.9,577.9 554.5,577.7 555.1,577.6 555.7,577.4 556.3,577.8 556.9,577.9 557.5,577.8 558.2,577.9 558.8,577.8 559.4,577.6 560.0,577.5 560.6,577.3 561.2,577.6 561.9,577.2 562.5,577.1 563.1,577.3 563.7,577.0 564.3,576.7 564.9,577.3 565.5,577.1 566.2,576.8 566.8,576.7 567.4,576.7 568.0,577.1 568.6,576.9 569.2,576.8 569.8,576.9 570.4,576.9 571.0,577.0 571.6,576.9 572.2,577.2 572.8,576.7 573.4,577.3 574.0,577.0 574.6,576.7 575.2,577.0 575.8,576.9 576.4,576.9 577.0,576.5 577.6,576.8 578.2,576.2 578.8,576.5 579.4,576.5 580.0,576.2 580.6,576.6 581.2,576.9 581.8,576.5 582.4,576.0 583.0,576.4 583.6,576.6 584.2,576.7 584.8,576.5 585.4,576.5 586.0,576.3 586.6,576.6 587.2,576.4 587.8,576.3 588.4,576.3 589.0,576.5 589.6,576.4 590.2,576.3 590.8,576.4 591.4,576.1 592.0,576.2 592.6,575.7 593.2,575.9 593.8,576.2 594.4,575.7 595.0,575.6 595.6,576.2 596.2,576.0 596.8,575.9 597.4,575.7 598.0,575.5 598.6,575.8 599.2,575.7 599.8,575.5 600.4,576.1 601.0,576.1 601.6,576.1 602.2,575.9 602.8,575.7 603.4,575.2 604.0,575.5 604.6,575.1 605.2,575.1 605.8,574.6 606.4,575.1 607.0,574.9 607.3,574.0 607.5,574.2 607.8,573.1 608.0,572.6 608.3,572.1 608.5,571.1 608.8,570.6 609.0,569.7 609.3,569.5 609.5,569.0 609.8,568.3 610.0,567.7 610.3,567.1 610.5,566.1 610.8,565.9 611.0,565.8 611.3,564.7 611.5,564.6 611.8,564.4 611.8,563.6 611.9,562.8 611.9,562.3 611.9,561.7 612.0,561.2 612.0,560.3 612.0,559.6 612.0,559.7 612.1,558.6 612.1,557.9 612.1,557.7 612.2,557.7 612.2,556.5 612.2,556.0 612.3,555.1 612.3,554.6 612.3,554.0 612.4,553.3 612.4,552.7 612.4,551.7 612.5,551.6 612.5,550.8 612.5,550.3 612.5,550.2 612.6,549.2 612.6,548.4 612.6,547.9 612.7,547.3 612.7,546.5 612.7,545.7 612.8,544.9 612.8,544.5 612.8,544.1 612.9,543.9 612.9,543.0 612.9,542.4 613.0,541.4 613.0,540.6 613.0,540.1 613.0,539.9 613.1,539.0 613.1,538.7 613.1,538.1 613.2,537.4 613.2,536.7 613.2,536.1 613.3,535.8 613.3,534.9 613.3,534.4 613.4,534.0 613.4,533.6 613.4,532.4 613.5,531.7 613.5,531.7 613.5,531.0 613.5,530.2 613.6,529.7 613.6,528.7 613.6,528.3 613.7,527.4 613.7,526.6 613.7,526.2 613.8,525.5 613.8,525.2 613.8,524.6 613.9,523.9 613.9,523.6 613.9,523.1 614.0,522.3 614.0,521.5 614.0,521.1 614.0,520.1 614.1,519.6 614.1,519.2 614.1,518.3 614.2,517.7 614.2,516.7 614.2,516.5 614.3,516.0 614.3,515.7 614.3,515.0 614.4,514.6 614.4,514.2 614.4,513.4 614.4,512.9 614.5,512.1 614.5,511.9 614.5,511.0 614.5,510.1 614.6,509.6 614.6,509.2 614.6,508.3 614.6,507.8 614.7,507.2 614.7,506.9 614.7,505.8 614.7,505.6 614.8,504.9 614.8,504.2 614.8,503.2 614.8,502.8 614.9,502.2 614.9,502.3 614.9,501.6 614.9,500.6 615.0,500.0 615.0,499.6 615.0,498.6 615.0,497.9 615.1,497.5 615.1,497.0 615.1,496.4 615.2,496.0 615.2,494.8 615.2,494.0 615.2,494.1 615.3,493.5 615.3,492.6 615.3,492.2 615.3,491.7 615.4,490.7 615.4,490.1 615.4,489.6 615.4,488.9 615.5,488.6 615.5,488.0 615.5,487.2 615.5,487.1 615.6,486.3 615.6,485.6 615.6,485.1 615.6,484.5 615.7,484.0 615.7,483.4 615.7,482.9 615.7,482.6 615.8,481.8 615.8,480.9 615.8,480.2 615.8,479.7 615.9,478.6 615.9,477.9 615.9,477.3 616.0,476.9 616.0,477.0 616.0,476.0 616.0,475.4 616.1,474.8 616.1,474.2 616.1,473.3 616.1,473.1 616.2,472.2 616.2,471.8 616.2,470.4 616.2,470.6 616.3,469.9 616.3,469.6 616.3,468.9 616.3,468.2 616.4,467.7 616.4,467.1 616.4,466.2 616.4,465.1 616.5,465.0 616.5,464.4 616.5,463.9 616.5,462.9 616.6,462.6 616.6,462.3 616.6,461.3 616.6,461.2 616.7,460.5 616.7,460.0 617.1,459.3 617.5,458.4 617.9,459.1 618.3,457.9 618.6,457.8 619.0,457.9 619.4,458.4 619.8,456.7 620.2,455.0 620.6,454.5 621.0,454.6 621.4,456.2 621.7,454.2 622.1,454.1 622.5,451.6 622.9,452.0 623.3,451.6 623.7,450.3 624.1,454.0 624.5,450.3 624.8,452.1 625.2,448.9 625.6,450.1 626.0,447.8 626.4,446.6 626.6,448.5 626.9,448.9 627.1,447.4 627.4,448.0 627.6,446.2 627.9,444.1 628.1,442.1 628.4,445.2 628.6,440.3 628.9,440.4 629.1,441.8 629.4,438.8 629.6,440.3 629.9,441.5 630.1,440.9 630.4,438.5 630.6,438.7 630.9,438.2 631.1,436.5 631.4,435.3 631.6,435.0 631.9,437.3 632.1,437.1 632.4,437.5 632.6,438.7 632.9,434.2 633.1,435.6 633.4,435.5 633.6,431.3 633.9,431.0 634.1,429.7 634.4,428.4 634.6,430.1 634.9,427.0 635.1,427.1 635.4,428.3 635.6,426.2 635.9,431.4 636.1,429.6 636.5,426.2 637.0,424.2 637.4,426.7 637.8,427.3 638.2,424.4 638.7,425.3 639.1,425.4 639.5,428.5 640.0,429.7 640.4,430.4 640.8,429.4 641.3,426.9 641.7,427.8 642.1,432.1 642.5,431.2 643.0,433.5 643.4,433.6 643.6,436.4 643.9,433.6 644.1,433.9 644.4,437.1 644.6,435.3 644.9,434.2 645.1,440.5 645.3,439.8 645.6,440.0 645.8,439.0 646.1,439.3 646.3,436.5 646.6,435.7 646.8,437.7 647.0,439.6 647.3,441.5 647.5,439.0 647.8,440.3 648.0,443.9 648.3,446.2 648.5,446.4 648.8,443.1 649.0,442.6 649.2,445.3 649.5,443.7 649.7,447.1 650.0,448.5 650.2,450.2 650.5,450.8 650.7,453.1 651.2,451.6 651.7,453.5 652.2,454.9 652.6,452.5 653.1,454.7 653.6,453.8 654.1,453.6 654.6,453.4 655.1,455.0 655.5,456.6 656.0,454.6 656.5,457.6 657.0,456.0 657.5,455.9 658.0,457.4 658.5,456.6 658.9,456.0 659.4,458.1 659.9,457.9 660.4,456.3 660.9,456.0 661.5,454.9 662.0,457.5 662.6,458.4 663.1,458.3 663.7,456.5 664.2,458.4 664.8,458.8 665.3,458.8 665.8,460.0 666.4,457.8 666.9,458.6 667.5,462.2 668.0,463.4 668.6,463.1 669.1,463.0 669.7,463.5 670.2,461.9 670.8,462.7 671.3,463.4" fill="none" stroke="#000" stroke-width="1.4" stroke-linejoin="round"/>
<path d="M424.4,584.6 425.0,584.8 425.6,584.5 426.2,584.4 426.8,584.6 427.4,584.6 428.1,584.5 428.7,584.5 429.3,584.6 429.9,584.7 430.5,585.1 431.1,584.9 431.7,584.8 432.3,584.8 432.9,585.0 433.5,584.9 434.2,585.0 434.8,585.1 435.4,585.0 436.0,585.1 436.6,584.7 437.2,584.9 437.8,585.4 438.4,585.7 439.0,585.6 439.6,585.7 440.2,585.5 440.9,585.6 441.5,585.4 442.1,585.6 442.7,585.8 443.3,585.8 443.9,585.8 444.5,585.7 445.1,585.7 445.7,585.6 446.3,585.6 447.0,585.6 447.6,585.6 448.2,585.6 448.8,585.8 449.4,585.8 450.0,586.0 450.6,585.9 451.2,586.3 451.8,586.4 452.4,585.9 453.0,586.0 453.6,586.5 454.1,587.0 454.7,587.0 455.3,587.1 455.9,586.7 456.5,587.0 457.1,587.5 457.7,587.6 458.3,587.7 458.9,588.3 459.5,588.3 460.1,588.6 460.7,589.1 461.2,588.6 461.8,588.9 462.4,589.0 463.0,588.9 463.6,588.7 464.2,589.4 464.8,589.1 465.4,589.8 466.0,589.7 466.6,589.5 467.2,589.8 467.8,589.9 468.3,590.3 468.9,590.1 469.5,590.4 470.1,590.4 470.7,590.5 471.3,591.0 471.9,591.1 472.5,591.1 473.1,591.3 473.7,591.1 474.3,590.8 474.9,591.2 475.4,591.5 476.0,592.1 476.6,592.0 477.2,592.3 477.8,592.4 478.4,592.5 479.0,592.6 479.6,592.5 480.2,592.2 480.8,592.0 481.4,592.4 482.0,592.4 482.6,592.5 483.3,592.3 483.9,592.2 484.5,592.0 485.1,592.3 485.7,592.2 486.3,592.5 486.9,592.8 487.5,592.4 488.1,592.7 488.7,592.4 489.3,592.5 489.9,592.6 490.5,592.5 491.2,592.4 491.8,592.2 492.4,592.4 493.0,592.3 493.6,592.5 494.2,592.4 494.8,592.7 495.4,592.6 496.0,592.5 496.6,592.0 497.2,592.4 497.8,592.6 498.5,592.1 499.1,592.0 499.7,592.6 500.3,592.2 500.9,592.5 501.5,592.6 502.1,592.2 502.7,592.2 503.3,592.1 503.9,592.6 504.5,592.2 505.1,592.1 505.7,592.6 506.4,592.7 507.0,592.6 507.6,592.6 508.2,592.8 508.8,592.7 509.4,592.8 510.0,593.2 510.6,593.0 511.2,592.8 511.8,592.8 512.4,592.4 513.0,592.6 513.6,592.0 514.2,592.4 514.8,592.8 515.4,592.6 516.0,592.5 516.6,592.7 517.2,592.3 517.8,592.3 518.4,592.5 519.0,592.1 519.6,592.4 520.2,592.5 520.8,592.5 521.4,592.2 522.0,592.7 522.7,592.1 523.3,592.3 523.9,592.3 524.5,592.6 525.1,592.1 525.7,592.1 526.3,592.5 526.9,592.4 527.5,592.7 528.1,592.4 528.7,592.5 529.3,592.6 529.9,592.7 530.5,592.6 531.1,592.4 531.7,592.0 532.3,592.0 532.9,592.2 533.5,591.7 534.1,592.0 534.7,592.3 535.3,592.2 535.9,591.9 536.5,592.2 537.1,592.1 537.7,592.4 538.3,592.5 538.9,592.3 539.5,592.2 540.1,591.9 540.7,591.8 541.3,592.0 541.9,591.8 542.5,592.0 543.1,592.0 543.7,591.9 544.3,592.0 544.9,592.3 545.5,591.9 546.1,591.7 546.7,591.7 547.4,591.9 548.0,592.2 548.6,592.3 549.2,591.9 549.8,592.2 550.4,591.9 551.0,592.0 551.6,591.6 552.2,591.6 552.8,591.7 553.4,591.5 554.0,592.1 554.6,591.8 555.2,592.1 555.8,592.1 556.4,591.8 557.0,591.9 557.6,591.9 558.2,591.8 558.8,591.0 559.4,591.7 560.0,591.0 560.6,591.5 561.2,591.5 561.8,591.8 562.4,591.9 563.0,591.6 563.6,591.4 564.2,591.2 564.8,590.9 565.4,591.2 566.0,591.7 566.6,591.5 567.2,591.6 567.8,591.8 568.4,591.2 569.0,591.4 569.6,590.9 570.2,591.2 570.8,591.2 571.4,591.4 572.0,591.4 572.7,591.4 573.3,591.7 573.9,591.6 574.5,591.5 575.1,591.3 575.7,590.9 576.3,591.2 576.9,591.1 577.5,590.9 578.1,591.0 578.7,591.3 579.3,591.2 579.9,591.4 580.5,591.2 581.1,591.1 581.7,591.4 582.3,591.9 582.9,591.8 583.5,591.2 584.1,591.0 584.7,591.1 585.3,591.2 585.9,591.0 586.5,591.3 587.1,591.2 587.7,591.0 588.3,590.9 588.9,591.2 589.5,591.2 590.1,591.2 590.7,591.7 591.3,591.5 591.9,591.4 592.5,590.9 593.1,590.9 593.7,591.6 594.3,591.0 594.9,591.2 595.5,591.2 596.1,591.1 596.7,591.1 597.4,591.1 598.0,591.0 598.6,591.2 599.2,591.4 599.8,591.0 600.4,590.7 601.0,591.0 601.6,590.8 602.2,590.8 602.8,590.8 603.4,590.9 604.0,591.0 604.6,590.9 605.2,591.4 605.8,591.2 606.4,591.3 607.0,590.8 607.6,591.0 608.2,590.8 608.8,590.9 609.4,590.8 609.6,589.7 609.8,589.3 610.0,588.9 610.2,588.6 610.4,587.9 610.6,587.8 610.8,586.6 611.0,585.8 611.2,585.3 611.4,584.7 611.6,584.2 611.8,583.4 611.9,582.8 611.9,582.3 612.0,581.7 612.0,581.1 612.1,580.1 612.2,580.2 612.2,579.3 612.3,578.9 612.3,578.3 612.4,578.0 612.5,577.0 612.5,576.3 612.6,575.7 612.6,575.0 612.7,574.2 612.8,573.6 612.8,572.9 612.9,572.8 612.9,571.8 613.0,571.7 613.1,571.1 613.1,570.5 613.2,570.1 613.3,569.6 613.3,568.3 613.4,567.7 613.4,567.0 613.5,566.5 613.6,566.0 613.6,565.3 613.7,564.8 613.7,564.1 613.8,563.7 613.9,563.0 613.9,562.2 614.0,562.1 614.0,561.2 614.1,560.6 614.2,559.9 614.2,559.6 614.3,559.1 614.3,558.3 614.4,557.9 614.5,557.3 614.5,556.5 614.6,556.2 614.6,555.3 614.7,554.6 614.8,553.8 614.8,553.4 614.9,552.8 614.9,552.8 615.0,551.7 615.1,551.2 615.1,551.1 615.2,550.0 615.2,549.4 615.3,548.9 615.4,548.0 615.4,547.4 615.5,546.7 615.6,546.4 615.6,546.4 615.7,545.6 615.7,544.8 615.8,544.3 615.9,543.3 615.9,542.1 616.0,541.6 616.0,541.2 616.1,540.7 616.2,540.1 616.2,539.7 616.3,539.3 616.3,538.9 616.4,538.6 616.5,537.2 616.5,537.0 616.6,536.3 616.6,535.8 616.7,535.0 617.3,535.2 617.9,534.7 618.5,535.2 619.1,535.0 619.7,535.8 620.3,535.2 620.9,535.1 621.5,535.1 622.2,535.1 622.8,535.9 623.4,536.6 624.0,536.7 624.6,536.1 625.2,536.5 625.8,536.3 626.4,536.2 627.0,536.4 627.6,536.4 628.2,535.6 628.8,535.5 629.4,534.9 630.0,534.9 630.7,535.3 631.3,534.9 631.9,534.7 632.5,534.0 633.1,533.6 633.7,533.9 634.3,533.9 634.9,534.1 635.5,534.0 636.1,533.7 636.7,534.1 637.3,534.4 637.9,535.3 638.6,535.4 639.2,535.0 639.8,534.5 640.4,535.0 641.0,535.3 641.6,535.5 642.2,535.8 642.8,536.2 643.4,536.3 644.0,535.9 644.6,536.7 645.2,536.2 645.8,536.3 646.4,535.8 647.0,535.7 647.6,535.9 648.2,536.6 648.9,536.1 649.5,536.9 650.1,537.0 650.7,537.3 651.3,537.4 651.9,537.4 652.5,537.8 653.1,537.7 653.7,537.3 654.3,538.1 654.9,537.6 655.4,538.3 656.0,538.7 656.6,538.6 657.2,538.7 657.8,538.4 658.4,538.2 659.0,539.2 659.6,538.7 660.1,539.1 660.7,538.4 661.3,538.8 661.9,539.3 662.5,539.8 663.1,540.2 663.7,540.7 664.3,540.9 664.8,541.2 665.4,540.7 666.0,540.5 666.6,541.2 667.2,540.8 667.8,541.4 668.4,541.6 669.0,541.9 669.5,541.2 670.1,541.0 670.7,541.6 671.3,542.2" fill="none" stroke="#000" stroke-width="1.4" stroke-linejoin="round"/>
<text x="0.00" y="660.00" font-size="20" text-anchor="start" font-weight="bold" font-style="normal" style="letter-spacing:0">e</text>
<line x1="70.50" y1="664.58" x2="70.50" y2="902.00" stroke="#000" stroke-width="1.3"/>
<line x1="64.00" y1="902.00" x2="70.50" y2="902.00" stroke="#000" stroke-width="1.3"/>
<line x1="64.00" y1="836.05" x2="70.50" y2="836.05" stroke="#000" stroke-width="1.3"/>
<line x1="64.00" y1="770.10" x2="70.50" y2="770.10" stroke="#000" stroke-width="1.3"/>
<line x1="64.00" y1="704.15" x2="70.50" y2="704.15" stroke="#000" stroke-width="1.3"/>
<line x1="66.50" y1="869.02" x2="70.50" y2="869.02" stroke="#000" stroke-width="1.3"/>
<line x1="66.50" y1="803.08" x2="70.50" y2="803.08" stroke="#000" stroke-width="1.3"/>
<line x1="66.50" y1="737.12" x2="70.50" y2="737.12" stroke="#000" stroke-width="1.3"/>
<line x1="66.50" y1="671.17" x2="70.50" y2="671.17" stroke="#000" stroke-width="1.3"/>
<text x="57.80" y="906.90" font-size="14" text-anchor="end" font-weight="normal" font-style="normal" >0.0</text>
<text x="57.80" y="840.95" font-size="14" text-anchor="end" font-weight="normal" font-style="normal" >0.5</text>
<text x="57.80" y="775.00" font-size="14" text-anchor="end" font-weight="normal" font-style="normal" >1.0</text>
<text x="57.80" y="709.05" font-size="14" text-anchor="end" font-weight="normal" font-style="normal" >1.5</text>
<text transform="translate(24.50,781.70) rotate(-90)" font-size="14" text-anchor="middle">[Ca<tspan font-size="10" dy="-5.5">2+</tspan><tspan dy="5.5">] (μM)</tspan></text>
<line x1="83.00" y1="661.10" x2="116.60" y2="661.10" stroke="#000" stroke-width="1.3"/>
<text x="125.30" y="665.80" font-size="14" text-anchor="start" font-weight="normal" font-style="normal" >GSK(+)</text>
<line x1="83.00" y1="679.20" x2="116.60" y2="679.20" stroke="#f00000" stroke-width="1.3"/>
<text x="125.30" y="683.90" font-size="14" text-anchor="start" font-weight="normal" font-style="normal" >GSK(–)</text>
<text x="83.00" y="712.50" font-size="14" text-anchor="start" font-weight="normal" font-style="normal" >LPS <tspan font-style="italic">S. minnesota</tspan></text>
<line x1="110.80" y1="722.20" x2="169.60" y2="722.20" stroke="#000" stroke-width="2.5"/>
<line x1="243.10" y1="722.20" x2="283.00" y2="722.20" stroke="#000" stroke-width="2.5"/>
<text x="263.00" y="714.40" font-size="14" text-anchor="middle" font-weight="normal" font-style="normal" >GSK</text>
<line x1="262.30" y1="894.20" x2="301.50" y2="894.20" stroke="#000" stroke-width="2"/>
<text x="281.40" y="915.30" font-size="14" text-anchor="middle" font-weight="normal" font-style="normal" >2 min</text>
<path d="M73.8,872.8 74.4,873.0 75.0,873.3 75.6,873.4 76.2,873.5 76.8,873.9 77.4,873.7 78.0,874.1 78.6,873.9 79.2,874.1 79.8,874.1 80.3,874.4 80.9,874.1 81.5,873.8 82.1,874.0 82.7,874.7 83.3,875.1 83.9,874.8 84.5,875.4 85.1,875.3 85.7,875.1 86.3,875.2 86.9,875.1 87.5,875.2 88.1,875.5 88.7,875.5 89.3,875.5 89.9,875.6 90.5,875.7 91.1,875.8 91.7,876.0 92.3,876.1 92.9,876.3 93.5,876.5 94.0,876.7 94.6,876.8 95.2,876.7 95.8,876.5 96.4,876.5 97.0,877.2 97.6,876.6 98.2,876.9 98.8,877.0 99.4,877.4 100.0,877.2 100.6,877.8 101.2,877.6 101.8,877.8 102.4,877.7 103.0,877.8 103.6,877.9 104.2,878.0 104.8,877.9 105.4,878.0 106.0,878.0 106.6,878.0 107.2,878.3 107.8,877.9 108.4,878.3 109.0,878.3 109.6,879.0 110.2,878.9 110.8,878.4 111.4,878.2 112.0,878.4 112.6,878.9 113.2,878.9 113.8,879.2 114.4,879.1 115.0,878.8 115.6,878.7 116.2,878.5 116.8,878.8 117.4,879.0 118.0,879.1 118.6,879.2 119.2,879.2 119.8,878.4 120.4,879.2 121.0,879.1 121.6,879.3 122.2,879.2 122.8,879.5 123.4,879.0 124.0,879.5 124.6,879.8 125.2,879.5 125.8,879.1 126.4,879.1 127.0,879.4 127.6,879.6 128.2,879.7 128.8,879.3 129.4,879.5 130.0,879.5 130.6,879.9 131.2,880.2 131.8,880.3 132.4,880.0 133.0,879.7 133.6,879.7 134.2,880.0 134.8,879.1 135.4,879.3 136.0,879.3 136.6,879.7 137.2,879.7 137.8,880.0 138.4,879.6 139.0,879.8 139.6,879.5 140.2,879.3 140.8,880.1 141.4,879.8 142.0,879.9 142.6,879.4 143.2,880.2 143.8,880.1 144.4,879.8 145.0,879.9 145.6,879.9 146.2,879.7 146.8,879.8 147.4,880.1 148.0,879.7 148.6,879.8 149.2,880.1 149.8,880.1 150.4,879.7 151.0,880.1 151.6,880.1 152.2,880.3 152.8,879.9 153.4,880.0 154.0,880.3 154.6,880.4 155.2,880.4 155.8,879.7 156.4,880.0 157.0,880.0 157.6,880.0 158.2,880.1 158.8,880.4 159.4,880.1 160.0,880.2 160.6,880.2 161.2,879.5 161.8,879.7 162.4,880.0 163.0,880.0 163.6,880.2 164.2,879.8 164.8,880.0 165.4,879.8 166.0,879.5 166.6,880.2 167.2,880.2 167.8,880.3 168.4,880.6 169.0,880.1 169.6,880.0 170.2,880.0 170.8,880.0 171.4,880.4 172.0,879.9 172.6,880.1 173.2,879.8 173.8,879.3 174.4,879.4 175.0,880.0 175.6,879.9 176.2,880.0 176.8,880.3 177.4,879.5 178.0,880.3 178.7,880.1 179.3,880.0 179.9,879.8 180.5,879.9 181.1,879.8 181.7,879.6 182.3,880.1 182.9,880.5 183.5,880.9 184.1,881.1 184.8,880.5 185.4,880.8 186.0,880.4 186.6,880.8 187.2,880.5 187.8,880.7 188.4,880.7 189.0,880.7 189.6,880.8 190.2,880.5 190.9,880.8 191.5,880.8 192.1,880.7 192.7,881.1 193.3,880.9 193.9,880.3 194.5,880.6 195.1,880.7 195.7,880.8 196.3,881.3 197.0,880.9 197.6,880.9 198.2,881.2 198.8,880.8 199.4,881.4 200.0,881.0 200.6,881.0 201.2,881.3 201.8,881.0 202.4,880.8 203.0,880.4 203.6,880.8 204.2,880.9 204.8,881.0 205.4,881.1 206.0,881.2 206.6,881.0 207.2,881.6 207.8,881.3 208.4,881.0 209.0,881.2 209.6,881.4 210.2,880.8 210.8,881.1 211.4,881.3 212.0,881.4 212.6,881.1 213.2,881.3 213.8,881.0 214.4,881.2 215.0,881.1 215.6,881.2 216.2,880.7 216.8,881.4 217.4,881.4 218.0,881.5 218.6,881.4 219.2,881.7 219.8,881.6 220.4,881.1 221.0,880.9 221.6,880.7 222.2,880.7 222.8,881.1 223.4,881.1 224.0,881.1 224.6,881.1 225.2,881.1 225.8,881.0 226.4,880.9 227.0,880.7 227.6,881.1 228.2,881.2 228.8,881.1 229.4,881.4 230.0,881.1 230.6,881.4 231.2,880.9 231.8,881.0 232.4,881.6 233.0,881.3 233.6,881.3 234.2,881.6 234.8,881.3 235.4,881.1 236.0,881.4 236.6,881.5 237.2,881.0 237.8,881.4 238.4,881.6 239.0,881.0 239.6,881.6 240.2,881.0 240.8,881.2 241.4,881.8 242.0,881.4 242.6,881.3 243.2,881.4 243.8,881.3 244.4,881.4 245.0,881.5 245.6,881.4 246.2,881.4 246.8,881.3 247.4,881.2 248.0,881.6 248.6,881.6 249.2,881.6 249.8,881.3 250.4,881.7 251.0,881.0 251.6,880.9 252.2,881.4 252.8,880.9 253.4,881.4 254.0,881.3 254.6,881.4 255.2,881.7 255.8,881.8 256.4,881.9 257.0,881.4 257.6,880.7 258.2,881.0 258.8,881.3 259.4,880.7 260.0,881.4 260.6,881.7 261.2,881.5 261.8,881.4 262.4,881.2 263.0,881.6 263.6,881.8 264.2,881.9 264.8,881.4 265.4,881.5 266.0,881.2 266.6,881.7 267.2,882.1 267.8,881.3 268.4,881.2 269.0,881.0 269.6,881.2 270.2,881.0 270.8,881.3 271.4,880.9 272.0,880.9 272.6,881.0 273.2,880.5 273.8,880.8 274.4,881.1 275.0,881.0 275.6,881.0 276.2,881.2 276.8,880.7 277.4,881.0 278.0,881.0 278.6,881.2 279.2,881.2 279.8,881.2 280.4,880.5 281.0,881.1 281.6,880.9 282.2,880.8 282.8,880.5 283.4,880.4 284.0,880.0 284.6,880.8 285.2,880.1 285.8,880.6 286.4,880.3 287.0,880.2 287.6,880.0 288.2,880.8 288.8,881.0 289.4,880.7 290.0,880.5 290.6,880.2 291.2,879.9 291.8,879.4 292.4,880.2 293.0,880.1 293.6,880.0 294.3,880.5 294.9,879.8 295.5,879.7 296.1,880.3 296.7,880.2 297.3,879.8 297.9,879.9 298.5,879.8 299.1,879.9 299.7,879.6 300.3,879.5 300.9,879.7 301.6,879.6 302.2,879.5 302.8,879.4 303.4,879.6 304.0,879.1 304.6,879.2 305.2,879.5 305.8,879.5 306.4,879.1 307.0,878.7 307.6,879.6 308.2,878.8 308.9,878.6 309.5,878.6 310.1,878.8 310.7,878.7 311.3,878.6 311.9,878.2 312.5,878.1 313.1,878.3 313.7,878.7 314.3,878.2 314.9,878.4 315.5,878.2 316.2,878.3 316.8,878.1 317.4,878.1 318.0,878.2 318.6,877.7 319.2,877.9 319.8,877.8" fill="none" stroke="#f00000" stroke-width="1.2" stroke-linejoin="round"/>
<path d="M73.8,875.4 74.4,875.9 75.0,876.2 75.6,876.2 76.2,876.0 76.8,876.4 77.4,876.3 78.0,876.3 78.6,876.4 79.2,876.8 79.8,877.1 80.3,876.5 80.9,877.0 81.5,876.9 82.1,876.6 82.7,876.8 83.3,876.9 83.9,877.0 84.5,877.3 85.1,877.4 85.7,877.9 86.3,878.0 86.9,877.6 87.5,878.2 88.1,878.1 88.7,878.1 89.3,877.7 89.9,878.4 90.5,878.4 91.1,878.1 91.7,878.1 92.3,878.7 92.9,878.5 93.5,878.5 94.0,878.5 94.6,878.7 95.2,879.1 95.8,878.7 96.4,879.0 97.0,879.1 97.6,878.9 98.2,878.8 98.8,879.1 99.4,879.2 100.0,879.5 100.6,879.4 101.2,879.7 101.8,879.3 102.4,880.0 103.0,879.8 103.6,879.8 104.2,879.2 104.8,879.8 105.4,880.0 106.0,880.1 106.6,880.1 107.2,880.7 107.8,880.2 108.4,880.6 109.0,880.3 109.6,880.8 110.2,880.5 110.8,880.6 111.4,880.4 112.0,880.3 112.6,880.7 113.2,880.6 113.8,880.2 114.4,880.5 115.0,880.5 115.6,881.0 116.2,881.4 116.8,880.8 117.4,880.9 118.0,880.8 118.6,881.3 119.2,881.1 119.8,881.6 120.4,881.8 121.0,881.9 121.6,882.1 122.2,881.6 122.8,881.6 123.4,881.7 124.0,881.8 124.6,881.9 125.2,882.5 125.8,882.1 126.4,882.2 127.0,882.1 127.6,881.4 128.2,881.7 128.8,881.3 129.4,882.1 130.0,882.2 130.6,882.4 131.2,882.1 131.8,882.5 132.4,882.4 133.0,882.5 133.6,882.4 134.2,883.0 134.8,882.6 135.4,882.5 136.0,882.4 136.6,882.8 137.2,882.8 137.8,882.3 138.4,882.3 139.1,882.6 139.7,882.2 140.3,882.3 140.9,882.5 141.5,882.6 142.1,882.9 142.7,882.9 143.3,882.7 143.9,882.4 144.5,882.5 145.1,882.2 145.7,882.4 146.3,882.6 146.9,882.3 147.5,882.1 148.1,882.2 148.7,882.4 149.3,882.4 149.9,882.3 150.5,882.2 151.1,882.7 151.7,882.5 152.3,882.7 152.9,883.2 153.5,882.8 154.1,882.3 154.7,882.6 155.3,882.9 155.9,882.8 156.6,882.4 157.2,882.5 157.8,882.8 158.4,882.4 159.0,882.4 159.6,882.3 160.2,882.7 160.8,883.0 161.4,882.6 162.0,882.2 162.6,882.6 163.2,882.8 163.8,882.7 164.4,882.5 165.0,882.9 165.6,883.2 166.2,882.3 166.8,882.7 167.4,882.2 168.0,882.3 168.6,882.5 169.2,883.0 169.8,883.0 170.4,883.2 171.0,883.1 171.6,883.0 172.2,883.1 172.8,883.0 173.4,883.1 174.1,882.9 174.7,883.1 175.3,883.0 175.9,883.1 176.5,883.4 177.1,883.2 177.7,883.3 178.3,882.8 178.9,882.5 179.5,882.7 180.1,882.6 180.7,883.3 181.3,882.8 181.9,882.8 182.5,883.1 183.1,883.2 183.7,883.0 184.3,883.1 184.9,883.6 185.5,883.0 186.1,883.3 186.7,883.5 187.3,883.0 187.9,882.9 188.5,883.0 189.1,883.3 189.7,883.4 190.3,883.1 190.9,883.1 191.6,883.0 192.2,882.4 192.8,882.5 193.4,882.6 194.0,883.0 194.6,883.0 195.2,883.4 195.8,883.0 196.4,883.4 197.0,883.2 197.6,883.0 198.2,882.9 198.8,883.6 199.4,883.2 200.0,883.0 200.6,883.1 201.2,883.0 201.8,883.1 202.4,882.6 203.0,882.8 203.6,882.7 204.2,882.5 204.8,882.9 205.4,883.5 206.0,882.7 206.6,882.5 207.2,883.1 207.8,883.7 208.4,883.4 209.0,883.1 209.6,883.4 210.2,883.2 210.8,882.7 211.4,882.3 212.0,882.7 212.6,883.1 213.2,883.2 213.8,882.9 214.4,883.0 215.0,883.0 215.6,883.2 216.2,883.4 216.8,883.0 217.4,882.2 218.0,883.0 218.6,882.7 219.2,883.2 219.8,882.5 220.4,882.8 221.0,882.4 221.6,882.1 222.2,882.4 222.8,882.8 223.4,882.3 224.0,882.9 224.6,882.5 225.2,882.9 225.8,882.4 226.4,882.5 227.0,883.0 227.6,882.9 228.2,882.5 228.8,883.1 229.4,883.5 230.0,882.5 230.6,883.0 231.2,882.4 231.8,882.8 232.4,883.3 233.0,883.4 233.6,883.4 234.2,883.6 234.8,882.9 235.4,882.7 236.0,883.3 236.6,883.3 237.2,883.3 237.8,883.2 238.4,883.0 239.0,883.0 239.6,883.0 240.2,882.3 240.8,882.4 241.4,883.0 242.0,882.9 242.6,883.3 243.2,882.9 243.8,883.2 244.4,883.3 245.0,883.0 245.6,882.7 246.2,882.9 246.8,883.1 247.4,883.0 248.0,882.9 248.6,883.2 249.2,883.1 249.8,883.1 250.4,883.3 251.0,883.3 251.6,883.2 252.2,882.9 252.8,882.4 253.4,882.8 254.0,882.3 254.6,882.8 255.2,883.0 255.8,883.1 256.4,883.5 257.0,883.1 257.6,882.9 258.2,882.8 258.8,883.2 259.4,883.3 260.0,882.8 260.6,882.5 261.2,882.7 261.8,882.3 262.4,882.2 263.0,882.5 263.6,882.4 264.2,882.7 264.8,882.7 265.4,882.7 266.0,883.0 266.6,883.0 267.2,882.5 267.9,882.5 268.5,882.4 269.1,882.4 269.7,883.0 270.3,883.2 270.9,882.7 271.5,882.3 272.1,882.7 272.7,883.0 273.3,882.8 273.9,883.0 274.5,882.8 275.1,882.6 275.7,882.7 276.3,882.4 276.9,882.2 277.5,881.6 278.1,881.7 278.7,882.2 279.3,882.2 279.9,881.9 280.5,882.3 281.1,882.3 281.7,881.4 282.3,881.2 283.0,881.4 283.6,881.6 284.2,881.6 284.8,881.9 285.4,882.2 286.0,881.9 286.6,882.0 287.2,882.1 287.8,882.1 288.4,881.8 289.0,881.9 289.6,881.8 290.2,881.9 290.8,881.6 291.4,881.8 292.0,882.2 292.6,881.6 293.2,881.6 293.8,882.2 294.4,881.8 295.0,881.8 295.6,881.3 296.2,881.6 296.8,881.6 297.5,881.1 298.1,881.3 298.7,880.9 299.3,881.0 299.9,881.5 300.5,881.7 301.1,881.1 301.7,881.4 302.3,881.0 302.9,881.5 303.5,880.8 304.1,880.9 304.7,881.0 305.3,880.7 305.9,880.8 306.5,881.0 307.1,881.2 307.7,880.9 308.3,881.0 308.9,880.9 309.5,880.9 310.1,880.8 310.7,880.6 311.3,881.3 311.9,880.6 312.6,880.7 313.2,880.9 313.8,880.5 314.4,880.5 315.0,880.6 315.6,880.3 316.2,880.4 316.8,880.5 317.4,880.6 318.0,880.9 318.6,880.2 319.2,880.6 319.8,880.5" fill="none" stroke="#f00000" stroke-width="1.2" stroke-linejoin="round"/>
<path d="M73.8,879.1 74.4,879.3 75.0,879.4 75.6,878.9 76.2,879.3 76.8,879.4 77.5,879.4 78.1,879.5 78.7,879.6 79.3,879.9 79.9,879.6 80.5,879.5 81.1,880.0 81.7,880.3 82.3,880.6 82.9,880.2 83.5,879.6 84.2,879.8 84.8,879.8 85.4,880.2 86.0,880.3 86.6,880.4 87.2,879.9 87.8,880.8 88.4,880.6 89.0,880.5 89.6,881.4 90.3,880.5 90.9,880.8 91.5,881.1 92.1,881.0 92.7,881.1 93.3,881.3 93.9,881.1 94.5,881.5 95.1,881.3 95.7,881.6 96.3,881.8 97.0,881.6 97.6,882.2 98.2,882.2 98.8,881.9 99.4,881.9 100.0,882.1 100.6,882.2 101.2,882.1 101.8,882.0 102.4,882.2 103.0,882.1 103.6,881.9 104.2,882.1 104.8,882.4 105.4,882.3 106.0,882.5 106.6,883.1 107.2,882.6 107.8,882.7 108.4,882.4 109.0,882.8 109.6,883.3 110.2,882.9 110.8,882.6 111.4,882.8 112.0,883.0 112.6,883.3 113.2,882.9 113.8,882.9 114.4,882.7 115.0,882.8 115.6,883.6 116.2,883.5 116.8,883.9 117.4,884.0 118.0,883.2 118.6,882.5 119.2,883.1 119.8,883.5 120.4,883.3 121.0,883.8 121.6,884.2 122.2,884.0 122.8,884.3 123.4,884.1 124.0,883.5 124.6,883.5 125.2,883.8 125.8,883.8 126.4,883.7 127.0,884.2 127.6,883.9 128.2,884.1 128.8,883.4 129.4,883.9 130.0,884.2 130.6,884.2 131.2,884.1 131.8,883.8 132.4,884.2 133.0,884.5 133.6,884.5 134.2,884.6 134.8,884.5 135.4,884.2 136.0,884.6 136.6,884.8 137.2,884.4 137.8,884.8 138.4,884.7 139.1,884.9 139.7,885.1 140.3,884.4 140.9,884.8 141.5,884.6 142.1,885.0 142.7,884.5 143.3,884.6 143.9,884.2 144.5,884.6 145.1,884.6 145.7,884.4 146.3,884.7 146.9,884.5 147.5,884.6 148.1,884.7 148.7,884.4 149.3,884.9 149.9,884.9 150.5,885.3 151.1,885.1 151.7,884.6 152.3,884.6 152.9,884.9 153.5,884.7 154.1,884.5 154.7,884.8 155.3,884.4 155.9,884.4 156.6,884.5 157.2,885.0 157.8,885.0 158.4,884.4 159.0,884.3 159.6,884.9 160.2,885.6 160.8,885.1 161.4,884.8 162.0,884.4 162.6,884.7 163.2,884.7 163.8,884.6 164.4,884.7 165.0,884.5 165.6,885.0 166.2,884.9 166.8,884.8 167.4,884.7 168.0,885.0 168.6,885.5 169.2,885.2 169.8,884.9 170.4,885.6 171.0,885.0 171.6,885.3 172.2,885.6 172.8,885.1 173.4,885.2 174.1,885.0 174.7,884.9 175.3,884.4 175.9,884.1 176.5,884.6 177.1,884.5 177.7,884.3 178.3,884.3 178.9,884.7 179.5,884.2 180.1,885.0 180.7,884.8 181.3,885.0 181.9,885.4 182.5,885.5 183.1,884.9 183.7,885.1 184.3,885.0 184.9,884.8 185.5,884.8 186.1,884.9 186.7,885.0 187.3,884.9 187.9,884.7 188.5,885.0 189.1,885.0 189.7,885.2 190.3,884.9 190.9,885.2 191.6,884.9 192.2,884.9 192.8,885.0 193.4,884.8 194.0,885.0 194.6,884.9 195.2,884.6 195.8,884.5 196.4,885.5 197.0,885.0 197.6,884.9 198.2,885.0 198.8,884.8 199.4,884.9 200.0,885.0 200.6,885.0 201.2,885.1 201.8,884.9 202.4,884.9 203.0,884.7 203.6,884.7 204.2,885.0 204.8,884.2 205.4,884.8 206.0,884.6 206.6,884.3 207.2,884.4 207.8,884.4 208.4,884.8 209.0,884.7 209.6,884.9 210.2,884.6 210.8,885.0 211.4,885.2 212.0,885.2 212.6,885.1 213.2,884.8 213.8,884.7 214.4,885.0 215.0,885.2 215.6,885.0 216.2,885.0 216.8,885.2 217.4,885.0 218.0,884.8 218.6,884.7 219.2,885.1 219.8,885.1 220.4,885.3 221.0,884.3 221.6,885.2 222.2,884.6 222.8,884.9 223.4,884.7 224.0,884.5 224.6,884.9 225.2,884.9 225.8,885.2 226.4,884.9 227.0,885.0 227.6,885.3 228.2,884.6 228.8,884.5 229.4,884.7 230.0,885.6 230.6,885.0 231.2,885.2 231.8,885.4 232.4,884.4 233.0,884.5 233.6,884.7 234.2,885.4 234.8,885.3 235.4,885.1 236.0,884.9 236.6,884.5 237.2,884.9 237.8,884.7 238.4,885.7 239.0,885.1 239.6,884.9 240.2,884.7 240.8,885.0 241.4,884.8 242.0,885.3 242.6,885.0 243.2,885.2 243.8,884.9 244.4,884.8 245.0,885.0 245.6,885.1 246.2,884.8 246.8,885.2 247.4,884.7 248.0,885.0 248.6,885.3 249.2,885.1 249.8,885.2 250.4,885.2 251.0,885.3 251.6,885.2 252.2,885.1 252.8,885.1 253.4,884.9 254.0,885.6 254.6,885.4 255.2,885.1 255.8,884.7 256.4,884.8 257.0,885.0 257.6,885.1 258.2,885.1 258.8,884.8 259.4,885.4 260.0,884.8 260.6,884.8 261.2,884.5 261.8,884.3 262.4,884.8 263.0,885.1 263.6,884.8 264.2,885.2 264.8,885.2 265.4,884.7 266.0,885.2 266.6,884.7 267.2,884.6 267.9,884.6 268.5,884.7 269.1,884.8 269.7,884.9 270.3,884.8 270.9,884.7 271.5,884.4 272.1,884.2 272.7,884.8 273.3,884.2 273.9,883.9 274.5,884.2 275.1,884.3 275.7,884.7 276.3,884.8 276.9,884.7 277.5,884.9 278.1,884.3 278.7,884.3 279.3,885.1 279.9,884.9 280.5,885.1 281.1,884.8 281.7,884.3 282.3,883.8 283.0,884.7 283.6,884.1 284.2,884.5 284.8,884.6 285.4,883.7 286.0,884.2 286.6,883.9 287.2,884.2 287.8,884.0 288.4,884.6 289.0,884.3 289.6,884.2 290.2,883.8 290.8,884.6 291.4,884.3 292.0,883.7 292.6,883.5 293.2,883.7 293.8,883.8 294.4,884.2 295.0,884.4 295.6,884.5 296.2,884.7 296.8,884.3 297.5,884.6 298.1,884.2 298.7,884.5 299.3,884.1 299.9,884.1 300.5,883.6 301.1,884.0 301.7,884.4 302.3,884.0 302.9,883.7 303.5,883.8 304.1,883.9 304.7,883.8 305.3,884.0 305.9,884.1 306.5,883.4 307.1,883.6 307.7,883.6 308.3,883.9 308.9,884.2 309.5,883.6 310.1,883.8 310.7,883.7 311.3,883.8 311.9,884.1 312.6,883.8 313.2,884.0 313.8,883.5 314.4,883.3 315.0,883.5 315.6,883.5 316.2,883.9 316.8,883.9 317.4,883.9 318.0,883.4 318.6,883.0 319.2,883.6 319.8,883.5" fill="none" stroke="#f00000" stroke-width="1.2" stroke-linejoin="round"/>
<path d="M73.8,861.5 74.4,862.6 75.0,862.3 75.6,862.2 76.2,862.2 76.8,862.2 77.4,861.4 78.1,861.4 78.7,862.0 79.3,861.9 79.9,862.1 80.5,862.7 81.1,862.8 81.7,863.2 82.3,862.8 82.9,862.5 83.5,862.4 84.1,862.6 84.7,863.0 85.3,862.8 86.0,863.0 86.6,862.7 87.2,862.8 87.8,862.8 88.4,862.6 89.0,863.6 89.6,863.0 90.2,863.2 90.8,863.6 91.4,863.3 92.0,862.5 92.6,863.1 93.2,863.0 93.9,863.4 94.5,863.5 95.1,863.5 95.7,863.2 96.3,863.1 96.9,863.1 97.5,863.4 98.1,863.5 98.7,863.5 99.3,863.9 99.9,864.1 100.5,864.1 101.2,863.6 101.8,863.3 102.4,863.5 103.0,864.0 103.6,863.4 104.2,863.6 104.8,863.8 105.4,864.1 106.0,863.8 106.6,863.4 107.2,862.9 107.8,863.4 108.4,863.9 109.1,863.6 109.7,863.5 110.3,863.9 110.9,863.6 111.5,863.7 112.1,863.9 112.7,864.2 112.8,863.6 113.0,863.1 113.1,861.6 113.3,861.8 113.4,861.1 113.6,860.8 113.7,860.3 113.9,859.5 114.0,858.9 114.2,858.0 114.3,857.9 114.5,857.0 114.6,856.1 114.6,855.6 114.7,855.6 114.7,855.2 114.8,854.8 114.8,853.9 114.9,853.4 114.9,852.7 115.0,851.8 115.0,851.8 115.0,850.9 115.1,850.8 115.1,849.5 115.2,849.7 115.2,848.6 115.3,847.7 115.3,846.6 115.4,846.7 115.4,846.6 115.4,845.2 115.5,845.0 115.5,844.2 115.6,843.8 115.6,843.1 115.7,842.1 115.7,842.2 115.8,841.9 115.8,841.3 115.9,839.5 115.9,839.5 115.9,839.1 116.0,837.8 116.0,837.3 116.1,836.4 116.1,835.9 116.2,835.0 116.2,834.9 116.3,834.3 116.3,833.5 116.3,832.7 116.4,832.6 116.4,831.7 116.5,831.2 116.5,830.8 116.6,830.1 116.6,829.7 116.7,828.4 116.7,828.1 116.7,827.6 116.8,826.8 116.8,826.7 116.9,826.0 116.9,825.2 117.0,824.8 117.0,824.7 117.1,823.7 117.1,822.8 117.1,822.5 117.2,821.5 117.2,820.8 117.3,820.5 117.3,820.0 117.4,819.3 117.4,819.5 117.5,818.6 117.5,817.3 117.6,817.2 117.6,816.5 117.6,815.7 117.7,814.6 117.7,814.0 117.8,813.8 117.8,813.3 117.9,812.4 117.9,812.3 118.0,811.0 118.0,810.9 118.0,810.4 118.1,810.0 118.1,808.6 118.2,807.8 118.2,808.1 118.3,807.4 118.3,806.4 118.4,805.8 118.4,805.2 118.4,805.0 118.5,804.6 118.5,804.0 118.5,802.6 118.6,802.3 118.6,801.2 118.6,801.0 118.6,800.2 118.7,800.0 118.7,799.4 118.7,799.1 118.8,798.3 118.8,798.0 118.8,797.5 118.9,796.2 118.9,795.0 118.9,795.1 119.0,795.1 119.0,793.9 119.0,793.8 119.1,793.1 119.1,792.6 119.1,792.0 119.1,790.8 119.2,790.4 119.2,789.5 119.2,789.0 119.3,788.3 119.3,787.8 119.3,787.0 119.4,786.4 119.4,785.8 119.4,785.8 119.5,784.4 119.5,784.4 119.5,783.7 119.6,782.9 119.6,782.9 119.6,782.1 119.6,780.7 119.7,780.4 119.7,779.7 119.7,779.5 119.8,779.0 119.8,778.5 119.8,777.5 119.9,776.4 119.9,776.1 119.9,775.5 120.0,775.0 120.0,774.1 120.0,774.3 120.0,773.1 120.1,772.1 120.1,772.5 120.1,771.9 120.2,770.9 120.2,770.3 120.2,769.8 120.3,769.1 120.3,768.4 120.3,768.3 120.4,768.2 120.4,767.8 120.4,766.0 120.5,765.6 120.5,765.1 120.5,764.3 120.5,763.8 120.6,763.3 120.6,762.7 120.6,762.5 120.7,761.5 120.7,760.9 120.7,759.4 120.8,759.2 120.8,759.3 120.8,757.8 120.9,756.9 120.9,756.5 120.9,757.1 121.0,756.2 121.0,755.5 121.0,754.9 121.0,753.7 121.1,753.8 121.1,753.1 121.1,752.2 121.2,751.7 121.2,751.5 121.7,750.9 122.3,750.6 122.8,750.4 123.4,749.8 123.9,749.1 124.5,748.8 125.0,748.5 125.3,749.4 125.5,749.7 125.8,750.5 126.0,750.7 126.3,750.6 126.5,751.6 126.8,752.2 127.0,753.0 127.3,753.7 127.5,754.1 127.8,754.7 128.0,755.5 128.3,755.7 128.5,755.7 128.8,757.1 129.3,757.3 129.9,757.6 130.4,758.3 131.0,758.8 131.5,758.9 132.1,758.8 132.6,758.9 133.1,758.8 133.7,759.9 134.2,760.0 134.8,760.4 135.3,760.5 135.9,760.5 136.4,760.7 136.9,761.2 137.4,761.7 137.9,761.8 138.4,761.9 138.9,762.4 139.4,762.8 139.9,764.3 140.4,764.1 140.9,764.0 141.4,763.8 141.9,764.5 142.4,765.3 142.9,765.3 143.4,765.7 143.9,766.0 144.4,766.0 144.9,766.4 145.4,766.7 145.9,767.4 146.4,767.9 146.8,768.4 147.3,768.6 147.7,768.9 148.2,769.8 148.6,770.1 149.1,770.9 149.5,771.1 150.0,771.6 150.4,771.7 150.9,772.2 151.3,772.6 151.8,772.9 152.2,773.2 152.7,773.0 153.1,774.4 153.6,774.7 154.0,774.8 154.5,774.8 154.9,775.1 155.4,776.3 156.0,776.5 156.6,776.8 157.2,776.9 157.8,776.5 158.4,776.4 159.0,776.3 159.6,777.1 160.2,776.9 160.7,776.9 161.3,777.6 161.9,777.6 162.5,777.8 163.1,777.8 163.7,777.8 164.3,777.8 164.9,778.2 165.3,778.6 165.8,779.3 166.2,780.0 166.7,779.9 167.1,780.6 167.5,781.5 168.0,781.8 168.4,781.8 168.8,783.0 169.3,782.9 169.7,783.5 170.2,784.6 170.6,784.3 171.0,784.6 171.5,785.3 171.9,786.3 172.4,786.9 172.8,787.3 173.2,787.4 173.7,788.1 174.1,787.9 174.5,788.7 175.0,789.8 175.4,789.7 175.9,789.5 176.3,789.7 176.7,791.0 177.2,791.2 177.6,791.7 178.1,791.5 178.5,792.6 178.9,792.8 179.4,792.6 179.8,793.7 180.2,794.0 180.7,794.1 181.1,794.7 181.6,795.5 182.0,795.7 182.4,795.9 182.9,795.7 183.3,796.7 183.8,797.6 184.2,798.7 184.6,798.2 185.1,799.6 185.5,799.5 185.9,800.0 186.4,800.5 186.8,801.0 187.3,801.1 187.7,801.7 188.0,801.8 188.3,802.8 188.6,803.4 188.8,804.3 189.1,805.3 189.4,805.4 189.7,805.8 190.0,805.7 190.3,806.3 190.7,807.6 191.0,807.5 191.4,808.1 191.7,808.4 192.0,808.8 192.4,809.4 192.7,809.9 193.1,810.3 193.4,811.2 193.7,811.4 194.1,811.8 194.4,812.4 194.8,812.6 195.1,813.3 195.4,814.3 195.8,814.2 196.1,814.7 196.5,815.7 196.8,816.5 197.1,817.4 197.5,817.8 197.8,818.0 198.2,818.2 198.5,818.3 198.8,818.9 199.2,819.4 199.5,820.3 199.9,820.4 200.2,820.8 200.6,821.4 201.1,821.5 201.5,822.6 202.0,823.0 202.4,823.4 202.8,824.0 203.3,824.3 203.7,824.9 204.2,825.8 204.6,826.0 205.0,826.3 205.5,827.2 205.9,827.0 206.3,827.3 206.8,827.7 207.2,828.5 207.7,829.4 208.1,829.5 208.5,829.6 209.0,829.9 209.4,830.5 209.9,830.9 210.3,831.7 210.7,832.3 211.2,832.6 211.6,832.8 212.1,833.5 212.5,833.1 213.1,833.5 213.7,833.6 214.3,833.2 214.9,834.1 215.5,833.9 216.1,833.8 216.7,834.0 217.2,834.2 217.8,834.2 218.4,834.9 219.0,834.8 219.6,835.3 220.2,835.7 220.8,835.0 221.4,835.3 222.0,835.5 222.6,835.4 223.2,835.6 223.8,836.0 224.4,836.1 225.0,836.0 225.6,836.3 226.2,836.7 226.7,836.3 227.3,837.0 227.9,836.8 228.5,836.5 229.1,836.5 229.7,837.5 230.3,837.6 230.9,837.5 231.5,837.8 232.1,837.9 232.7,838.4 233.3,838.4 233.9,838.6 234.5,838.8 235.1,839.0 235.7,838.8 236.3,838.7 236.9,838.7 237.5,839.2 238.1,839.5 238.6,839.3 239.2,839.4 239.8,839.6 240.4,840.2 241.0,839.7 241.6,840.0 242.2,839.8 242.8,840.1 243.4,840.3 244.0,840.3 244.6,840.4 245.2,840.5 245.5,840.2 245.9,839.6 246.2,839.3 246.6,839.1 246.9,838.3 247.2,837.4 247.6,836.5 247.9,836.5 248.2,836.3 248.6,835.7 248.9,834.6 249.3,834.3 249.6,833.3 249.9,833.3 250.3,832.8 250.6,832.1 251.0,832.2 251.3,831.9 251.5,831.0 251.6,830.2 251.8,829.9 252.0,829.0 252.2,828.8 252.3,827.7 252.5,827.7 252.7,827.2 252.9,826.9 253.0,826.4 253.2,825.5 253.4,825.1 253.6,824.0 253.7,823.9 253.9,822.8 254.1,822.6 254.3,821.7 254.4,820.9 254.6,820.4 254.8,820.0 255.0,818.6 255.1,818.5 255.3,817.7 255.5,817.6 255.7,817.3 255.8,816.3 256.0,815.5 256.2,815.1 256.4,814.1 256.5,813.3 256.7,812.8 256.9,812.5 257.1,812.7 257.2,812.2 257.4,810.8 257.6,810.6 257.9,809.8 258.1,809.9 258.4,808.9 258.6,808.5 258.8,807.9 259.1,807.6 259.3,806.3 259.5,806.0 259.8,805.2 260.0,804.4 260.3,803.9 260.5,802.7 260.7,802.3 261.0,802.2 261.2,802.4 261.5,801.8 261.7,801.2 261.9,800.5 262.2,800.0 262.4,800.1 262.6,799.4 262.9,799.0 263.1,798.0 263.4,797.4 263.6,797.1 263.8,796.1 263.9,795.1 264.1,795.1 264.3,794.6 264.5,793.5 264.6,793.1 264.8,792.1 265.0,791.9 265.2,791.6 265.3,791.7 265.5,790.3 265.7,789.5 265.9,789.1 266.0,788.6 266.2,788.3 266.4,787.6 266.6,787.0 266.7,786.2 266.9,785.6 267.1,784.9 267.3,784.4 267.4,784.1 267.6,782.9 267.8,782.8 268.0,782.2 268.1,782.1 268.3,781.1 268.5,780.1 268.7,779.4 268.8,779.1 269.0,778.2 269.2,777.7 269.4,777.0 269.5,776.8 269.7,775.6 269.8,775.3 269.9,774.3 270.0,774.2 270.1,774.1 270.3,773.7 270.4,772.9 270.5,772.6 270.6,771.8 270.7,771.1 270.8,770.4 270.9,769.7 271.0,769.7 271.1,768.5 271.3,767.8 271.4,767.1 271.5,766.8 271.6,766.9 271.7,766.0 271.8,765.3 271.9,765.4 272.0,764.8 272.1,763.7 272.3,762.7 272.4,761.9 272.5,761.6 272.6,761.0 272.7,760.1 272.8,759.6 272.9,759.5 273.0,759.2 273.1,758.6 273.2,757.5 273.4,756.9 273.5,755.8 273.6,756.0 273.7,755.4 273.8,754.7 273.9,753.5 274.0,752.9 274.1,753.3 274.2,752.7 274.4,751.4 274.5,750.6 274.6,750.5 274.7,749.6 274.8,748.5 274.9,748.0 275.0,747.4 275.1,746.9 275.2,746.2 275.4,744.9 275.5,744.8 275.6,744.2 275.7,744.1 275.8,743.3 276.0,742.6 276.2,741.5 276.5,740.9 276.7,740.5 276.9,739.9 277.1,739.4 277.4,739.0 277.6,739.0 277.8,738.5 278.0,739.5 278.2,738.5 278.5,738.1 278.7,737.3 278.9,735.4 279.5,737.5 280.1,734.5 280.7,732.8 281.3,733.4 281.9,734.5 282.5,736.0 283.1,733.5 283.7,732.3 284.3,732.3 284.9,733.0 285.5,734.4 286.2,734.7 286.8,733.7 287.4,731.5 288.0,732.0 288.6,734.8 289.2,734.3 289.8,734.3 290.4,732.5 291.0,735.4 291.6,735.7 292.2,734.3 292.8,734.3 293.4,735.8 294.0,732.6 294.6,732.2 295.2,732.5 295.8,733.5 296.4,731.7 297.0,732.5 297.6,731.9 298.2,735.0 298.8,733.2 299.4,733.8 300.0,735.0 300.6,733.8 301.2,731.5 301.8,733.7 302.4,731.4 303.0,730.8 303.6,731.6 304.2,732.3 304.8,731.2 305.4,734.0 306.0,733.9 306.6,730.8 307.2,732.7 307.8,728.8 308.4,729.0 309.0,729.2 309.6,730.4 310.2,730.8 310.8,730.3 311.4,730.3 312.0,732.4 312.6,733.1 313.2,732.0 313.8,731.4 314.4,731.9 315.0,730.8 315.6,731.2 316.2,731.5 316.8,731.0 317.4,732.0 318.0,732.1 318.6,729.5 319.2,730.7 319.8,730.3" fill="none" stroke="#000" stroke-width="1.4" stroke-linejoin="round"/>
<path d="M73.8,864.0 74.4,864.3 75.0,864.3 75.6,864.7 76.2,864.0 76.8,863.6 77.4,864.8 78.0,864.5 78.6,864.9 79.2,864.7 79.8,864.7 80.4,865.8 81.0,865.2 81.6,865.9 82.2,865.5 82.8,865.3 83.4,865.4 84.0,864.8 84.6,865.1 85.2,865.3 85.8,865.0 86.4,865.2 87.0,865.2 87.6,865.2 88.2,865.3 88.8,865.3 89.4,866.0 90.0,865.9 90.6,865.9 91.2,866.0 91.8,865.7 92.4,866.4 93.0,866.1 93.5,865.8 94.1,866.5 94.7,866.4 95.3,866.1 95.9,866.3 96.5,866.3 97.1,866.1 97.7,866.5 98.3,866.7 98.9,867.1 99.5,866.9 100.1,866.4 100.7,866.7 101.3,866.6 101.9,866.4 102.5,867.6 103.1,867.8 103.7,867.2 104.3,866.6 104.9,867.0 105.5,867.6 106.1,867.7 106.7,866.9 107.3,867.9 107.9,866.5 108.5,867.2 109.1,867.5 109.7,867.3 110.3,868.2 110.9,866.8 111.5,867.3 112.1,867.2 112.7,867.5 112.8,867.1 112.9,866.6 113.0,866.1 113.1,865.5 113.2,864.9 113.3,865.1 113.4,863.7 113.5,863.2 113.6,862.8 113.7,861.9 113.8,861.3 113.9,860.9 114.0,860.1 114.2,859.9 114.3,858.7 114.4,858.2 114.5,857.8 114.6,857.4 114.7,856.5 114.8,856.3 114.9,856.0 115.0,855.1 115.1,853.8 115.2,852.7 115.3,852.3 115.4,852.1 115.5,851.9 115.6,851.6 115.8,850.9 116.0,850.0 116.3,850.2 116.5,849.4 116.7,848.5 116.9,848.1 117.1,847.3 117.4,847.2 117.6,846.7 117.8,845.7 118.0,844.7 118.2,844.1 118.5,843.4 118.7,842.9 118.9,842.2 119.1,842.1 119.3,841.4 119.6,840.6 119.8,839.9 120.0,839.8 120.2,839.6 120.5,838.9 120.7,838.5 120.9,837.4 121.1,837.1 121.3,836.8 121.6,835.9 121.8,835.4 122.0,834.7 122.2,834.4 122.4,834.3 122.7,833.5 122.9,833.1 123.1,832.6 123.4,831.8 123.7,831.0 124.0,830.4 124.4,829.7 124.7,829.6 125.0,828.3 125.3,828.1 125.6,828.2 126.0,827.9 126.3,827.4 126.6,827.3 126.9,826.3 127.2,825.9 127.5,824.8 127.9,823.8 128.2,823.9 128.5,823.2 128.8,822.4 128.9,822.8 128.9,822.0 129.0,820.9 129.0,820.0 129.1,819.9 129.1,819.3 129.2,818.5 129.2,817.7 129.2,816.7 129.3,816.5 129.4,816.0 129.4,815.4 129.5,815.1 129.5,814.9 129.6,814.0 129.6,813.2 129.7,812.8 129.7,811.8 129.8,810.9 129.8,811.2 129.8,810.3 129.9,809.8 130.0,808.8 130.0,808.0 130.1,807.3 130.1,806.9 130.2,806.0 130.2,805.8 130.2,805.0 130.3,804.2 130.3,804.4 130.4,803.9 130.5,802.5 130.5,802.3 130.6,801.3 130.6,800.6 130.7,800.1 130.7,799.1 130.8,798.7 130.8,798.4 130.8,797.7 130.9,797.2 130.9,796.4 131.0,795.7 131.1,795.2 131.1,794.4 131.2,793.7 131.2,793.5 131.2,793.6 131.3,792.6 131.3,792.0 131.4,791.4 131.4,791.1 131.5,790.9 131.6,790.0 131.6,788.9 131.7,788.2 131.7,788.0 131.8,787.3 131.8,786.8 131.8,785.9 131.9,785.6 131.9,785.1 132.0,783.5 132.0,783.2 132.1,783.3 132.2,781.8 132.2,782.3 132.2,781.9 132.3,780.7 132.3,780.2 132.4,779.3 132.4,777.8 132.5,777.1 132.5,777.1 132.6,777.7 132.6,776.8 132.7,775.3 132.7,775.1 132.8,773.8 132.8,773.9 132.9,773.0 132.9,772.8 133.0,771.9 133.0,771.1 133.0,770.8 133.1,769.9 133.1,769.2 133.2,769.1 133.2,768.6 133.3,768.1 133.3,767.0 133.3,766.6 133.4,766.0 133.4,765.7 133.5,765.2 133.5,764.4 133.6,764.1 133.6,763.6 133.7,762.4 133.7,761.8 133.7,761.2 133.8,760.5 133.8,759.5 133.9,759.3 133.9,758.4 134.0,757.9 134.0,757.0 134.1,757.1 134.1,756.7 134.1,756.5 134.2,755.5 134.2,755.0 134.3,753.3 134.3,753.4 134.4,752.8 134.4,752.3 134.4,751.8 134.5,750.7 134.5,749.9 134.6,749.2 134.6,748.8 134.7,748.6 134.7,747.7 134.8,746.9 134.8,747.0 134.8,746.0 134.9,745.9 134.9,745.0 135.0,744.2 135.0,743.3 135.1,742.4 135.1,743.3 135.1,742.1 135.2,741.2 135.2,740.8 135.3,739.8 135.3,740.0 135.4,738.5 135.4,738.5 135.5,737.9 135.5,737.3 136.1,736.7 136.8,736.4 137.4,735.9 137.6,736.5 137.7,737.4 137.9,738.1 138.0,738.8 138.2,739.7 138.3,740.1 138.5,740.3 138.7,741.1 138.8,742.2 139.0,741.7 139.1,742.2 139.3,743.0 139.5,743.6 139.6,744.3 139.8,744.6 139.9,745.5 140.1,746.3 140.2,746.4 140.4,746.7 140.6,747.5 140.7,748.4 140.9,749.5 141.0,749.6 141.2,749.4 141.8,751.0 142.4,751.1 143.0,750.4 143.6,750.5 144.2,751.2 144.8,749.5 145.4,750.4 146.1,750.3 146.7,751.2 147.3,750.5 147.9,750.7 148.5,751.0 149.1,751.6 149.7,752.0 150.3,752.6 150.9,751.4 151.5,752.6 152.1,752.8 152.7,752.5 153.3,752.8 153.9,753.3 154.4,753.7 155.0,753.6 155.6,753.5 156.2,751.7 156.8,753.3 157.4,753.6 158.0,753.8 158.6,754.6 159.2,755.0 159.6,756.4 160.1,755.0 160.5,755.0 160.9,755.3 161.4,755.0 161.8,757.2 162.2,756.4 162.7,758.2 163.1,757.8 163.5,758.9 163.9,758.5 164.4,758.8 164.8,759.5 165.2,760.1 165.7,759.9 166.1,761.5 166.5,761.0 167.0,761.9 167.4,761.8 167.8,763.7 168.3,764.4 168.7,763.4 168.9,763.1 169.2,765.0 169.4,764.3 169.6,765.6 169.9,765.1 170.1,765.7 170.3,765.8 170.6,766.6 170.8,768.3 171.1,768.8 171.3,769.3 171.5,769.9 171.8,770.0 172.0,771.1 172.2,771.8 172.5,772.6 172.7,773.9 172.9,774.6 173.2,773.9 173.4,774.6 173.5,775.2 173.6,775.6 173.7,776.2 173.8,777.8 173.9,777.7 174.0,779.5 174.1,778.5 174.2,779.9 174.3,780.4 174.4,781.0 174.5,781.6 174.6,782.0 174.7,783.4 174.9,784.3 175.0,784.0 175.1,784.6 175.2,785.3 175.3,785.8 175.4,786.4 175.5,787.5 175.6,787.6 175.7,788.2 175.8,789.5 175.9,789.8 176.0,790.3 176.1,791.2 176.2,792.1 176.3,792.1 176.5,793.0 176.7,793.4 177.0,793.5 177.2,794.5 177.4,794.7 177.6,796.5 177.9,796.4 178.1,797.0 178.3,797.3 178.5,798.0 178.8,797.9 179.0,799.2 179.2,800.1 179.4,800.2 179.7,800.6 179.9,801.3 180.1,800.9 180.3,802.1 180.5,802.8 180.8,802.6 181.0,803.8 181.2,804.7 181.4,805.2 181.7,806.2 181.9,806.4 182.1,806.9 182.3,807.4 182.6,807.5 182.8,808.6 183.0,808.1 183.2,809.3 183.5,809.4 183.7,810.5 183.9,810.8 184.4,811.6 184.9,811.7 185.3,812.2 185.8,812.6 186.3,813.2 186.8,813.1 187.2,813.8 187.7,813.8 188.2,814.0 188.7,815.0 189.1,815.4 189.6,816.0 190.1,816.1 190.6,817.1 191.0,817.6 191.5,817.2 192.0,817.8 192.5,818.2 192.9,819.4 193.4,819.4 193.9,819.9 194.3,820.2 194.8,820.2 195.3,820.6 195.7,820.5 196.2,820.9 196.7,821.7 197.2,821.7 197.6,822.3 198.1,822.9 198.6,823.2 199.0,823.8 199.5,824.6 200.0,824.0 200.4,824.7 200.9,824.9 201.4,825.7 201.8,825.9 202.3,826.3 202.9,826.9 203.4,827.4 204.0,827.0 204.5,826.9 205.1,827.8 205.6,827.8 206.2,828.0 206.7,828.4 207.3,828.9 207.8,829.1 208.4,830.3 209.0,829.9 209.5,829.8 210.1,830.1 210.6,830.2 211.2,830.7 211.7,830.6 212.3,831.7 212.8,831.4 213.4,832.5 213.9,832.1 214.5,832.8 215.1,832.4 215.7,832.7 216.3,833.3 216.9,833.1 217.5,832.6 218.1,833.7 218.8,833.1 219.4,832.9 220.0,833.2 220.6,833.8 221.2,834.0 221.8,834.3 222.4,834.2 223.0,834.3 223.6,834.2 224.2,834.8 224.8,834.7 225.4,834.6 226.0,834.8 226.6,835.7 227.3,835.6 227.9,835.2 228.5,835.0 229.1,835.1 229.7,835.7 230.3,835.4 230.9,835.0 231.5,835.5 232.1,835.7 232.7,835.4 233.3,835.8 233.9,835.9 234.5,835.5 235.1,836.1 235.7,836.3 236.3,836.4 236.9,836.4 237.5,836.5 238.1,836.5 238.7,835.6 239.4,836.7 240.0,836.9 240.6,837.1 241.2,836.9 241.8,837.2 242.4,836.6 243.0,837.0 243.6,837.3 244.2,836.4 244.8,837.3 245.4,837.1 246.0,837.3 246.6,837.4 247.2,837.8 247.3,837.0 247.5,836.1 247.6,835.3 247.8,835.3 247.9,834.6 248.1,834.1 248.2,833.4 248.4,832.9 248.5,832.0 248.7,831.3 248.8,831.0 249.0,830.5 249.1,829.6 249.2,829.0 249.4,828.3 249.5,828.4 249.7,827.7 249.8,826.7 250.0,826.3 250.1,825.8 250.3,826.1 250.4,825.1 250.6,824.3 250.7,823.6 250.9,823.0 251.0,821.7 251.2,821.7 251.3,820.8 251.4,820.5 251.4,820.2 251.5,819.0 251.5,818.9 251.6,818.8 251.6,817.6 251.7,817.5 251.7,816.4 251.8,816.0 251.8,814.7 251.9,814.8 252.0,814.0 252.0,812.7 252.1,813.0 252.1,812.0 252.2,811.2 252.2,811.0 252.3,810.6 252.3,810.1 252.4,809.7 252.4,808.7 252.5,807.7 252.6,807.1 252.6,807.4 252.7,806.1 252.7,805.6 252.8,805.2 252.8,804.8 252.9,804.2 252.9,804.0 253.0,803.0 253.0,802.4 253.1,801.7 253.2,801.9 253.2,801.4 253.3,800.5 253.3,799.1 253.4,798.8 253.4,798.3 253.5,797.9 253.5,796.6 253.6,796.3 253.7,795.2 253.7,794.9 253.8,793.9 253.8,794.1 253.9,793.1 253.9,792.4 254.0,792.6 254.0,791.3 254.1,790.6 254.1,790.0 254.2,790.2 254.3,789.2 254.3,788.4 254.4,787.7 254.4,787.2 254.5,786.3 254.5,786.2 254.6,785.3 254.6,784.3 254.7,783.9 254.7,783.2 254.8,782.9 254.9,782.1 254.9,782.1 255.0,780.6 255.0,780.4 255.1,780.1 255.1,778.6 255.2,778.5 255.2,778.1 255.3,777.0 255.3,777.2 255.4,776.0 255.6,775.5 255.8,775.6 256.0,774.3 256.2,774.0 256.4,773.1 256.6,772.1 256.8,772.0 257.0,771.7 257.2,771.0 257.4,771.1 257.5,770.3 257.7,770.0 257.9,768.6 258.1,767.6 258.3,767.6 258.5,766.5 258.7,766.3 258.9,765.8 259.1,765.3 259.3,764.9 259.5,764.0 259.8,763.5 260.2,763.1 260.5,762.6 260.9,762.4 261.2,761.4 261.6,760.8 261.9,760.6 262.2,759.5 262.6,760.3 262.9,759.2 263.3,758.5 263.6,758.6 263.9,758.2 264.3,757.0 264.6,756.6 265.0,755.7 265.3,755.3 265.6,754.1 266.0,754.2 266.3,754.2 266.7,753.3 267.0,752.6 267.4,752.4 267.7,752.8 268.0,751.5 268.3,751.0 268.5,749.7 268.8,749.3 269.1,749.0 269.4,748.3 269.6,747.8 269.9,747.3 270.2,746.6 270.5,746.6 270.8,746.1 271.0,744.5 271.3,744.5 271.6,744.1 271.9,743.0 272.1,742.9 272.4,742.1 272.7,741.6 273.0,740.2 273.2,740.9 273.5,740.2 273.8,739.4 274.2,739.1 274.7,738.7 275.1,738.4 275.5,738.1 276.0,737.6 276.4,737.0 276.9,736.7 277.3,735.9 277.7,735.4 278.2,734.5 278.6,735.0 279.0,733.0 279.5,734.2 279.9,731.1 280.5,732.0 281.1,732.2 281.7,734.3 282.2,733.0 282.8,730.9 283.4,733.2 284.0,731.5 284.6,732.5 285.2,731.7 285.8,733.3 286.3,732.8 286.9,730.8 287.5,732.1 288.1,730.9 288.7,729.6 289.3,728.8 289.9,729.6 290.4,731.0 291.0,727.8 291.6,729.0 292.2,729.2 292.8,729.4 293.4,728.5 294.0,729.6 294.7,728.6 295.3,729.8 295.9,727.4 296.5,729.4 297.1,729.9 297.7,728.8 298.4,731.5 299.0,729.9 299.6,731.0 300.2,730.5 300.8,731.0 301.4,729.0 302.0,731.1 302.7,731.0 303.3,730.1 303.9,729.3 304.5,728.9 305.1,727.6 305.7,727.6 306.3,731.4 306.9,727.7 307.6,726.6 308.2,726.6 308.8,726.2 309.4,726.2 310.0,727.3 310.6,727.4 311.2,725.9 311.8,728.4 312.5,729.8 313.1,730.6 313.7,726.7 314.3,727.0 314.9,726.4 315.5,729.7 316.1,728.4 316.7,728.2 317.4,727.6 318.0,726.6 318.6,726.0 319.2,726.4 319.8,727.3" fill="none" stroke="#000" stroke-width="1.4" stroke-linejoin="round"/>
<path d="M73.8,872.2 74.4,871.9 75.0,872.0 75.6,872.4 76.2,872.5 76.8,872.5 77.4,872.1 78.0,872.3 78.6,872.8 79.2,872.2 79.8,872.3 80.4,872.5 81.0,872.4 81.6,872.3 82.2,872.7 82.8,872.4 83.4,872.9 84.0,873.0 84.6,872.7 85.2,873.2 85.8,872.5 86.4,873.3 87.0,873.2 87.6,872.7 88.2,872.8 88.8,873.1 89.4,872.5 90.0,872.9 90.6,873.2 91.2,873.3 91.8,873.1 92.4,873.2 93.0,872.7 93.5,872.7 94.1,872.9 94.7,873.3 95.3,872.7 95.9,873.1 96.5,873.3 97.1,873.1 97.7,873.0 98.3,873.3 98.9,873.5 99.5,873.7 100.1,873.8 100.7,873.7 101.3,873.3 101.9,873.7 102.5,873.6 103.1,873.4 103.7,874.1 104.3,874.1 104.9,873.5 105.5,873.5 106.1,874.3 106.7,874.3 107.3,874.1 107.9,874.2 108.5,874.2 109.1,874.4 109.7,873.9 110.3,874.2 110.9,874.5 111.5,874.9 112.1,875.3 112.7,875.0 112.8,874.4 112.9,873.7 113.0,872.9 113.1,872.9 113.2,871.4 113.3,871.1 113.4,870.8 113.5,870.3 113.6,869.2 113.7,869.1 113.7,868.8 113.8,867.8 113.9,866.8 114.0,866.2 114.1,866.2 114.2,865.1 114.3,864.8 114.4,864.0 114.5,863.5 114.6,863.1 114.7,862.5 114.8,862.2 114.9,861.0 115.0,860.5 115.1,860.4 115.2,859.2 115.3,859.5 115.4,858.8 115.5,858.1 115.5,857.2 115.6,856.1 115.7,854.9 115.8,854.6 115.9,854.0 116.0,854.1 116.1,853.1 116.2,852.3 116.3,851.5 116.4,850.7 116.5,851.3 116.9,850.5 117.4,849.9 117.8,849.9 118.3,849.7 118.7,849.4 119.2,848.6 119.6,848.1 120.1,847.5 120.5,847.2 121.0,847.5 121.4,847.2 121.9,845.9 122.3,846.2 122.8,845.1 123.2,844.7 123.7,844.1 124.1,844.2 124.6,843.5 125.0,843.1 125.4,842.7 125.9,842.8 126.3,842.2 126.7,841.5 127.2,840.8 127.6,840.3 128.0,840.9 128.5,839.7 128.9,839.4 129.3,839.0 129.8,839.4 130.2,838.2 130.6,837.8 131.0,837.5 131.5,837.5 131.9,836.5 132.3,836.2 132.8,835.8 133.2,835.1 133.6,834.6 134.1,834.2 134.5,834.4 134.7,833.6 134.9,833.1 135.1,832.6 135.3,831.6 135.4,830.9 135.6,830.1 135.8,830.2 136.0,829.6 136.2,828.4 136.4,828.0 136.6,826.9 136.8,826.0 137.0,825.8 137.2,825.6 137.3,825.4 137.5,824.4 137.7,824.5 137.9,823.3 138.1,822.8 138.3,822.5 138.5,822.3 138.7,821.1 138.9,820.5 139.1,820.5 139.2,819.6 139.4,819.8 139.6,819.2 139.8,818.2 140.0,817.5 140.2,816.7 140.4,816.2 140.6,815.9 140.8,815.3 141.0,814.8 141.2,813.8 141.3,813.4 141.5,812.4 141.7,812.1 141.9,811.6 142.1,811.1 142.3,810.4 142.5,809.4 142.7,809.2 142.9,808.6 143.1,808.0 143.2,807.4 143.4,807.6 143.6,806.3 143.8,806.2 144.0,805.1 144.2,805.0 144.4,803.9 144.6,803.9 144.8,803.1 145.0,802.9 145.1,802.6 145.3,802.1 145.5,801.1 145.7,800.4 145.9,799.0 146.2,799.1 146.4,798.8 146.7,797.8 147.0,797.6 147.3,797.1 147.5,796.5 147.8,795.7 148.1,796.2 148.3,795.2 148.6,794.6 148.9,793.8 149.2,793.1 149.4,792.9 149.7,792.6 150.0,792.0 150.2,791.4 150.5,790.6 150.8,790.0 151.1,789.2 151.3,788.7 151.6,787.8 151.9,787.5 152.1,787.0 152.4,787.1 152.7,786.4 153.0,785.9 153.2,785.6 153.5,785.1 153.8,784.3 154.0,783.9 154.3,782.6 154.6,782.4 154.9,781.8 155.1,781.3 155.4,780.8 156.0,780.6 156.6,780.1 157.2,780.5 157.8,780.3 158.4,780.6 159.0,779.8 159.6,779.7 160.2,779.5 160.7,779.6 161.3,779.7 161.9,779.1 162.5,778.9 163.1,778.8 163.7,778.9 164.3,778.8 164.9,779.1 165.4,779.6 165.9,779.9 166.4,779.9 166.9,780.3 167.4,780.4 167.9,781.1 168.4,781.8 169.0,781.8 169.5,781.9 170.0,782.7 170.5,782.6 171.0,783.6 171.5,783.6 172.0,784.0 172.5,784.6 172.9,785.2 173.4,785.0 173.8,785.9 174.3,785.8 174.7,786.3 175.1,786.8 175.6,787.2 176.0,788.1 176.4,788.3 176.9,789.1 177.3,789.6 177.8,790.1 178.2,790.8 178.6,790.8 179.1,790.8 179.5,791.6 180.0,792.1 180.4,792.1 180.8,792.4 181.3,793.1 181.7,793.5 182.1,794.1 182.6,795.2 183.0,795.1 183.5,796.1 183.9,796.2 184.3,796.7 184.6,797.0 185.0,797.7 185.4,797.8 185.7,798.6 186.1,799.5 186.5,799.7 186.8,799.7 187.2,800.4 187.6,800.9 187.9,801.4 188.3,801.7 188.7,802.3 189.1,803.0 189.4,804.2 189.8,804.0 190.2,805.0 190.5,804.9 190.9,805.4 191.3,806.5 191.6,807.2 192.0,806.9 192.2,807.7 192.4,808.8 192.6,808.5 192.8,809.4 193.1,809.9 193.3,810.5 193.5,811.2 193.7,811.9 193.9,812.7 194.1,813.7 194.3,813.6 194.5,814.0 194.7,814.8 194.9,815.4 195.2,815.9 195.4,816.0 195.6,816.9 195.8,816.6 196.0,817.7 196.2,818.4 196.4,819.5 196.6,819.7 196.8,820.5 197.0,821.4 197.3,821.9 197.5,822.0 197.7,823.0 197.9,823.1 198.1,823.7 198.3,824.2 198.5,825.5 198.7,826.0 198.9,825.9 199.1,826.7 199.4,826.8 199.6,827.6 199.8,828.8 200.0,828.8 200.2,829.7 200.5,830.0 200.8,831.0 201.1,830.7 201.4,831.9 201.7,832.2 201.9,832.6 202.2,833.4 202.5,833.1 202.8,833.8 203.1,834.2 203.4,834.5 203.7,835.3 204.0,835.8 204.3,836.4 204.6,836.9 204.9,837.1 205.2,838.0 205.4,838.0 205.7,839.5 206.0,840.1 206.3,840.5 206.6,841.0 206.9,841.7 207.2,842.0 207.5,842.5 207.8,842.4 208.1,843.0 208.4,843.1 208.7,844.1 208.9,845.0 209.2,845.5 209.5,846.5 209.8,846.8 210.1,847.1 210.4,848.4 210.8,849.0 211.3,848.8 211.7,849.3 212.1,849.8 212.6,850.3 213.0,850.3 213.4,851.2 213.9,850.9 214.3,852.2 214.7,852.4 215.2,852.6 215.6,853.0 216.0,853.1 216.5,853.1 216.9,853.8 217.3,854.4 217.8,855.1 218.2,855.3 218.6,855.9 219.1,856.3 219.5,856.7 219.9,857.7 220.4,857.3 220.8,858.8 221.2,858.7 221.7,859.1 222.1,859.6 222.5,860.3 223.0,860.6 223.4,860.3 223.8,861.2 224.3,861.1 224.7,861.4 225.2,862.0 225.8,862.7 226.3,863.0 226.9,863.5 227.4,863.4 228.0,863.3 228.5,863.8 229.1,864.0 229.7,864.2 230.2,864.7 230.8,865.5 231.3,865.4 231.8,865.9 232.4,865.4 232.9,866.0 233.5,866.2 234.0,867.4 234.6,867.5 235.2,867.3 235.7,867.0 236.2,867.5 236.8,868.6 237.3,868.5 237.9,868.8 238.4,868.8 239.0,869.1 239.6,868.8 240.2,869.9 240.8,869.8 241.5,869.9 242.1,870.4 242.7,870.2 243.3,869.7 243.9,869.4 244.5,869.5 245.2,869.6 245.8,870.3 246.4,870.2 247.0,870.3 247.6,870.7 248.2,871.0 248.8,871.4 249.5,871.2 250.1,870.9 250.7,870.8 251.3,870.7 251.6,870.8 252.0,870.0 252.3,870.2 252.7,869.5 253.0,869.0 253.3,868.0 253.7,867.4 254.0,866.8 254.3,866.6 254.7,865.9 255.0,865.8 255.4,865.9 255.7,864.8 256.0,864.1 256.4,864.3 256.7,863.4 257.1,862.9 257.4,861.8 257.5,861.8 257.6,860.9 257.7,860.7 257.8,859.4 257.9,859.4 258.0,858.5 258.1,857.8 258.3,857.4 258.4,856.7 258.5,856.2 258.6,855.3 258.7,855.1 258.8,854.2 258.9,853.8 259.0,853.1 259.1,852.6 259.2,852.2 259.3,851.7 259.4,850.8 259.5,850.0 259.6,849.2 259.8,848.7 259.9,848.4 260.0,847.4 260.1,847.4 260.2,846.8 260.3,845.9 260.4,845.4 260.5,844.7 260.6,844.4 260.7,843.7 260.8,842.7 260.9,842.1 261.0,841.6 261.1,841.2 261.2,840.5 261.4,839.6 261.5,838.9 261.6,838.5 261.7,837.8 261.8,837.2 261.9,837.2 262.0,836.8 262.1,835.9 262.2,834.9 262.3,834.4 262.4,834.4 262.5,833.6 262.6,832.6 262.7,832.6 262.9,832.1 263.0,830.6 263.1,830.3 263.2,829.4 263.3,829.6 263.4,828.4 263.5,828.4 263.6,827.5 263.7,826.5 263.7,826.8 263.8,825.6 263.9,824.6 264.0,824.6 264.0,823.7 264.1,822.9 264.2,822.6 264.2,822.5 264.3,821.7 264.4,820.7 264.5,819.9 264.5,819.4 264.6,819.0 264.7,818.1 264.7,817.8 264.8,817.4 264.9,816.8 265.0,815.8 265.0,815.2 265.1,814.7 265.2,814.3 265.3,813.3 265.3,812.8 265.4,812.6 265.5,812.1 265.5,811.0 265.6,810.6 265.7,810.2 265.8,809.6 265.8,808.7 265.9,807.9 266.0,807.4 266.0,807.1 266.1,806.6 266.2,805.1 266.3,805.0 266.3,804.3 266.4,803.8 266.5,803.0 266.5,802.5 266.6,802.2 266.7,800.9 266.8,801.3 266.8,800.2 266.9,800.3 267.0,799.3 267.0,798.5 267.1,797.9 267.2,797.3 267.3,796.4 267.3,796.2 267.4,796.3 267.5,795.1 267.5,794.6 267.6,793.6 267.7,793.8 267.8,792.4 267.8,792.1 267.9,791.0 268.0,790.9 268.0,790.7 268.1,790.2 268.2,789.4 268.3,788.8 268.3,787.3 268.4,787.3 268.5,786.5 268.6,785.7 268.6,785.4 268.7,784.9 268.8,783.7 268.8,783.7 268.9,783.4 269.0,782.4 269.1,782.2 269.1,781.2 269.2,781.0 269.3,779.8 269.3,779.5 269.4,778.6 269.5,777.9 269.6,777.0 269.6,777.0 269.7,776.2 269.8,775.9 269.9,775.6 270.0,774.7 270.1,774.2 270.2,773.1 270.3,772.7 270.4,771.9 270.5,771.4 270.6,770.7 270.7,770.2 270.8,770.0 270.9,769.1 271.0,767.9 271.1,768.1 271.2,767.8 271.3,766.5 271.4,765.6 271.5,765.1 271.6,764.0 271.7,763.9 272.3,764.1 272.8,762.9 273.4,764.3 274.0,763.1 274.6,764.3 275.1,761.9 275.7,761.8 276.3,761.3 276.9,761.5 277.4,761.1 278.0,762.2 278.6,762.3 279.1,760.3 279.7,760.1 280.3,760.9 280.9,760.4 281.4,762.0 282.0,759.3 282.6,759.4 283.1,759.4 283.7,759.9 284.3,759.1 284.9,758.5 285.4,759.0 286.0,759.4 286.6,757.6 287.1,758.9 287.7,757.7 288.3,758.4 288.9,758.4 289.4,758.3 290.0,758.8 290.6,757.4 291.2,758.1 291.7,756.7 292.3,755.7 292.9,754.4 293.4,755.2 294.0,754.2 294.6,754.3 295.2,754.5 295.7,755.6 296.3,754.9 296.9,754.6 297.4,754.1 298.0,753.7 298.5,753.5 299.1,754.0 299.7,753.1 300.2,752.6 300.8,751.6 301.3,751.3 301.9,751.7 302.5,750.8 303.0,751.2 303.6,750.1 304.1,749.8 304.7,749.9 305.3,750.3 305.8,750.1 306.4,750.2 306.9,749.4 307.5,751.3 308.1,749.6 308.6,749.9 309.2,750.5 309.7,749.0 310.3,747.0 310.8,748.0 311.4,747.3 312.0,747.9 312.5,746.8 313.1,748.2 313.6,747.2 314.2,746.4 314.8,745.9 315.3,745.3 315.9,746.1 316.4,746.2 317.0,745.1 317.6,744.4 318.1,745.7 318.7,746.0 319.2,745.1 319.8,744.6" fill="none" stroke="#000" stroke-width="1.4" stroke-linejoin="round"/>
<text x="345.00" y="660.00" font-size="20" text-anchor="start" font-weight="bold" font-style="normal" style="letter-spacing:0">f</text>
<line x1="411.50" y1="664.25" x2="411.50" y2="890.00" stroke="#000" stroke-width="1.3"/>
<line x1="405.00" y1="890.00" x2="411.50" y2="890.00" stroke="#000" stroke-width="1.3"/>
<line x1="405.00" y1="825.50" x2="411.50" y2="825.50" stroke="#000" stroke-width="1.3"/>
<line x1="405.00" y1="761.00" x2="411.50" y2="761.00" stroke="#000" stroke-width="1.3"/>
<line x1="405.00" y1="696.50" x2="411.50" y2="696.50" stroke="#000" stroke-width="1.3"/>
<line x1="407.50" y1="857.75" x2="411.50" y2="857.75" stroke="#000" stroke-width="1.3"/>
<line x1="407.50" y1="793.25" x2="411.50" y2="793.25" stroke="#000" stroke-width="1.3"/>
<line x1="407.50" y1="728.75" x2="411.50" y2="728.75" stroke="#000" stroke-width="1.3"/>
<line x1="407.50" y1="664.25" x2="411.50" y2="664.25" stroke="#000" stroke-width="1.3"/>
<text x="396.30" y="894.90" font-size="14" text-anchor="end" font-weight="normal" font-style="normal" >0.0</text>
<text x="396.30" y="830.40" font-size="14" text-anchor="end" font-weight="normal" font-style="normal" >0.1</text>
<text x="396.30" y="765.90" font-size="14" text-anchor="end" font-weight="normal" font-style="normal" >0.2</text>
<text x="396.30" y="701.40" font-size="14" text-anchor="end" font-weight="normal" font-style="normal" >0.3</text>
<text transform="translate(362.00,794.90) rotate(-90)" font-size="14" text-anchor="middle">Δ[Ca<tspan font-size="10" dy="-5.5">2+</tspan><tspan dy="5.5">] (μM)</tspan></text>
<line x1="411.50" y1="890.00" x2="518.00" y2="890.00" stroke="#000" stroke-width="1.3"/>
<line x1="424.10" y1="890.00" x2="424.10" y2="896.00" stroke="#000" stroke-width="1.2"/>
<line x1="424.10" y1="684.25" x2="424.10" y2="726.17" stroke="#000" stroke-width="1.3"/>
<line x1="419.60" y1="684.25" x2="428.60" y2="684.25" stroke="#000" stroke-width="1.3"/>
<rect x="413.10" y="726.17" width="22" height="163.83" fill="#000"/>
<line x1="450.80" y1="890.00" x2="450.80" y2="896.00" stroke="#000" stroke-width="1.2"/>
<line x1="450.80" y1="744.88" x2="450.80" y2="765.51" stroke="#000" stroke-width="1.3"/>
<line x1="446.30" y1="744.88" x2="455.30" y2="744.88" stroke="#000" stroke-width="1.3"/>
<rect x="439.80" y="765.51" width="22" height="124.49" fill="#000"/>
<line x1="477.50" y1="890.00" x2="477.50" y2="896.00" stroke="#000" stroke-width="1.2"/>
<line x1="477.50" y1="860.33" x2="477.50" y2="868.07" stroke="#000" stroke-width="1.3"/>
<line x1="473.00" y1="860.33" x2="482.00" y2="860.33" stroke="#000" stroke-width="1.3"/>
<rect x="466.50" y="868.07" width="22" height="21.93" fill="#000"/>
<line x1="504.10" y1="890.00" x2="504.10" y2="896.00" stroke="#000" stroke-width="1.2"/>
<line x1="504.10" y1="700.37" x2="504.10" y2="719.72" stroke="#000" stroke-width="1.3"/>
<line x1="499.60" y1="700.37" x2="508.60" y2="700.37" stroke="#000" stroke-width="1.3"/>
<rect x="493.10" y="719.72" width="22" height="170.28" fill="#000"/>
<text x="477.90" y="858.00" font-size="12" text-anchor="middle" font-weight="normal" font-style="normal" >**</text>
<text transform="translate(427.90,909) rotate(-45)" font-size="14" text-anchor="end" font-style="italic">E. coli</text>
<text transform="translate(454.40,909) rotate(-45)" font-size="14" text-anchor="end" font-style="normal">+ Cli-095</text>
<text transform="translate(480.70,909) rotate(-45)" font-size="14" text-anchor="end" font-style="normal">+ PMB</text>
<text transform="translate(507.30,909) rotate(-45)" font-size="14" text-anchor="end" font-style="italic">S. minn.</text>
<text x="540.00" y="661.00" font-size="20" text-anchor="start" font-weight="bold" font-style="normal" style="letter-spacing:0">g</text>
<line x1="604.50" y1="661.75" x2="604.50" y2="890.00" stroke="#000" stroke-width="1.3"/>
<line x1="598.00" y1="890.00" x2="604.50" y2="890.00" stroke="#000" stroke-width="1.3"/>
<line x1="598.00" y1="848.50" x2="604.50" y2="848.50" stroke="#000" stroke-width="1.3"/>
<line x1="598.00" y1="807.00" x2="604.50" y2="807.00" stroke="#000" stroke-width="1.3"/>
<line x1="598.00" y1="765.50" x2="604.50" y2="765.50" stroke="#000" stroke-width="1.3"/>
<line x1="598.00" y1="724.00" x2="604.50" y2="724.00" stroke="#000" stroke-width="1.3"/>
<line x1="598.00" y1="682.50" x2="604.50" y2="682.50" stroke="#000" stroke-width="1.3"/>
<line x1="600.50" y1="869.25" x2="604.50" y2="869.25" stroke="#000" stroke-width="1.3"/>
<line x1="600.50" y1="827.75" x2="604.50" y2="827.75" stroke="#000" stroke-width="1.3"/>
<line x1="600.50" y1="786.25" x2="604.50" y2="786.25" stroke="#000" stroke-width="1.3"/>
<line x1="600.50" y1="744.75" x2="604.50" y2="744.75" stroke="#000" stroke-width="1.3"/>
<line x1="600.50" y1="703.25" x2="604.50" y2="703.25" stroke="#000" stroke-width="1.3"/>
<line x1="600.50" y1="661.75" x2="604.50" y2="661.75" stroke="#000" stroke-width="1.3"/>
<text x="590.60" y="894.90" font-size="14" text-anchor="end" font-weight="normal" font-style="normal" >0.0</text>
<text x="590.60" y="853.40" font-size="14" text-anchor="end" font-weight="normal" font-style="normal" >0.2</text>
<text x="590.60" y="811.90" font-size="14" text-anchor="end" font-weight="normal" font-style="normal" >0.4</text>
<text x="590.60" y="770.40" font-size="14" text-anchor="end" font-weight="normal" font-style="normal" >0.6</text>
<text x="590.60" y="728.90" font-size="14" text-anchor="end" font-weight="normal" font-style="normal" >0.8</text>
<text x="590.60" y="687.40" font-size="14" text-anchor="end" font-weight="normal" font-style="normal" >1.0</text>
<text transform="translate(558.50,778.30) rotate(-90)" font-size="14" text-anchor="middle">Δ[Ca<tspan font-size="10" dy="-5.5">2+</tspan><tspan dy="5.5">] (μM)</tspan></text>
<line x1="604.50" y1="890.00" x2="685.00" y2="890.00" stroke="#000" stroke-width="1.3"/>
<line x1="617.90" y1="890.00" x2="617.90" y2="896.00" stroke="#000" stroke-width="1.2"/>
<line x1="617.90" y1="690.38" x2="617.90" y2="712.38" stroke="#000" stroke-width="1.3"/>
<line x1="613.40" y1="690.38" x2="622.40" y2="690.38" stroke="#000" stroke-width="1.3"/>
<rect x="606.90" y="712.38" width="22" height="177.62" fill="#000"/>
<line x1="644.50" y1="890.00" x2="644.50" y2="896.00" stroke="#000" stroke-width="1.2"/>
<line x1="644.50" y1="744.75" x2="644.50" y2="755.12" stroke="#000" stroke-width="1.3"/>
<line x1="640.00" y1="744.75" x2="649.00" y2="744.75" stroke="#000" stroke-width="1.3"/>
<rect x="633.50" y="755.12" width="22" height="134.88" fill="#000"/>
<line x1="671.10" y1="890.00" x2="671.10" y2="896.00" stroke="#000" stroke-width="1.2"/>
<line x1="671.10" y1="675.24" x2="671.10" y2="701.17" stroke="#000" stroke-width="1.3"/>
<line x1="666.60" y1="675.24" x2="675.60" y2="675.24" stroke="#000" stroke-width="1.3"/>
<rect x="660.10" y="701.17" width="22" height="188.83" fill="#000"/>
<text x="644.80" y="742.00" font-size="12" text-anchor="middle" font-weight="normal" font-style="normal" >*</text>
<text transform="translate(621.30,909) rotate(-45)" font-size="14" text-anchor="end">GSK</text>
<text transform="translate(647.60,909) rotate(-45)" font-size="14" text-anchor="end">+ Cli-095</text>
<text transform="translate(674.50,909) rotate(-45)" font-size="14" text-anchor="end">+ PMB</text>
</svg>
</body></html>
